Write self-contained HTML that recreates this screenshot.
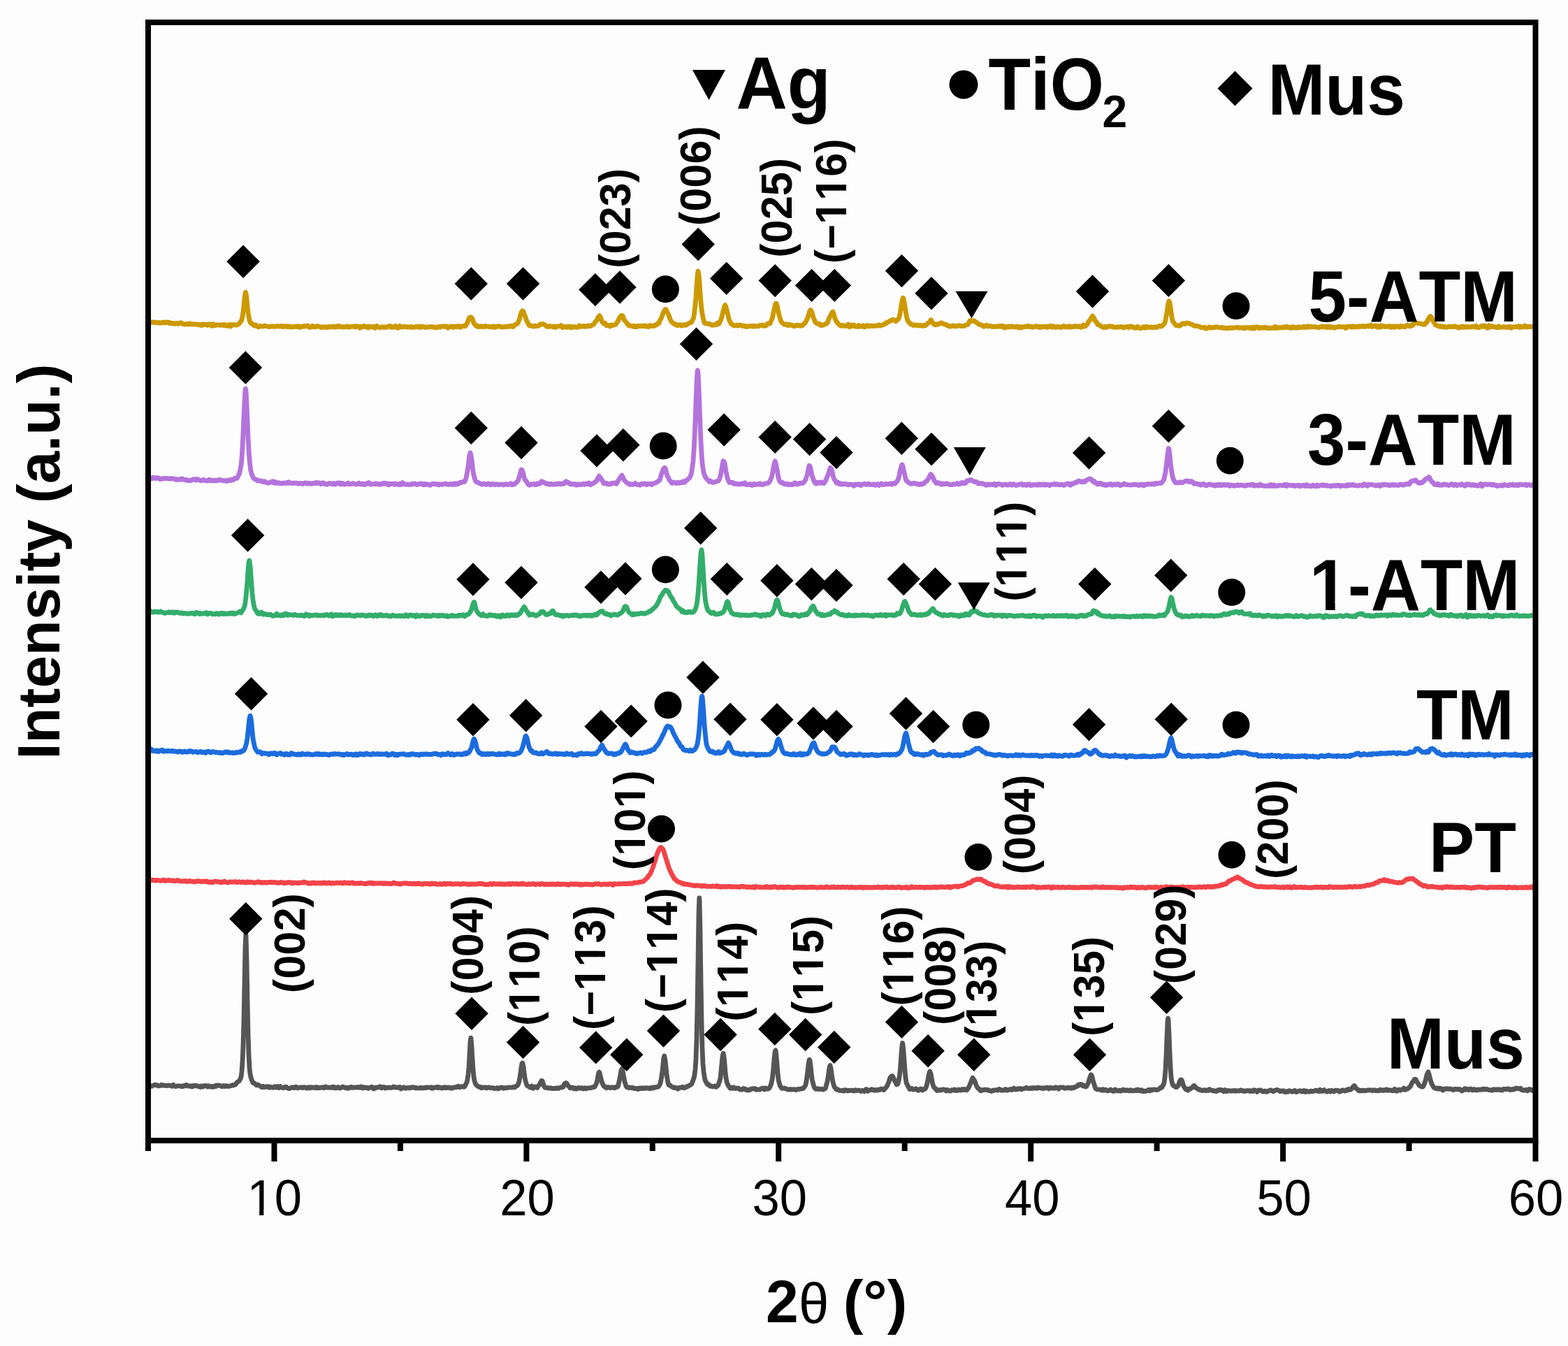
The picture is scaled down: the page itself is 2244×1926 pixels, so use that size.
<!DOCTYPE html>
<html><head><meta charset="utf-8"><title>XRD patterns</title>
<style>html,body{margin:0;padding:0;background:#fdfdfd;}svg{display:block;}</style></head>
<body><svg width="2244" height="1926" viewBox="0 0 2244 1926"><defs><clipPath id="k0" clipPathUnits="userSpaceOnUse"><path clip-rule="evenodd" d="M-200 -300H4000V300H-200ZM58.57 -7.86H70.52V3H58.57ZM78.93 -7.86H90.10V3H78.93ZM92.66 -7.86H104.61V3H92.66ZM113.02 -7.86H124.19V3H113.02Z"/></clipPath><clipPath id="k1" clipPathUnits="userSpaceOnUse"><path clip-rule="evenodd" d="M-200 -300H4000V300H-200ZM22.77 -7.86H34.72V3H22.77ZM43.13 -7.86H54.30V3H43.13ZM56.87 -7.86H68.81V3H56.87ZM77.22 -7.86H88.39V3H77.22ZM90.96 -7.86H102.90V3H90.96ZM111.32 -7.86H122.48V3H111.32Z"/></clipPath><clipPath id="k2" clipPathUnits="userSpaceOnUse"><path clip-rule="evenodd" d="M-200 -300H4000V300H-200ZM22.77 -7.86H34.72V3H22.77ZM43.13 -7.86H54.30V3H43.13ZM90.96 -7.86H102.90V3H90.96ZM111.32 -7.86H122.48V3H111.32Z"/></clipPath><clipPath id="k3" clipPathUnits="userSpaceOnUse"><path clip-rule="evenodd" d="M-200 -300H4000V300H-200ZM22.77 -7.86H34.72V3H22.77ZM43.13 -7.86H54.30V3H43.13ZM56.87 -7.86H68.81V3H56.87ZM77.22 -7.86H88.39V3H77.22Z"/></clipPath><clipPath id="k4" clipPathUnits="userSpaceOnUse"><path clip-rule="evenodd" d="M-200 -300H4000V300H-200ZM58.57 -7.86H70.52V3H58.57ZM78.93 -7.86H90.10V3H78.93ZM92.66 -7.86H104.61V3H92.66ZM113.02 -7.86H124.19V3H113.02Z"/></clipPath><clipPath id="k5" clipPathUnits="userSpaceOnUse"><path clip-rule="evenodd" d="M-200 -300H4000V300H-200ZM58.57 -7.86H70.52V3H58.57ZM78.93 -7.86H90.10V3H78.93ZM92.66 -7.86H104.61V3H92.66ZM113.02 -7.86H124.19V3H113.02Z"/></clipPath><clipPath id="k6" clipPathUnits="userSpaceOnUse"><path clip-rule="evenodd" d="M-200 -300H4000V300H-200ZM22.77 -7.86H34.72V3H22.77ZM43.13 -7.86H54.30V3H43.13ZM56.87 -7.86H68.81V3H56.87ZM77.22 -7.86H88.39V3H77.22Z"/></clipPath><clipPath id="k7" clipPathUnits="userSpaceOnUse"><path clip-rule="evenodd" d="M-200 -300H4000V300H-200ZM22.77 -7.86H34.72V3H22.77ZM43.13 -7.86H54.30V3H43.13ZM56.87 -7.86H68.81V3H56.87ZM77.22 -7.86H88.39V3H77.22Z"/></clipPath><clipPath id="k8" clipPathUnits="userSpaceOnUse"><path clip-rule="evenodd" d="M-200 -300H4000V300H-200ZM22.77 -7.86H34.72V3H22.77ZM43.13 -7.86H54.30V3H43.13ZM56.87 -7.86H68.81V3H56.87ZM77.22 -7.86H88.39V3H77.22Z"/></clipPath><clipPath id="k9" clipPathUnits="userSpaceOnUse"><path clip-rule="evenodd" d="M-200 -300H4000V300H-200ZM22.77 -7.86H34.72V3H22.77ZM43.13 -7.86H54.30V3H43.13Z"/></clipPath><clipPath id="k10" clipPathUnits="userSpaceOnUse"><path clip-rule="evenodd" d="M-200 -300H4000V300H-200ZM22.77 -7.86H34.72V3H22.77ZM43.13 -7.86H54.30V3H43.13Z"/></clipPath><clipPath id="k11" clipPathUnits="userSpaceOnUse"><path clip-rule="evenodd" d="M-200 -300H4000V300H-200ZM4.71 -11.66H23.02V3H4.71ZM36.55 -11.66H53.60V3H36.55Z"/></clipPath><clipPath id="k12" clipPathUnits="userSpaceOnUse"><path clip-rule="evenodd" d="M-200 -300H4000V300H-200ZM3.88 -6.87H17.75V3H3.88ZM23.99 -6.87H37.32V3H23.99Z"/></clipPath></defs><polyline fill="none" stroke="#CC9900" stroke-width="6.8" stroke-linejoin="round" stroke-linecap="round" points="213,461.0 214,461.7 215,462.2 216,461.4 217,460.8 218,460.8 219,461.3 220,461.5 221,461.7 222,460.9 223,461.3 224,462.1 225,461.8 226,461.8 227,461.4 228,461.7 229,462.3 230,462.0 231,461.6 232,462.1 233,461.8 234,460.9 235,461.5 236,461.9 237,460.9 238,460.9 239,461.6 240,461.5 241,461.0 242,461.6 243,462.8 244,462.7 245,462.0 246,462.3 247,463.0 248,462.7 249,462.7 250,463.4 251,463.1 252,462.3 253,462.6 254,463.1 255,463.5 256,462.8 257,462.1 258,462.3 259,461.9 260,462.4 261,463.4 262,463.1 263,463.5 264,464.3 265,464.0 266,463.8 267,464.0 268,463.3 269,463.2 270,464.1 271,463.1 272,463.0 273,463.7 274,464.0 275,463.9 276,463.6 277,464.0 278,463.7 279,463.8 280,464.2 281,464.2 282,464.0 283,464.3 284,464.9 285,464.3 286,464.4 287,465.1 288,465.6 289,464.4 290,464.0 291,465.0 292,464.6 293,463.9 294,464.6 295,464.5 296,464.2 297,465.4 298,464.5 299,463.8 300,464.0 301,464.2 302,465.5 303,466.4 304,464.9 305,463.8 306,464.9 307,465.9 308,465.8 309,464.8 310,464.8 311,465.2 312,465.0 313,464.7 314,465.0 315,465.5 316,465.3 317,465.1 318,464.6 319,464.5 320,465.6 321,465.8 322,464.6 323,465.3 324,466.2 325,466.5 326,466.3 327,465.2 328,464.5 329,465.3 330,467.1 331,466.1 332,464.6 333,465.2 334,465.1 335,464.6 336,464.7 337,464.8 338,465.3 339,465.1 340,464.7 341,464.2 342,463.5 343,462.1 344,460.3 345,459.9 346,457.5 347,452.7 348,446.2 349,437.0 350,426.7 351,419.4 351.4,418.3 352,419.2 353,427.2 354,437.8 355,446.7 356,453.3 357,458.1 358,461.0 359,462.5 360,462.4 361,463.2 362,464.6 363,465.5 364,466.0 365,465.4 366,465.0 367,466.4 368,467.2 369,467.2 370,468.0 371,466.9 372,466.2 373,466.8 374,467.0 375,467.1 376,467.0 377,466.9 378,466.2 379,466.0 380,466.4 381,466.6 382,466.8 383,467.0 384,467.7 385,467.6 386,467.4 387,467.3 388,466.9 389,466.8 390,466.8 391,467.1 392,467.3 393,467.4 394,466.8 395,467.0 396,467.2 397,466.5 398,466.8 399,466.9 400,467.1 401,467.1 402,466.5 403,466.4 404,467.5 405,467.9 406,466.7 407,466.7 408,466.6 409,467.4 410,467.4 411,466.8 412,467.7 413,466.9 414,466.8 415,467.9 416,468.0 417,467.6 418,467.9 419,467.8 420,467.5 421,467.4 422,467.6 423,467.2 424,467.3 425,467.5 426,466.6 427,467.0 428,468.3 429,468.5 430,467.6 431,467.4 432,467.5 433,467.1 434,467.4 435,466.4 436,466.4 437,467.0 438,466.6 439,466.4 440,466.0 441,466.3 442,467.3 443,468.5 444,468.1 445,467.9 446,467.8 447,466.4 448,466.6 449,467.7 450,467.4 451,467.4 452,467.8 453,467.3 454,466.4 455,466.7 456,467.2 457,467.2 458,467.7 459,468.7 460,468.0 461,467.6 462,468.2 463,468.2 464,468.3 465,467.8 466,467.6 467,468.7 468,468.7 469,467.6 470,467.5 471,468.3 472,468.2 473,467.4 474,467.9 475,467.6 476,467.2 477,467.7 478,467.0 479,467.5 480,468.2 481,467.1 482,467.3 483,467.6 484,466.5 485,466.4 486,467.3 487,467.9 488,467.9 489,467.6 490,467.8 491,467.7 492,468.0 493,468.1 494,467.7 495,467.9 496,467.3 497,466.8 498,467.9 499,468.4 500,467.6 501,467.6 502,467.5 503,467.5 504,467.4 505,467.4 506,467.0 507,467.5 508,468.0 509,466.6 510,466.8 511,467.3 512,467.5 513,467.1 514,467.3 515,469.4 516,468.7 517,467.2 518,467.6 519,467.6 520,466.9 521,466.3 522,467.3 523,467.8 524,468.3 525,468.0 526,467.4 527,469.0 528,468.6 529,466.9 530,467.2 531,467.6 532,468.0 533,468.1 534,467.4 535,467.4 536,468.9 537,469.4 538,467.0 539,466.3 540,467.2 541,467.6 542,467.9 543,468.5 544,469.0 545,468.5 546,468.2 547,467.7 548,467.8 549,468.4 550,468.5 551,467.8 552,468.1 553,468.4 554,467.7 555,467.3 556,467.1 557,467.2 558,466.2 559,466.9 560,468.4 561,467.9 562,468.1 563,468.4 564,468.1 565,466.8 566,466.5 567,467.9 568,468.7 569,469.3 570,469.2 571,467.9 572,466.2 573,467.0 574,468.0 575,468.2 576,468.1 577,467.8 578,467.2 579,467.3 580,467.8 581,467.7 582,468.1 583,467.9 584,467.9 585,467.9 586,468.1 587,468.3 588,467.7 589,467.3 590,468.3 591,468.5 592,468.2 593,468.4 594,467.7 595,467.2 596,467.5 597,468.0 598,468.2 599,467.5 600,467.0 601,467.5 602,468.5 603,467.5 604,466.9 605,467.8 606,467.8 607,467.8 608,467.7 609,468.7 610,468.7 611,468.2 612,468.2 613,467.6 614,467.7 615,468.0 616,467.4 617,467.4 618,467.7 619,468.1 620,468.1 621,467.6 622,468.2 623,468.9 624,468.8 625,468.7 626,468.0 627,467.6 628,467.5 629,468.1 630,468.3 631,467.2 632,467.1 633,467.2 634,467.2 635,467.3 636,466.7 637,467.3 638,467.8 639,467.0 640,467.4 641,469.1 642,468.1 643,467.9 644,468.3 645,467.2 646,467.4 647,467.0 648,467.6 649,468.5 650,467.6 651,467.2 652,466.8 653,466.8 654,467.8 655,467.2 656,466.5 657,467.3 658,467.9 659,468.4 660,467.6 661,466.6 662,466.8 663,466.8 664,466.2 665,466.4 666,466.7 667,465.4 668,463.3 669,461.7 670,458.9 671,456.2 672,454.4 673,454.0 673.5,454.6 674,453.8 675,454.8 676,455.8 677,458.6 678,462.6 679,463.6 680,464.5 681,466.0 682,465.6 683,466.1 684,467.7 685,467.6 686,467.1 687,467.4 688,466.9 689,466.6 690,467.8 691,467.3 692,467.3 693,467.7 694,466.4 695,466.5 696,467.0 697,467.2 698,467.2 699,467.5 700,467.7 701,467.4 702,467.5 703,467.2 704,468.0 705,468.2 706,467.5 707,466.8 708,467.5 709,468.4 710,467.8 711,467.5 712,467.2 713,466.6 714,466.7 715,467.3 716,467.8 717,467.3 718,467.5 719,468.1 720,467.9 721,467.9 722,467.7 723,467.2 724,467.5 725,467.5 726,467.6 727,467.0 728,467.2 729,467.3 730,466.5 731,466.2 732,466.4 733,467.5 734,467.5 735,467.1 736,465.7 737,464.6 738,464.5 739,463.8 740,463.4 741,462.5 742,460.1 743,457.8 744,454.4 745,450.4 746,447.2 747,445.3 748,444.8 749,445.8 750,448.7 751,451.1 752,453.7 753,457.3 754,459.4 755,461.0 756,463.5 757,465.2 758,466.0 759,466.0 760,465.8 761,466.5 762,466.6 763,466.4 764,467.2 765,467.0 766,466.1 767,466.2 768,466.7 769,466.7 770,466.3 771,466.1 772,465.0 773,464.0 774,464.4 775,464.2 776,463.4 777,463.4 778,463.9 779,464.7 780,465.1 781,465.6 782,467.2 783,467.3 784,467.3 785,467.7 786,466.7 787,466.6 788,466.7 789,467.2 790,467.2 791,467.4 792,468.2 793,466.8 794,466.9 795,468.5 796,467.8 797,467.5 798,467.1 799,466.8 800,466.8 801,466.9 802,466.9 803,465.5 804,466.5 805,468.7 806,468.2 807,467.6 808,467.9 809,467.4 810,467.6 811,468.5 812,467.6 813,467.2 814,467.9 815,467.0 816,467.5 817,469.0 818,467.9 819,467.8 820,468.2 821,467.4 822,468.0 823,468.2 824,467.6 825,468.2 826,468.6 827,468.3 828,467.1 829,465.9 830,467.1 831,467.3 832,466.9 833,466.8 834,466.6 835,466.5 836,467.2 837,467.3 838,466.5 839,466.8 840,467.3 841,466.7 842,466.0 843,466.4 844,466.5 845,466.6 846,465.9 847,465.4 848,465.0 849,464.4 850,463.6 851,461.9 852,460.5 853,459.2 854,458.4 855,456.2 856,453.9 857,454.0 857.3,452.9 858,451.6 859,453.1 860,455.5 861,458.9 862,460.9 863,461.9 864,463.0 865,462.3 866,462.2 867,464.3 868,465.8 869,465.1 870,465.7 871,465.7 872,465.7 873,467.1 874,466.2 875,465.0 876,465.7 877,465.5 878,465.3 879,464.9 880,464.5 881,464.4 882,463.0 883,461.4 884,460.2 885,458.0 886,455.8 887,454.4 888,453.0 889,451.5 889.7,451.7 890,452.1 891,451.7 892,454.1 893,457.4 894,458.7 895,459.4 896,461.1 897,462.5 898,463.3 899,465.1 900,466.0 901,465.7 902,466.0 903,466.1 904,466.5 905,467.0 906,466.6 907,466.3 908,467.6 909,467.8 910,466.7 911,467.5 912,467.6 913,466.2 914,466.5 915,466.6 916,466.1 917,466.6 918,466.8 919,466.3 920,466.1 921,466.1 922,466.9 923,466.8 924,466.0 925,467.2 926,467.2 927,466.9 928,467.7 929,466.9 930,465.6 931,465.7 932,466.6 933,466.7 934,466.3 935,466.2 936,466.6 937,465.4 938,465.1 939,465.2 940,463.8 941,462.9 942,463.1 943,462.6 944,459.5 945,457.3 946,456.0 947,453.6 948,450.8 949,447.6 950,445.8 951,444.1 952,442.6 952.4,442.6 953,442.7 954,444.5 955,447.0 956,448.8 957,450.8 958,453.4 959,456.6 960,458.8 961,460.1 962,461.2 963,462.1 964,463.1 965,463.0 966,464.1 967,464.9 968,464.2 969,465.4 970,465.9 971,465.4 972,465.1 973,464.4 974,464.8 975,466.1 976,465.6 977,465.6 978,465.4 979,464.4 980,465.1 981,465.3 982,465.2 983,464.7 984,463.6 985,462.8 986,462.4 987,462.3 988,461.6 989,461.4 990,460.6 991,457.8 992,456.5 993,452.8 994,444.6 995,436.2 996,425.0 997,409.7 998,395.1 999,388.0 999.2,389.0 1000,392.7 1001,403.4 1002,418.0 1003,432.2 1004,442.1 1005,448.9 1006,454.0 1007,458.4 1008,461.8 1009,462.6 1010,462.6 1011,463.2 1012,462.8 1013,463.0 1014,463.7 1015,463.2 1016,463.6 1017,464.2 1018,464.9 1019,465.4 1020,465.3 1021,464.6 1022,464.7 1023,465.0 1024,465.1 1025,464.5 1026,462.4 1027,462.2 1028,463.8 1029,463.3 1030,460.9 1031,459.2 1032,456.9 1033,453.5 1034,449.2 1035,444.8 1036,441.1 1037,437.9 1037.8,436.5 1038,436.9 1039,439.6 1040,443.3 1041,447.3 1042,451.4 1043,456.0 1044,458.9 1045,460.5 1046,463.0 1047,463.8 1048,463.9 1049,464.9 1050,466.0 1051,466.0 1052,465.6 1053,465.7 1054,465.2 1055,465.8 1056,466.3 1057,465.1 1058,465.3 1059,465.3 1060,465.0 1061,465.9 1062,465.9 1063,466.5 1064,466.2 1065,465.9 1066,466.9 1067,467.4 1068,467.6 1069,467.1 1070,466.7 1071,466.6 1072,467.1 1073,466.8 1074,466.5 1075,466.8 1076,466.6 1077,466.5 1078,467.4 1079,467.2 1080,466.3 1081,466.7 1082,466.9 1083,466.9 1084,466.8 1085,467.0 1086,466.1 1087,465.6 1088,465.7 1089,465.7 1090,465.7 1091,465.0 1092,465.4 1093,466.4 1094,466.5 1095,465.9 1096,466.0 1097,465.2 1098,463.3 1099,463.1 1100,463.3 1101,463.2 1102,463.1 1103,460.3 1104,458.1 1105,456.3 1106,451.7 1107,446.7 1108,442.7 1109,438.4 1110,434.5 1110.5,434.1 1111,434.1 1112,436.8 1113,441.6 1114,446.2 1115,450.9 1116,454.1 1117,457.6 1118,460.0 1119,461.5 1120,462.4 1121,463.0 1122,463.9 1123,464.2 1124,464.6 1125,463.8 1126,463.8 1127,465.0 1128,465.9 1129,465.3 1130,464.1 1131,464.5 1132,465.4 1133,465.5 1134,465.3 1135,466.0 1136,466.8 1137,466.7 1138,465.9 1139,465.5 1140,465.8 1141,465.1 1142,465.6 1143,466.2 1144,465.4 1145,465.9 1146,466.3 1147,465.9 1148,465.8 1149,465.4 1150,463.8 1151,462.6 1152,462.6 1153,461.0 1154,458.6 1155,456.7 1156,454.3 1157,451.4 1158,447.9 1159,444.7 1160,443.7 1161,445.0 1162,447.0 1163,450.7 1164,454.3 1165,456.3 1166,459.1 1167,461.2 1168,462.3 1169,462.7 1170,463.1 1171,463.8 1172,463.7 1173,463.4 1174,465.0 1175,465.8 1176,465.0 1177,465.6 1178,465.3 1179,464.9 1180,464.1 1181,463.6 1182,463.5 1183,462.8 1184,462.0 1185,459.6 1186,456.7 1187,454.4 1188,452.8 1189,450.8 1190,448.6 1191,446.7 1192,446.1 1193,448.9 1194,452.6 1195,455.4 1196,458.2 1197,460.4 1198,461.3 1199,462.2 1200,463.6 1201,464.7 1202,465.0 1203,466.3 1204,466.4 1205,465.6 1206,465.4 1207,465.3 1208,466.1 1209,466.6 1210,466.3 1211,466.3 1212,466.5 1213,465.5 1214,464.0 1215,465.9 1216,467.8 1217,466.8 1218,465.6 1219,465.1 1220,466.5 1221,465.9 1222,465.1 1223,466.8 1224,467.0 1225,466.9 1226,466.8 1227,467.6 1228,467.2 1229,465.5 1230,466.1 1231,467.3 1232,467.2 1233,467.0 1234,466.8 1235,465.8 1236,466.6 1237,467.9 1238,467.9 1239,467.0 1240,465.8 1241,465.5 1242,465.9 1243,466.6 1244,467.0 1245,466.0 1246,465.9 1247,466.5 1248,466.4 1249,466.4 1250,466.2 1251,466.5 1252,466.6 1253,466.4 1254,466.0 1255,466.0 1256,466.2 1257,465.0 1258,465.2 1259,466.0 1260,466.0 1261,465.9 1262,465.3 1263,465.2 1264,464.9 1265,464.3 1266,463.0 1267,463.5 1268,463.0 1269,461.3 1270,461.5 1271,461.0 1272,460.1 1273,459.5 1274,459.1 1275,458.4 1276,458.9 1277,458.3 1278,457.2 1279,457.9 1280,457.9 1281,458.6 1282,459.7 1283,459.2 1284,457.8 1285,457.3 1286,455.9 1287,453.4 1288,449.3 1289,443.0 1290,436.3 1291,430.6 1292,427.3 1292.4,426.3 1293,427.2 1294,432.0 1295,438.0 1296,444.2 1297,450.7 1298,455.7 1299,458.6 1300,460.4 1301,461.1 1302,462.3 1303,463.6 1304,464.1 1305,464.3 1306,465.2 1307,465.6 1308,464.9 1309,464.8 1310,465.1 1311,465.4 1312,465.3 1313,465.2 1314,466.1 1315,466.2 1316,465.6 1317,465.3 1318,465.7 1319,466.2 1320,466.5 1321,466.2 1322,465.1 1323,465.6 1324,466.1 1325,465.3 1326,464.7 1327,463.4 1328,462.2 1329,461.8 1330,461.4 1331,460.3 1332,457.9 1332.4,457.7 1333,459.4 1334,460.7 1335,461.8 1336,463.3 1337,464.5 1338,464.7 1339,464.9 1340,463.9 1341,463.8 1342,464.5 1343,463.5 1344,463.1 1345,463.0 1346,462.3 1347,461.9 1348,462.2 1349,462.8 1350,463.3 1351,464.0 1352,464.0 1353,464.1 1354,464.6 1355,464.9 1356,466.1 1357,466.5 1358,466.4 1359,466.5 1360,467.3 1361,466.8 1362,466.5 1363,466.4 1364,465.8 1365,466.5 1366,466.4 1367,466.4 1368,467.1 1369,466.5 1370,466.1 1371,466.4 1372,465.6 1373,465.6 1374,466.1 1375,466.7 1376,466.5 1377,466.6 1378,466.6 1379,466.5 1380,466.7 1381,465.6 1382,465.3 1383,465.0 1384,464.7 1385,464.4 1386,462.8 1387,460.7 1388,458.9 1389,458.5 1390,459.5 1391,459.4 1392,459.0 1393,458.8 1394,458.9 1395,459.5 1396,460.7 1397,460.9 1398,461.8 1399,462.7 1400,463.0 1401,464.0 1402,464.4 1403,464.7 1404,464.7 1405,465.4 1406,465.6 1407,467.0 1408,467.5 1409,466.2 1410,466.2 1411,466.1 1412,465.3 1413,465.7 1414,467.0 1415,466.5 1416,466.4 1417,466.5 1418,466.5 1419,467.3 1420,467.5 1421,467.6 1422,467.1 1423,467.3 1424,467.4 1425,467.2 1426,467.7 1427,467.4 1428,466.6 1429,467.0 1430,467.1 1431,466.4 1432,466.4 1433,467.2 1434,467.7 1435,466.3 1436,466.7 1437,468.6 1438,469.1 1439,467.9 1440,467.2 1441,467.7 1442,468.1 1443,467.8 1444,467.0 1445,467.3 1446,468.1 1447,467.1 1448,466.7 1449,467.4 1450,467.6 1451,467.7 1452,468.1 1453,468.1 1454,467.7 1455,466.9 1456,467.2 1457,468.4 1458,469.0 1459,468.4 1460,467.5 1461,468.2 1462,468.9 1463,468.4 1464,468.0 1465,467.5 1466,467.5 1467,467.5 1468,467.1 1469,467.5 1470,467.3 1471,466.4 1472,466.3 1473,467.4 1474,467.7 1475,467.4 1476,467.6 1477,468.1 1478,468.3 1479,467.7 1480,467.3 1481,467.5 1482,467.1 1483,466.6 1484,466.9 1485,467.2 1486,468.2 1487,468.6 1488,467.5 1489,467.4 1490,468.4 1491,468.1 1492,467.2 1493,467.3 1494,467.3 1495,467.6 1496,468.2 1497,467.6 1498,467.1 1499,468.4 1500,468.2 1501,467.4 1502,467.3 1503,466.2 1504,466.5 1505,468.2 1506,468.1 1507,466.7 1508,467.0 1509,467.9 1510,468.2 1511,468.6 1512,468.0 1513,467.8 1514,467.1 1515,467.5 1516,468.3 1517,468.3 1518,468.7 1519,468.1 1520,467.6 1521,467.3 1522,466.4 1523,466.8 1524,467.8 1525,467.3 1526,467.6 1527,468.1 1528,468.0 1529,467.6 1530,466.6 1531,467.3 1532,468.3 1533,467.9 1534,467.5 1535,467.4 1536,467.5 1537,467.4 1538,466.5 1539,467.1 1540,467.3 1541,466.7 1542,467.2 1543,467.5 1544,466.8 1545,467.2 1546,468.2 1547,467.9 1548,468.1 1549,467.2 1550,465.1 1551,465.4 1552,467.2 1553,467.2 1554,465.8 1555,464.6 1556,464.0 1557,462.1 1558,460.2 1559,458.9 1560,458.0 1561,456.0 1562,454.4 1563,453.7 1563.5,452.1 1564,453.2 1565,454.5 1566,455.5 1567,458.7 1568,460.1 1569,460.5 1570,462.7 1571,464.5 1572,464.4 1573,464.6 1574,465.5 1575,466.8 1576,467.1 1577,467.2 1578,468.2 1579,468.6 1580,468.6 1581,468.7 1582,467.4 1583,467.4 1584,468.4 1585,467.8 1586,467.2 1587,466.6 1588,466.6 1589,467.3 1590,467.3 1591,467.0 1592,467.3 1593,468.0 1594,468.1 1595,467.8 1596,468.5 1597,468.5 1598,468.2 1599,467.8 1600,467.7 1601,468.3 1602,468.2 1603,468.0 1604,467.4 1605,467.5 1606,467.8 1607,468.4 1608,469.0 1609,468.0 1610,467.9 1611,468.2 1612,468.2 1613,468.2 1614,467.3 1615,468.0 1616,468.8 1617,467.8 1618,466.8 1619,467.1 1620,467.4 1621,467.5 1622,468.3 1623,469.2 1624,468.7 1625,468.7 1626,469.4 1627,468.6 1628,467.3 1629,467.9 1630,468.9 1631,469.6 1632,469.9 1633,469.2 1634,469.3 1635,468.5 1636,467.8 1637,468.2 1638,468.9 1639,469.2 1640,467.1 1641,467.4 1642,468.4 1643,468.1 1644,468.3 1645,468.0 1646,468.5 1647,468.5 1648,467.7 1649,468.2 1650,468.8 1651,468.1 1652,468.2 1653,467.9 1654,468.4 1655,468.6 1656,467.9 1657,467.8 1658,467.1 1659,466.3 1660,466.6 1661,467.0 1662,467.2 1663,466.8 1664,465.1 1665,464.3 1666,463.7 1667,461.7 1668,458.1 1669,452.4 1670,446.6 1671,439.9 1672,433.6 1673,430.7 1674,433.3 1675,439.6 1676,446.6 1677,453.8 1678,458.6 1679,460.5 1680,461.7 1681,463.1 1682,464.6 1683,465.6 1684,465.6 1685,465.7 1686,466.0 1687,466.0 1688,466.4 1689,465.9 1690,465.0 1691,463.9 1692,462.9 1693,463.1 1694,462.9 1695,463.0 1696,463.7 1697,463.1 1698,462.2 1699,462.1 1700,462.3 1701,462.4 1702,462.7 1703,463.4 1704,463.7 1705,464.2 1706,464.5 1707,464.6 1708,465.8 1709,466.2 1710,466.1 1711,466.5 1712,466.3 1713,466.4 1714,466.5 1715,467.0 1716,467.3 1717,467.3 1718,468.3 1719,468.5 1720,468.6 1721,468.9 1722,468.9 1723,468.6 1724,468.3 1725,469.8 1726,470.2 1727,469.5 1728,469.3 1729,469.2 1730,468.6 1731,467.9 1732,468.6 1733,469.4 1734,469.0 1735,468.6 1736,468.7 1737,468.7 1738,468.3 1739,467.8 1740,468.3 1741,468.2 1742,467.8 1743,468.3 1744,468.3 1745,468.7 1746,469.0 1747,468.8 1748,468.6 1749,468.3 1750,469.0 1751,469.5 1752,469.1 1753,469.1 1754,469.4 1755,469.3 1756,470.0 1757,469.7 1758,469.2 1759,469.6 1760,469.3 1761,468.6 1762,469.0 1763,469.7 1764,469.4 1765,469.2 1766,469.2 1767,468.8 1768,468.9 1769,468.5 1770,468.3 1771,468.5 1772,468.3 1773,469.3 1774,469.3 1775,468.8 1776,469.1 1777,469.2 1778,468.8 1779,468.7 1780,469.6 1781,470.0 1782,469.6 1783,468.7 1784,468.8 1785,468.7 1786,468.7 1787,468.7 1788,469.4 1789,469.1 1790,468.8 1791,469.9 1792,468.5 1793,468.0 1794,469.5 1795,470.1 1796,468.7 1797,467.9 1798,468.1 1799,467.9 1800,468.1 1801,469.4 1802,469.8 1803,468.8 1804,468.6 1805,469.0 1806,469.4 1807,468.7 1808,469.1 1809,469.0 1810,468.2 1811,468.9 1812,469.7 1813,469.4 1814,468.7 1815,469.5 1816,469.6 1817,469.5 1818,469.7 1819,469.3 1820,469.1 1821,469.4 1822,469.1 1823,469.4 1824,468.5 1825,467.3 1826,468.9 1827,469.5 1828,468.5 1829,468.5 1830,469.3 1831,468.8 1832,468.7 1833,468.9 1834,468.4 1835,468.5 1836,469.0 1837,468.5 1838,467.8 1839,468.6 1840,468.2 1841,467.2 1842,468.0 1843,468.7 1844,468.4 1845,468.4 1846,468.1 1847,469.3 1848,469.3 1849,467.8 1850,467.6 1851,467.6 1852,468.9 1853,469.1 1854,468.6 1855,468.4 1856,468.9 1857,469.2 1858,467.8 1859,468.1 1860,468.5 1861,468.4 1862,468.6 1863,468.4 1864,468.4 1865,467.9 1866,467.1 1867,468.0 1868,468.6 1869,468.3 1870,468.1 1871,467.1 1872,466.7 1873,468.2 1874,468.4 1875,467.6 1876,467.3 1877,467.2 1878,467.7 1879,467.8 1880,467.9 1881,467.8 1882,467.5 1883,467.8 1884,468.2 1885,468.1 1886,468.7 1887,468.9 1888,468.2 1889,467.8 1890,468.1 1891,468.0 1892,466.8 1893,466.8 1894,467.8 1895,467.7 1896,468.0 1897,468.5 1898,467.2 1899,467.1 1900,468.6 1901,468.3 1902,466.9 1903,467.5 1904,468.7 1905,468.9 1906,468.1 1907,467.8 1908,468.1 1909,468.5 1910,469.3 1911,468.7 1912,468.4 1913,468.2 1914,467.9 1915,467.6 1916,467.0 1917,467.6 1918,467.6 1919,467.8 1920,467.9 1921,467.6 1922,467.8 1923,467.6 1924,467.6 1925,468.3 1926,469.6 1927,468.6 1928,467.3 1929,467.7 1930,467.2 1931,467.4 1932,467.4 1933,467.2 1934,468.1 1935,467.2 1936,466.8 1937,467.9 1938,467.3 1939,467.3 1940,467.9 1941,467.5 1942,467.8 1943,467.4 1944,467.1 1945,467.5 1946,466.7 1947,466.7 1948,467.0 1949,467.4 1950,466.9 1951,466.4 1952,466.8 1953,467.6 1954,467.2 1955,467.0 1956,466.7 1957,466.3 1958,467.0 1959,467.0 1960,466.7 1961,465.6 1962,465.2 1963,466.7 1964,467.5 1965,466.5 1966,466.8 1967,466.8 1968,466.1 1969,465.9 1970,466.8 1971,468.2 1972,467.3 1973,466.5 1974,467.4 1975,468.3 1976,466.8 1977,465.9 1978,467.3 1979,466.6 1980,466.5 1981,467.3 1982,467.5 1983,467.1 1984,467.0 1985,467.0 1986,467.2 1987,467.5 1988,467.1 1989,466.4 1990,467.3 1991,468.5 1992,468.2 1993,467.4 1994,466.8 1995,467.9 1996,468.4 1997,467.3 1998,467.0 1999,467.4 2000,467.3 2001,466.8 2002,467.5 2003,468.2 2004,467.5 2005,466.5 2006,466.3 2007,467.0 2008,467.6 2009,467.5 2010,467.5 2011,467.7 2012,466.8 2013,465.5 2014,465.2 2015,465.6 2016,466.0 2017,466.6 2018,467.0 2019,466.5 2020,465.0 2021,465.6 2022,465.6 2023,463.8 2024,462.9 2025,461.8 2026,461.6 2027,462.0 2028,462.2 2029,462.6 2030,462.6 2031,463.2 2032,463.2 2033,463.0 2034,463.6 2035,463.6 2036,463.8 2037,464.3 2038,464.6 2039,464.3 2040,462.5 2041,461.5 2042,461.6 2043,459.1 2044,456.1 2045,455.0 2046,453.3 2047,452.5 2048,453.7 2049,454.9 2050,457.0 2051,459.8 2052,460.9 2053,462.3 2054,464.5 2055,465.3 2056,465.6 2057,466.4 2058,466.4 2059,466.8 2060,467.3 2061,466.5 2062,466.7 2063,467.6 2064,467.8 2065,467.2 2066,467.1 2067,468.0 2068,467.9 2069,467.9 2070,468.4 2071,467.9 2072,467.6 2073,467.5 2074,467.7 2075,467.8 2076,467.1 2077,467.2 2078,467.4 2079,467.6 2080,467.8 2081,467.1 2082,466.7 2083,467.3 2084,467.9 2085,467.7 2086,468.7 2087,469.2 2088,468.0 2089,467.8 2090,468.5 2091,468.3 2092,466.9 2093,466.8 2094,467.6 2095,468.5 2096,467.7 2097,467.4 2098,468.2 2099,467.9 2100,467.8 2101,467.5 2102,468.2 2103,468.1 2104,468.1 2105,468.0 2106,467.4 2107,467.3 2108,467.2 2109,467.3 2110,468.1 2111,467.7 2112,466.3 2113,466.8 2114,468.3 2115,468.8 2116,468.6 2117,468.7 2118,467.8 2119,467.3 2120,466.4 2121,466.1 2122,467.6 2123,467.2 2124,466.0 2125,466.1 2126,467.1 2127,468.2 2128,469.3 2129,469.4 2130,467.5 2131,465.9 2132,466.6 2133,468.1 2134,467.3 2135,466.6 2136,467.2 2137,467.4 2138,467.5 2139,467.7 2140,468.3 2141,468.1 2142,468.0 2143,468.8 2144,468.0 2145,466.7 2146,467.4 2147,468.7 2148,468.5 2149,468.2 2150,468.0 2151,467.9 2152,467.7 2153,467.6 2154,468.1 2155,468.0 2156,468.4 2157,468.7 2158,467.8 2159,467.7 2160,467.2 2161,467.3 2162,469.3 2163,469.1 2164,468.1 2165,467.9 2166,468.0 2167,467.8 2168,467.7 2169,467.8 2170,467.3 2171,467.5 2172,467.6 2173,466.8 2174,467.8 2175,468.6 2176,466.9 2177,467.3 2178,468.1 2179,467.7 2180,468.0 2181,467.5 2182,465.9 2183,466.2 2184,467.7 2185,468.2 2186,467.7 2187,467.1 2188,467.7 2189,467.6 2190,467.3 2191,467.6 2192,467.3 2193,467.9 2194,467.9 2195,467.2"/>
<polyline fill="none" stroke="#B473DC" stroke-width="6.8" stroke-linejoin="round" stroke-linecap="round" points="213,683.7 214,684.3 215,684.6 216,684.5 217,685.0 218,684.2 219,683.2 220,683.2 221,683.5 222,684.6 223,684.7 224,684.5 225,683.7 226,683.6 227,684.1 228,684.8 229,685.7 230,685.4 231,685.0 232,684.9 233,685.3 234,684.9 235,684.4 236,684.6 237,684.6 238,684.4 239,684.6 240,684.6 241,685.1 242,684.7 243,684.8 244,685.3 245,684.7 246,684.4 247,684.7 248,685.2 249,685.4 250,685.3 251,685.3 252,686.4 253,686.6 254,685.6 255,685.9 256,686.1 257,686.0 258,686.4 259,686.0 260,684.9 261,685.0 262,686.1 263,686.2 264,686.2 265,686.8 266,686.4 267,686.6 268,687.6 269,687.6 270,687.4 271,687.5 272,688.0 273,687.6 274,686.7 275,686.9 276,686.5 277,685.6 278,685.7 279,686.6 280,687.2 281,686.4 282,685.4 283,685.9 284,686.7 285,686.9 286,687.3 287,687.9 288,687.7 289,687.5 290,686.9 291,686.2 292,686.8 293,687.6 294,687.9 295,687.9 296,687.9 297,688.1 298,686.9 299,686.3 300,687.3 301,687.9 302,687.0 303,687.3 304,687.8 305,687.2 306,687.6 307,688.0 308,687.3 309,687.4 310,688.1 311,687.3 312,687.1 313,686.5 314,686.3 315,687.4 316,687.4 317,687.1 318,687.4 319,687.5 320,688.0 321,688.0 322,687.4 323,687.6 324,688.6 325,688.1 326,687.3 327,686.7 328,687.0 329,687.9 330,687.7 331,687.2 332,686.0 333,686.2 334,686.7 335,685.6 336,684.2 337,684.3 338,684.2 339,684.5 340,683.3 341,680.6 342,679.0 343,675.8 344,671.3 345,666.1 346,656.3 347,640.3 348,619.8 349,596.3 350,573.4 351,558.1 351.4,556.1 352,559.5 353,577.6 354,601.7 355,625.3 356,643.8 357,656.9 358,667.2 359,673.9 360,677.4 361,680.1 362,682.9 363,684.2 364,684.9 365,685.8 366,686.6 367,686.3 368,686.5 369,688.0 370,687.9 371,687.6 372,688.3 373,688.1 374,688.0 375,688.6 376,689.4 377,689.7 378,689.0 379,688.9 380,689.8 381,690.5 382,690.8 383,690.8 384,691.1 385,691.2 386,690.4 387,690.1 388,690.2 389,689.1 390,688.7 391,690.8 392,691.1 393,689.2 394,689.5 395,691.2 396,691.5 397,691.0 398,690.9 399,690.7 400,691.4 401,691.9 402,691.3 403,691.3 404,691.9 405,691.4 406,691.1 407,691.3 408,690.9 409,691.3 410,691.6 411,690.8 412,690.1 413,689.8 414,691.3 415,691.4 416,690.9 417,691.3 418,691.3 419,691.8 420,691.2 421,690.8 422,691.2 423,691.4 424,691.4 425,691.2 426,691.5 427,692.3 428,692.2 429,691.3 430,691.3 431,691.6 432,691.7 433,692.5 434,692.2 435,691.4 436,691.1 437,691.0 438,691.1 439,692.0 440,692.4 441,691.4 442,692.2 443,691.8 444,691.4 445,692.4 446,692.3 447,691.8 448,691.4 449,691.4 450,691.8 451,691.0 452,690.4 453,691.5 454,691.5 455,690.6 456,690.8 457,691.3 458,691.7 459,692.7 460,692.4 461,690.9 462,690.8 463,691.3 464,691.7 465,692.9 466,692.7 467,692.9 468,693.4 469,692.8 470,691.8 471,691.6 472,691.4 473,691.8 474,692.5 475,692.7 476,692.8 477,691.3 478,691.5 479,692.8 480,693.2 481,692.4 482,691.2 483,691.7 484,691.7 485,691.0 486,691.0 487,692.8 488,693.0 489,691.4 490,691.5 491,691.9 492,692.7 493,693.2 494,692.9 495,692.5 496,692.3 497,692.0 498,691.2 499,692.4 500,692.9 501,692.5 502,692.5 503,692.1 504,692.1 505,691.6 506,691.6 507,692.4 508,692.8 509,692.9 510,693.0 511,692.9 512,692.4 513,691.4 514,691.2 515,692.8 516,693.1 517,692.8 518,692.6 519,692.0 520,693.0 521,693.5 522,693.2 523,693.3 524,692.5 525,691.3 526,691.4 527,691.8 528,690.7 529,692.0 530,693.3 531,693.1 532,692.8 533,692.5 534,692.7 535,692.7 536,692.6 537,692.9 538,691.7 539,691.8 540,692.6 541,692.6 542,693.4 543,692.7 544,692.5 545,693.3 546,692.6 547,692.0 548,692.4 549,691.6 550,691.3 551,692.4 552,692.4 553,691.6 554,691.7 555,693.1 556,693.9 557,693.1 558,692.2 559,692.2 560,692.6 561,692.3 562,692.2 563,692.8 564,693.3 565,692.0 566,692.0 567,693.2 568,693.2 569,693.2 570,692.9 571,693.6 572,692.1 573,692.1 574,693.5 575,692.0 576,690.7 577,691.7 578,692.4 579,692.7 580,693.3 581,692.8 582,693.1 583,693.3 584,693.2 585,693.5 586,693.3 587,693.3 588,693.5 589,692.5 590,692.1 591,692.6 592,692.6 593,691.9 594,691.9 595,692.7 596,693.1 597,693.6 598,693.3 599,692.4 600,692.4 601,692.5 602,692.5 603,691.8 604,692.2 605,693.5 606,693.9 607,692.9 608,692.3 609,693.7 610,693.7 611,693.0 612,693.0 613,693.3 614,693.8 615,694.4 616,694.2 617,693.4 618,692.6 619,692.2 620,692.5 621,692.5 622,692.2 623,692.9 624,693.0 625,692.6 626,692.5 627,692.6 628,693.9 629,693.4 630,692.8 631,693.1 632,693.1 633,693.3 634,692.9 635,692.6 636,692.6 637,692.3 638,692.0 639,692.8 640,693.0 641,692.9 642,693.5 643,692.7 644,692.9 645,692.9 646,692.7 647,693.7 648,693.1 649,692.0 650,691.8 651,693.2 652,693.4 653,691.8 654,692.2 655,692.6 656,692.1 657,691.6 658,690.5 659,690.4 660,690.7 661,690.0 662,689.6 663,689.4 664,689.5 665,689.1 666,687.3 667,684.0 668,679.1 669,673.7 670,667.0 671,658.9 672,651.3 673,647.7 674,651.0 675,657.9 676,665.9 677,674.0 678,679.6 679,683.4 680,687.0 681,688.9 682,689.8 683,690.0 684,690.2 685,691.0 686,691.6 687,692.2 688,692.1 689,692.9 690,693.3 691,692.4 692,692.0 693,692.2 694,692.3 695,693.1 696,693.7 697,692.9 698,692.4 699,692.0 700,692.3 701,693.4 702,693.9 703,693.3 704,693.0 705,692.2 706,692.5 707,693.2 708,693.5 709,693.6 710,692.7 711,692.9 712,692.9 713,693.4 714,693.8 715,693.3 716,693.4 717,693.0 718,693.1 719,693.3 720,693.9 721,693.8 722,693.2 723,693.0 724,692.6 725,692.7 726,693.4 727,693.5 728,693.3 729,693.2 730,692.5 731,691.7 732,692.1 733,693.8 734,693.2 735,692.8 736,693.1 737,691.9 738,691.4 739,690.7 740,689.2 741,688.6 742,686.5 743,682.4 744,679.2 745,675.4 746,672.1 746.5,672.1 747,672.5 748,674.8 749,678.0 750,682.9 751,686.3 752,687.4 753,688.2 754,689.7 755,692.0 756,693.0 757,693.9 758,694.2 759,693.2 760,692.7 761,693.2 762,693.3 763,692.8 764,692.4 765,692.4 766,693.7 767,693.6 768,692.8 769,691.6 770,691.7 771,692.6 772,692.2 773,691.6 774,690.0 775,688.8 776,689.3 777,690.1 778,689.9 779,690.4 780,691.1 781,692.0 782,692.4 783,691.8 784,692.2 785,692.6 786,693.3 787,693.4 788,692.2 789,692.4 790,692.9 791,693.1 792,693.3 793,692.7 794,692.6 795,693.0 796,692.4 797,692.2 798,692.8 799,692.4 800,691.7 801,692.2 802,692.6 803,692.9 804,692.1 805,691.8 806,692.3 807,692.4 808,691.3 809,689.6 810,688.7 811,689.2 812,690.6 813,690.5 814,690.7 815,692.0 816,692.7 817,692.5 818,692.6 819,693.0 820,692.4 821,692.6 822,693.2 823,692.7 824,692.8 825,694.1 826,693.3 827,692.7 828,693.8 829,693.5 830,693.2 831,693.1 832,693.6 833,693.2 834,692.6 835,692.1 836,692.3 837,693.3 838,692.4 839,691.8 840,692.7 841,692.8 842,692.0 843,691.0 844,691.7 845,693.6 846,693.1 847,692.2 848,692.4 849,691.8 850,691.1 851,690.4 852,688.9 853,688.6 854,688.5 855,685.6 856,683.5 857,682.1 857.3,681.1 858,682.3 859,683.2 860,683.9 861,686.4 862,687.7 863,689.6 864,691.7 865,691.7 866,692.1 867,691.8 868,691.3 869,692.2 870,693.1 871,692.9 872,692.5 873,692.2 874,692.8 875,692.4 876,691.3 877,691.7 878,691.3 879,690.8 880,690.8 881,691.6 882,692.4 883,691.5 884,688.9 885,687.2 886,686.2 887,684.4 888,682.4 889,681.4 889.7,680.4 890,680.0 891,681.9 892,684.3 893,686.3 894,687.7 895,689.0 896,689.8 897,690.7 898,691.5 899,691.5 900,692.4 901,693.4 902,692.8 903,692.6 904,693.4 905,693.3 906,692.9 907,693.0 908,692.2 909,691.4 910,692.4 911,693.2 912,693.6 913,693.2 914,693.1 915,693.8 916,694.2 917,693.3 918,692.3 919,692.8 920,693.0 921,692.4 922,692.0 923,691.9 924,693.2 925,693.7 926,692.6 927,692.3 928,692.3 929,692.9 930,692.6 931,692.2 932,693.2 933,693.6 934,692.6 935,691.9 936,691.6 937,691.2 938,691.1 939,690.8 940,689.9 941,689.4 942,688.4 943,687.4 944,687.3 945,684.7 946,680.0 947,677.4 948,674.6 949,672.0 950,670.3 950.5,669.6 951,669.3 952,670.0 953,673.3 954,677.7 955,680.6 956,682.4 957,684.7 958,686.9 959,688.2 960,689.2 961,691.0 962,691.4 963,690.3 964,690.0 965,690.7 966,690.6 967,690.9 968,691.6 969,690.3 970,690.3 971,690.9 972,691.3 973,690.5 974,690.0 975,690.5 976,690.6 977,689.9 978,688.9 979,689.9 980,690.2 981,688.2 982,687.6 983,687.3 984,686.1 985,685.0 986,684.7 987,683.6 988,681.3 989,678.9 990,674.1 991,667.6 992,659.3 993,645.2 994,626.0 995,602.3 996,574.4 997,548.1 998,531.8 998.4,529.9 999,533.2 1000,552.1 1001,579.3 1002,607.6 1003,630.9 1004,648.9 1005,662.3 1006,670.1 1007,675.5 1008,679.2 1009,681.6 1010,683.4 1011,684.7 1012,686.2 1013,686.4 1014,687.9 1015,689.3 1016,688.2 1017,688.2 1018,689.1 1019,690.1 1020,690.4 1021,689.8 1022,689.8 1023,689.9 1024,689.7 1025,688.9 1026,688.6 1027,688.3 1028,688.1 1029,687.0 1030,684.4 1031,680.9 1032,676.3 1033,670.9 1034,664.5 1035,659.8 1035.7,660.2 1036,660.3 1037,662.9 1038,668.9 1039,674.7 1040,679.4 1041,683.9 1042,686.6 1043,688.9 1044,690.6 1045,690.4 1046,690.3 1047,690.6 1048,690.2 1049,690.6 1050,692.2 1051,692.5 1052,692.0 1053,692.2 1054,692.7 1055,692.5 1056,692.4 1057,693.0 1058,693.1 1059,692.5 1060,692.4 1061,692.6 1062,691.9 1063,692.0 1064,692.6 1065,691.6 1066,690.9 1067,692.7 1068,693.6 1069,693.4 1070,693.2 1071,693.3 1072,693.7 1073,692.7 1074,692.6 1075,693.6 1076,694.6 1077,694.1 1078,692.8 1079,692.2 1080,692.7 1081,693.6 1082,693.3 1083,692.7 1084,693.0 1085,693.3 1086,693.1 1087,692.1 1088,691.8 1089,693.3 1090,693.3 1091,693.5 1092,693.6 1093,692.3 1094,692.2 1095,692.4 1096,691.8 1097,691.5 1098,691.3 1099,691.5 1100,691.0 1101,689.7 1102,688.1 1103,685.7 1104,683.6 1105,679.9 1106,674.7 1107,669.2 1108,664.0 1109,660.3 1109.2,659.9 1110,662.2 1111,666.9 1112,672.0 1113,677.5 1114,683.3 1115,686.7 1116,688.8 1117,690.0 1118,690.7 1119,690.8 1120,690.5 1121,691.5 1122,692.6 1123,692.9 1124,692.8 1125,692.5 1126,691.9 1127,692.7 1128,693.6 1129,693.6 1130,693.6 1131,692.8 1132,693.3 1133,693.6 1134,693.2 1135,693.5 1136,692.1 1137,690.9 1138,690.9 1139,691.7 1140,692.9 1141,692.8 1142,692.6 1143,692.1 1144,691.3 1145,691.4 1146,691.5 1147,691.2 1148,690.9 1149,691.3 1150,690.7 1151,689.3 1152,688.0 1153,686.0 1154,683.0 1155,680.1 1156,676.0 1157,670.2 1158,666.3 1158.6,666.5 1159,667.3 1160,670.4 1161,675.2 1162,679.7 1163,683.2 1164,686.0 1165,688.5 1166,690.3 1167,691.4 1168,692.1 1169,691.2 1170,690.2 1171,690.1 1172,690.5 1173,691.4 1174,691.1 1175,689.9 1176,690.3 1177,691.4 1178,691.6 1179,691.6 1180,690.5 1181,688.5 1182,687.0 1183,684.5 1184,681.5 1185,679.3 1186,676.7 1187,673.2 1188,670.2 1188.4,669.4 1189,669.8 1190,671.6 1191,675.4 1192,680.4 1193,683.5 1194,685.8 1195,687.1 1196,688.9 1197,691.0 1198,690.0 1199,689.8 1200,691.5 1201,692.8 1202,692.4 1203,691.8 1204,693.0 1205,693.3 1206,692.6 1207,692.3 1208,692.5 1209,692.4 1210,692.8 1211,692.9 1212,692.7 1213,693.5 1214,693.9 1215,693.5 1216,693.0 1217,693.2 1218,693.2 1219,693.6 1220,693.5 1221,693.9 1222,695.3 1223,694.1 1224,693.0 1225,692.8 1226,693.0 1227,693.7 1228,693.3 1229,692.6 1230,692.7 1231,694.1 1232,694.8 1233,694.1 1234,693.1 1235,692.9 1236,692.8 1237,692.2 1238,692.2 1239,693.0 1240,693.6 1241,693.4 1242,692.8 1243,692.0 1244,693.0 1245,693.5 1246,693.5 1247,693.4 1248,693.3 1249,693.7 1250,693.1 1251,692.8 1252,693.8 1253,694.4 1254,693.4 1255,693.1 1256,692.5 1257,693.2 1258,694.5 1259,693.5 1260,693.1 1261,692.0 1262,692.2 1263,693.6 1264,693.3 1265,693.4 1266,693.4 1267,692.6 1268,692.1 1269,692.4 1270,693.1 1271,693.1 1272,692.3 1273,692.4 1274,692.0 1275,692.7 1276,693.3 1277,691.8 1278,691.5 1279,692.2 1280,692.1 1281,692.1 1282,690.6 1283,689.4 1284,688.7 1285,686.4 1286,684.5 1287,680.0 1288,674.4 1289,670.5 1290,666.8 1291,664.7 1292,666.9 1293,671.8 1294,675.9 1295,679.8 1296,685.2 1297,687.8 1298,688.0 1299,689.1 1300,690.3 1301,690.9 1302,691.4 1303,692.0 1304,692.3 1305,692.4 1306,692.1 1307,691.7 1308,691.2 1309,691.6 1310,692.1 1311,692.4 1312,692.5 1313,692.2 1314,693.3 1315,693.6 1316,693.1 1317,692.5 1318,692.3 1319,693.2 1320,692.9 1321,691.8 1322,691.9 1323,691.7 1324,689.9 1325,688.8 1326,688.5 1327,687.5 1328,685.9 1329,684.2 1330,682.1 1331,680.0 1332,678.6 1333,679.3 1334,680.8 1335,682.8 1336,685.1 1337,687.5 1338,689.0 1339,689.9 1340,691.5 1341,691.0 1342,690.4 1343,691.3 1344,691.8 1345,691.7 1346,691.5 1347,693.3 1348,693.1 1349,692.0 1350,692.8 1351,692.7 1352,692.1 1353,692.7 1354,692.4 1355,691.6 1356,692.3 1357,692.5 1358,693.1 1359,693.3 1360,693.6 1361,693.7 1362,693.5 1363,693.7 1364,692.9 1365,692.6 1366,693.1 1367,693.0 1368,692.5 1369,692.3 1370,691.3 1371,691.9 1372,693.0 1373,692.1 1374,691.9 1375,692.2 1376,690.9 1377,690.3 1378,691.2 1379,691.7 1380,691.2 1381,691.6 1382,691.1 1383,689.0 1384,687.7 1385,688.2 1386,688.2 1387,687.0 1388,686.7 1389,686.4 1390,686.7 1391,687.5 1392,688.3 1393,688.6 1394,689.3 1395,689.5 1396,689.1 1397,689.7 1398,689.7 1399,690.5 1400,692.0 1401,692.2 1402,691.7 1403,691.5 1404,692.1 1405,692.0 1406,691.7 1407,692.1 1408,692.8 1409,692.6 1410,693.1 1411,694.4 1412,694.2 1413,693.2 1414,692.8 1415,693.6 1416,693.9 1417,693.5 1418,693.5 1419,693.0 1420,693.6 1421,693.7 1422,693.1 1423,692.3 1424,693.2 1425,694.5 1426,693.5 1427,692.8 1428,692.6 1429,692.2 1430,692.7 1431,693.0 1432,693.0 1433,693.6 1434,694.3 1435,694.2 1436,693.5 1437,693.6 1438,693.2 1439,692.9 1440,693.3 1441,694.0 1442,694.2 1443,693.5 1444,693.8 1445,693.7 1446,692.5 1447,693.4 1448,694.1 1449,693.2 1450,692.6 1451,692.6 1452,693.9 1453,694.1 1454,694.4 1455,694.4 1456,693.9 1457,693.9 1458,693.2 1459,693.0 1460,693.1 1461,692.8 1462,692.3 1463,693.0 1464,694.2 1465,694.1 1466,693.6 1467,693.1 1468,693.6 1469,694.5 1470,693.4 1471,693.0 1472,693.4 1473,692.7 1474,693.5 1475,694.7 1476,694.2 1477,694.3 1478,693.9 1479,693.4 1480,694.2 1481,694.0 1482,693.5 1483,693.2 1484,693.4 1485,694.3 1486,693.6 1487,692.7 1488,693.1 1489,694.1 1490,693.9 1491,692.9 1492,693.1 1493,694.0 1494,693.3 1495,692.7 1496,694.0 1497,694.1 1498,693.3 1499,693.7 1500,693.3 1501,693.8 1502,694.6 1503,693.5 1504,693.3 1505,693.5 1506,693.3 1507,692.8 1508,692.8 1509,692.5 1510,693.3 1511,693.5 1512,692.6 1513,692.7 1514,693.4 1515,693.6 1516,693.9 1517,693.8 1518,693.2 1519,693.4 1520,693.1 1521,693.7 1522,694.4 1523,694.4 1524,693.2 1525,692.8 1526,692.9 1527,692.2 1528,691.8 1529,691.9 1530,692.9 1531,693.9 1532,694.3 1533,693.1 1534,691.9 1535,692.2 1536,692.3 1537,691.9 1538,690.7 1539,690.0 1540,690.5 1541,690.2 1542,689.3 1543,688.4 1544,688.0 1545,688.9 1546,689.1 1547,689.0 1548,689.8 1549,689.0 1550,688.7 1551,689.5 1552,689.6 1553,689.0 1554,687.9 1555,687.1 1556,686.6 1557,686.2 1558,685.5 1559,685.5 1559.5,685.4 1560,684.9 1561,685.3 1562,686.1 1563,687.3 1564,689.0 1565,689.5 1566,688.6 1567,689.8 1568,691.4 1569,691.2 1570,691.5 1571,693.1 1572,692.7 1573,691.5 1574,692.3 1575,691.5 1576,691.4 1577,693.3 1578,693.8 1579,693.6 1580,693.3 1581,693.0 1582,694.5 1583,694.7 1584,694.1 1585,693.4 1586,692.9 1587,693.7 1588,693.6 1589,692.5 1590,692.3 1591,693.9 1592,694.4 1593,693.4 1594,693.5 1595,693.0 1596,692.9 1597,693.9 1598,693.4 1599,692.8 1600,692.3 1601,692.7 1602,694.2 1603,694.7 1604,694.1 1605,694.1 1606,693.7 1607,693.5 1608,692.5 1609,692.0 1610,693.1 1611,693.3 1612,693.4 1613,693.7 1614,693.5 1615,693.7 1616,693.8 1617,693.8 1618,694.0 1619,694.0 1620,694.1 1621,693.5 1622,693.3 1623,693.0 1624,693.0 1625,693.7 1626,693.6 1627,693.3 1628,693.9 1629,694.5 1630,694.7 1631,693.9 1632,693.0 1633,693.6 1634,694.2 1635,693.0 1636,693.5 1637,694.8 1638,693.4 1639,693.4 1640,693.7 1641,693.1 1642,692.9 1643,692.5 1644,692.8 1645,693.1 1646,692.8 1647,692.7 1648,692.8 1649,692.6 1650,692.4 1651,692.3 1652,693.3 1653,692.8 1654,691.4 1655,692.0 1656,692.2 1657,691.6 1658,691.8 1659,691.5 1660,691.0 1661,691.5 1662,691.3 1663,690.0 1664,688.7 1665,687.3 1666,685.0 1667,680.5 1668,675.1 1669,668.1 1670,659.1 1671,650.0 1672,643.8 1672.4,641.5 1673,642.1 1674,651.1 1675,660.8 1676,668.8 1677,676.2 1678,681.8 1679,685.2 1680,687.1 1681,688.6 1682,690.5 1683,690.9 1684,690.8 1685,690.6 1686,690.8 1687,690.9 1688,690.0 1689,689.9 1690,690.3 1691,690.5 1692,690.8 1693,690.2 1694,689.3 1695,689.3 1696,688.8 1697,688.1 1698,688.2 1699,688.2 1700,688.0 1701,688.9 1702,689.8 1703,689.3 1704,688.5 1705,688.7 1706,690.1 1707,689.8 1708,691.1 1709,692.3 1710,691.5 1711,692.1 1712,691.8 1713,691.8 1714,692.7 1715,693.2 1716,692.9 1717,693.0 1718,694.1 1719,694.1 1720,693.4 1721,692.9 1722,692.4 1723,692.6 1724,693.7 1725,694.6 1726,694.9 1727,694.8 1728,694.2 1729,693.4 1730,693.0 1731,692.9 1732,693.1 1733,693.3 1734,694.1 1735,694.2 1736,693.8 1737,694.2 1738,695.0 1739,695.2 1740,693.8 1741,694.1 1742,694.7 1743,693.2 1744,693.3 1745,694.4 1746,693.4 1747,693.5 1748,694.8 1749,694.5 1750,693.8 1751,693.3 1752,693.4 1753,694.2 1754,694.4 1755,694.0 1756,694.1 1757,693.2 1758,693.9 1759,695.2 1760,695.4 1761,694.7 1762,694.0 1763,694.6 1764,694.7 1765,694.5 1766,695.4 1767,695.1 1768,694.5 1769,694.4 1770,694.7 1771,694.8 1772,693.7 1773,694.2 1774,694.7 1775,694.2 1776,694.1 1777,694.0 1778,694.3 1779,694.7 1780,695.3 1781,694.8 1782,694.7 1783,695.3 1784,694.0 1785,694.4 1786,694.3 1787,693.8 1788,693.8 1789,693.7 1790,694.4 1791,694.1 1792,693.4 1793,693.2 1794,694.6 1795,695.3 1796,694.7 1797,694.4 1798,694.1 1799,694.8 1800,695.1 1801,695.0 1802,694.3 1803,693.1 1804,694.4 1805,694.8 1806,694.1 1807,694.7 1808,695.2 1809,695.3 1810,695.1 1811,695.6 1812,695.4 1813,695.1 1814,695.0 1815,694.7 1816,695.5 1817,695.4 1818,693.4 1819,693.5 1820,694.7 1821,695.5 1822,695.3 1823,693.9 1824,694.2 1825,695.5 1826,695.3 1827,695.1 1828,695.4 1829,695.2 1830,694.6 1831,694.3 1832,694.3 1833,694.3 1834,694.3 1835,694.8 1836,694.9 1837,694.3 1838,693.5 1839,693.2 1840,695.3 1841,695.6 1842,693.7 1843,693.9 1844,694.5 1845,694.3 1846,694.3 1847,694.3 1848,694.9 1849,694.5 1850,694.2 1851,695.1 1852,694.6 1853,695.3 1854,695.7 1855,694.7 1856,694.4 1857,694.8 1858,694.3 1859,694.2 1860,696.0 1861,695.9 1862,695.3 1863,694.7 1864,694.7 1865,694.8 1866,694.2 1867,694.6 1868,695.6 1869,695.4 1870,693.6 1871,694.0 1872,695.2 1873,695.5 1874,695.2 1875,695.5 1876,695.9 1877,695.6 1878,695.0 1879,694.0 1880,694.9 1881,695.2 1882,695.1 1883,696.0 1884,694.9 1885,694.1 1886,694.8 1887,695.5 1888,694.9 1889,694.3 1890,694.3 1891,693.9 1892,694.4 1893,694.7 1894,693.8 1895,694.2 1896,694.9 1897,694.6 1898,694.1 1899,694.7 1900,695.4 1901,695.2 1902,695.0 1903,695.1 1904,695.8 1905,695.8 1906,695.1 1907,694.9 1908,695.1 1909,695.2 1910,694.5 1911,695.2 1912,695.4 1913,694.5 1914,694.3 1915,694.4 1916,694.3 1917,695.1 1918,695.9 1919,694.6 1920,694.8 1921,695.3 1922,694.8 1923,694.8 1924,694.9 1925,695.2 1926,695.3 1927,695.5 1928,694.0 1929,693.4 1930,694.5 1931,694.6 1932,693.9 1933,693.8 1934,694.4 1935,693.6 1936,693.2 1937,694.5 1938,694.5 1939,694.1 1940,694.4 1941,694.7 1942,695.0 1943,695.2 1944,694.9 1945,694.5 1946,694.4 1947,694.4 1948,694.4 1949,694.6 1950,695.0 1951,694.0 1952,692.6 1953,693.4 1954,694.2 1955,693.3 1956,694.0 1957,695.3 1958,694.3 1959,693.2 1960,693.4 1961,693.5 1962,693.7 1963,693.5 1964,693.5 1965,693.8 1966,694.3 1967,694.4 1968,694.3 1969,695.0 1970,694.9 1971,694.4 1972,694.0 1973,693.7 1974,694.9 1975,695.5 1976,694.5 1977,693.7 1978,693.6 1979,694.3 1980,693.4 1981,693.0 1982,693.3 1983,693.9 1984,693.8 1985,693.6 1986,694.1 1987,693.7 1988,694.6 1989,694.5 1990,694.1 1991,694.3 1992,693.4 1993,693.2 1994,694.2 1995,694.4 1996,694.0 1997,693.5 1998,694.1 1999,694.2 2000,694.3 2001,694.6 2002,694.1 2003,693.3 2004,693.0 2005,693.2 2006,693.2 2007,694.1 2008,694.2 2009,693.7 2010,693.9 2011,693.1 2012,692.5 2013,692.6 2014,692.8 2015,692.4 2016,692.2 2017,693.0 2018,690.7 2019,689.1 2020,688.6 2021,688.6 2022,688.3 2023,687.6 2024,688.0 2025,687.4 2026,686.9 2027,688.4 2028,689.4 2029,689.6 2030,691.1 2031,691.4 2032,690.9 2033,690.6 2034,691.0 2035,690.9 2036,689.5 2037,688.9 2038,688.4 2039,686.8 2040,685.6 2041,685.4 2042,684.5 2043,684.2 2043.8,684.3 2044,683.5 2045,682.6 2046,683.6 2047,686.5 2048,687.7 2049,689.2 2050,690.1 2051,690.5 2052,692.1 2053,693.3 2054,693.3 2055,693.7 2056,693.8 2057,692.2 2058,692.4 2059,694.0 2060,693.9 2061,694.1 2062,694.2 2063,694.4 2064,693.5 2065,693.7 2066,693.8 2067,692.7 2068,693.1 2069,693.3 2070,693.8 2071,693.5 2072,693.9 2073,694.5 2074,694.1 2075,694.2 2076,693.6 2077,692.5 2078,692.7 2079,693.4 2080,694.5 2081,694.1 2082,693.4 2083,693.0 2084,693.6 2085,694.7 2086,694.2 2087,693.6 2088,693.6 2089,693.7 2090,694.1 2091,693.1 2092,692.6 2093,694.0 2094,693.9 2095,694.1 2096,695.2 2097,694.1 2098,693.1 2099,694.2 2100,693.8 2101,692.7 2102,692.7 2103,693.2 2104,694.1 2105,694.3 2106,694.3 2107,693.4 2108,693.8 2109,694.5 2110,693.7 2111,694.6 2112,694.8 2113,694.2 2114,694.5 2115,695.3 2116,694.9 2117,694.3 2118,693.2 2119,692.4 2120,694.5 2121,695.8 2122,694.8 2123,693.5 2124,692.9 2125,692.8 2126,693.1 2127,692.9 2128,693.1 2129,693.8 2130,693.3 2131,692.8 2132,692.8 2133,693.2 2134,693.6 2135,694.1 2136,693.4 2137,693.0 2138,693.8 2139,694.1 2140,694.5 2141,694.2 2142,694.3 2143,695.6 2144,695.2 2145,694.9 2146,695.2 2147,694.6 2148,694.1 2149,694.0 2150,695.1 2151,695.0 2152,693.7 2153,693.4 2154,694.1 2155,694.1 2156,694.1 2157,694.8 2158,694.5 2159,694.9 2160,694.2 2161,693.2 2162,693.7 2163,694.1 2164,693.6 2165,693.1 2166,694.3 2167,694.4 2168,694.2 2169,694.3 2170,693.5 2171,693.9 2172,694.8 2173,694.6 2174,693.4 2175,693.0 2176,693.4 2177,693.6 2178,693.4 2179,693.9 2180,693.8 2181,693.9 2182,693.9 2183,693.0 2184,694.0 2185,694.8 2186,694.1 2187,693.5 2188,693.6 2189,693.9 2190,694.1 2191,694.6 2192,694.1 2193,693.6 2194,694.0 2195,693.4"/>
<polyline fill="none" stroke="#33AD6B" stroke-width="6.8" stroke-linejoin="round" stroke-linecap="round" points="213,875.7 214,874.3 215,874.0 216,875.5 217,875.7 218,875.9 219,876.1 220,876.0 221,875.0 222,875.3 223,875.8 224,875.4 225,875.1 226,875.7 227,876.2 228,875.7 229,875.2 230,874.7 231,875.6 232,876.4 233,876.3 234,876.6 235,876.9 236,877.5 237,876.8 238,876.8 239,876.3 240,876.3 241,876.1 242,875.7 243,876.9 244,876.9 245,876.3 246,875.9 247,875.9 248,876.8 249,877.4 250,876.9 251,875.9 252,876.4 253,876.4 254,875.9 255,876.2 256,876.9 257,877.3 258,877.3 259,877.3 260,876.9 261,877.0 262,878.0 263,877.8 264,877.5 265,877.5 266,877.7 267,878.1 268,878.1 269,878.0 270,878.4 271,878.1 272,877.3 273,877.2 274,877.7 275,877.7 276,877.2 277,877.8 278,878.7 279,878.7 280,877.0 281,876.3 282,877.0 283,876.9 284,877.2 285,878.6 286,878.6 287,877.5 288,878.0 289,878.3 290,878.1 291,877.8 292,877.7 293,878.2 294,877.4 295,876.5 296,877.8 297,878.9 298,878.2 299,877.4 300,877.5 301,877.5 302,877.4 303,878.7 304,878.9 305,878.7 306,878.5 307,878.2 308,878.9 309,878.2 310,877.4 311,877.9 312,878.2 313,879.0 314,879.1 315,877.8 316,877.3 317,877.6 318,877.3 319,878.6 320,878.5 321,877.7 322,877.9 323,878.1 324,878.6 325,878.3 326,878.0 327,878.5 328,878.0 329,877.2 330,877.0 331,877.9 332,878.2 333,877.1 334,877.0 335,878.5 336,878.6 337,877.7 338,877.9 339,877.3 340,876.7 341,876.3 342,876.2 343,875.0 344,875.9 345,876.8 346,875.1 347,873.7 348,871.9 349,870.4 350,867.5 351,862.3 352,854.2 353,843.7 354,831.9 355,817.3 356,805.2 356.8,802.0 357,802.3 358,809.9 359,822.8 360,836.4 361,848.8 362,858.4 363,864.5 364,868.9 365,872.1 366,873.3 367,874.2 368,876.8 369,877.9 370,877.1 371,878.3 372,878.4 373,876.4 374,876.0 375,876.7 376,877.9 377,879.2 378,878.2 379,878.4 380,879.0 381,878.7 382,879.5 383,879.7 384,879.6 385,879.6 386,879.1 387,879.2 388,880.2 389,880.5 390,881.3 391,881.4 392,880.6 393,880.9 394,880.7 395,879.4 396,878.3 397,879.5 398,880.7 399,880.6 400,880.2 401,880.0 402,881.0 403,881.0 404,879.7 405,879.3 406,880.5 407,880.2 408,878.4 409,877.9 410,878.5 411,879.9 412,880.5 413,879.8 414,879.2 415,879.5 416,880.0 417,879.8 418,879.8 419,879.7 420,880.7 421,880.0 422,879.2 423,879.8 424,880.1 425,880.5 426,880.3 427,880.7 428,880.6 429,880.8 430,880.1 431,880.1 432,880.6 433,880.4 434,881.2 435,881.5 436,881.7 437,880.2 438,878.9 439,880.4 440,880.3 441,879.8 442,881.1 443,881.5 444,880.3 445,880.2 446,880.9 447,880.7 448,880.4 449,880.4 450,879.8 451,879.8 452,880.1 453,880.2 454,880.8 455,880.2 456,880.3 457,880.9 458,880.6 459,880.8 460,880.7 461,880.2 462,880.4 463,880.5 464,881.0 465,880.0 466,879.3 467,879.5 468,879.4 469,880.4 470,880.6 471,881.0 472,881.1 473,879.4 474,878.8 475,880.7 476,881.9 477,881.3 478,879.9 479,880.8 480,880.6 481,879.7 482,880.7 483,880.6 484,880.1 485,879.8 486,880.9 487,880.8 488,879.7 489,879.9 490,880.6 491,880.5 492,880.2 493,880.5 494,880.8 495,880.0 496,880.2 497,880.7 498,880.7 499,879.9 500,879.5 501,880.5 502,881.2 503,881.2 504,880.9 505,881.0 506,881.4 507,881.9 508,881.7 509,880.6 510,880.7 511,880.0 512,879.9 513,880.5 514,880.5 515,880.9 516,881.0 517,880.1 518,879.9 519,880.2 520,880.4 521,880.9 522,880.5 523,880.7 524,881.7 525,881.2 526,881.0 527,880.4 528,879.9 529,881.0 530,880.4 531,879.8 532,880.2 533,880.9 534,881.8 535,881.0 536,880.6 537,879.7 538,880.0 539,881.4 540,881.6 541,880.3 542,879.9 543,880.8 544,879.5 545,879.3 546,880.5 547,881.2 548,881.3 549,880.7 550,880.8 551,881.0 552,880.5 553,880.1 554,880.5 555,881.0 556,881.8 557,881.5 558,881.4 559,881.8 560,881.6 561,881.0 562,880.1 563,880.3 564,881.1 565,881.4 566,881.3 567,881.4 568,881.5 569,881.5 570,880.8 571,880.9 572,881.2 573,881.7 574,881.6 575,880.9 576,880.8 577,881.3 578,881.8 579,881.6 580,880.7 581,879.7 582,880.4 583,881.4 584,881.9 585,880.8 586,880.1 587,880.1 588,879.8 589,880.4 590,881.3 591,881.1 592,880.4 593,880.5 594,881.4 595,882.6 596,881.4 597,880.1 598,880.7 599,881.3 600,881.7 601,881.9 602,881.2 603,880.5 604,880.8 605,880.3 606,880.4 607,880.4 608,881.4 609,882.2 610,880.7 611,880.3 612,881.5 613,881.6 614,881.1 615,881.6 616,881.8 617,881.8 618,881.2 619,880.6 620,879.9 621,880.2 622,881.0 623,880.9 624,880.8 625,880.4 626,881.4 627,881.8 628,880.3 629,880.3 630,880.7 631,881.3 632,880.3 633,880.2 634,881.0 635,880.7 636,881.4 637,881.8 638,881.0 639,880.7 640,881.8 641,882.5 642,882.0 643,881.4 644,881.4 645,881.6 646,880.9 647,880.3 648,880.8 649,881.4 650,881.7 651,881.3 652,881.3 653,881.4 654,881.3 655,881.7 656,880.8 657,880.1 658,880.3 659,880.6 660,881.0 661,880.8 662,879.7 663,879.9 664,881.3 665,882.0 666,880.7 667,879.7 668,880.0 669,879.5 670,878.9 671,878.5 672,877.2 673,875.6 674,873.7 675,871.3 676,867.6 677,864.2 678,862.1 678.4,861.5 679,861.9 680,866.6 681,871.1 682,873.2 683,875.7 684,876.9 685,877.9 686,879.0 687,879.7 688,880.2 689,880.9 690,879.5 691,878.7 692,880.4 693,880.6 694,880.3 695,881.2 696,881.4 697,881.6 698,881.5 699,880.8 700,880.4 701,879.4 702,879.7 703,880.7 704,880.7 705,880.1 706,880.5 707,881.2 708,880.9 709,880.5 710,881.3 711,882.3 712,881.7 713,881.0 714,880.9 715,881.8 716,882.9 717,882.1 718,880.7 719,879.9 720,881.3 721,881.6 722,880.7 723,881.5 724,881.6 725,881.0 726,879.7 727,880.1 728,881.0 729,881.4 730,880.5 731,879.7 732,880.3 733,879.9 734,879.9 735,880.8 736,880.8 737,879.7 738,879.8 739,880.7 740,880.6 741,880.2 742,878.8 743,878.1 744,878.2 745,876.6 746,874.8 747,872.8 748,871.4 749,870.0 750,868.4 751,869.3 752,871.3 753,873.4 754,874.9 755,875.8 756,877.5 757,879.7 758,880.3 759,879.1 760,879.2 761,879.7 762,878.9 763,879.0 764,879.6 765,880.1 766,880.9 767,881.2 768,880.9 769,880.0 770,879.3 771,878.9 772,878.7 773,877.3 774,875.3 775,875.3 776,875.4 777,874.9 778,875.7 779,877.1 780,878.1 781,879.2 782,879.7 783,879.5 784,879.2 785,878.2 786,877.8 787,878.3 788,877.6 789,875.6 790,874.5 791,874.0 792,874.7 793,877.0 794,878.8 795,879.5 796,879.9 797,879.9 798,879.3 799,879.7 800,880.2 801,880.6 802,881.0 803,880.4 804,880.6 805,882.2 806,881.6 807,880.8 808,881.5 809,880.9 810,880.3 811,880.4 812,880.9 813,881.2 814,881.4 815,881.2 816,880.6 817,880.6 818,880.7 819,880.1 820,880.7 821,880.9 822,879.9 823,880.3 824,879.9 825,879.8 826,880.9 827,880.7 828,880.6 829,881.8 830,882.3 831,881.8 832,881.4 833,880.7 834,880.4 835,880.5 836,880.5 837,880.7 838,880.3 839,881.0 840,880.9 841,880.3 842,881.2 843,881.0 844,880.2 845,880.2 846,881.3 847,881.5 848,880.5 849,880.4 850,880.3 851,879.1 852,879.1 853,880.1 854,880.1 855,879.1 856,877.1 857,876.8 858,876.3 859,875.1 860,875.0 860.5,874.7 861,874.3 862,874.5 863,875.3 864,876.6 865,877.5 866,878.4 867,878.2 868,878.0 869,879.1 870,879.4 871,879.3 872,879.1 873,879.7 874,881.0 875,880.2 876,880.0 877,879.8 878,879.3 879,879.0 880,879.1 881,879.9 882,879.7 883,880.1 884,880.2 885,879.4 886,878.5 887,878.1 888,877.6 889,876.5 890,876.2 891,875.2 892,872.8 893,870.8 894,868.4 895,867.5 896,868.0 897,869.2 898,872.0 899,874.3 900,875.9 901,877.0 902,877.5 903,878.0 904,879.0 905,879.8 906,878.6 907,878.2 908,879.5 909,879.3 910,878.8 911,878.6 912,878.0 913,878.3 914,878.6 915,878.4 916,877.8 917,877.3 918,877.7 919,877.9 920,878.1 921,877.7 922,877.6 923,878.1 924,877.6 925,877.3 926,877.0 927,876.2 928,875.9 929,874.9 930,874.4 931,874.7 932,873.4 933,872.5 934,872.1 935,870.7 936,869.9 937,869.0 938,868.3 939,866.7 940,865.3 941,863.7 942,861.4 943,859.8 944,857.3 945,854.6 946,852.9 947,851.8 948,850.4 949,848.2 950,847.2 951,846.2 952,844.4 953,844.7 953.2,845.5 954,844.7 955,845.1 956,845.9 957,846.9 958,850.0 959,852.3 960,853.5 961,855.1 962,856.4 963,858.2 964,860.7 965,861.8 966,863.4 967,865.7 968,867.1 969,868.4 970,869.4 971,869.8 972,870.9 973,871.4 974,871.8 975,873.8 976,875.5 977,875.7 978,874.2 979,875.0 980,876.6 981,876.1 982,876.3 983,876.8 984,876.0 985,875.2 986,876.1 987,875.6 988,875.2 989,876.2 990,876.1 991,876.3 992,875.9 993,875.1 994,873.8 995,871.8 996,869.5 997,865.5 998,858.7 999,849.7 1000,836.9 1001,820.9 1002,805.4 1003,792.1 1003.8,787.0 1004,786.8 1005,794.6 1006,810.6 1007,828.1 1008,843.0 1009,854.5 1010,862.3 1011,866.4 1012,870.3 1013,873.5 1014,874.2 1015,874.9 1016,875.8 1017,877.1 1018,877.7 1019,877.0 1020,876.4 1021,876.1 1022,877.0 1023,878.5 1024,879.1 1025,879.0 1026,878.9 1027,878.4 1028,878.3 1029,878.7 1030,878.1 1031,877.2 1032,877.8 1033,877.2 1034,876.3 1035,875.9 1036,874.3 1037,872.1 1038,869.1 1039,865.9 1040,862.1 1041,860.7 1042,861.8 1043,865.2 1044,869.8 1045,873.0 1046,874.9 1047,877.0 1048,877.6 1049,878.0 1050,879.0 1051,878.8 1052,879.3 1053,879.2 1054,879.0 1055,879.8 1056,879.4 1057,879.2 1058,880.0 1059,880.6 1060,880.0 1061,880.0 1062,880.4 1063,880.0 1064,880.0 1065,880.3 1066,880.3 1067,880.0 1068,880.6 1069,880.8 1070,880.2 1071,880.2 1072,880.7 1073,881.0 1074,880.8 1075,879.9 1076,880.1 1077,880.2 1078,880.1 1079,879.7 1080,878.8 1081,878.8 1082,879.4 1083,880.3 1084,880.4 1085,879.8 1086,879.8 1087,880.3 1088,881.6 1089,882.1 1090,880.9 1091,879.7 1092,879.5 1093,879.9 1094,880.2 1095,881.3 1096,880.9 1097,879.0 1098,878.9 1099,878.9 1100,879.2 1101,880.3 1102,879.8 1103,878.3 1104,877.5 1105,877.8 1106,876.1 1107,873.3 1108,871.0 1109,867.8 1110,863.5 1111,859.8 1112,858.4 1113,859.5 1114,863.0 1115,867.5 1116,870.8 1117,873.6 1118,876.2 1119,877.6 1120,878.6 1121,878.5 1122,878.1 1123,878.9 1124,879.6 1125,879.7 1126,879.6 1127,879.1 1128,879.6 1129,880.1 1130,880.4 1131,880.9 1132,881.2 1133,881.2 1134,880.3 1135,878.9 1136,879.1 1137,879.5 1138,879.2 1139,880.0 1140,879.9 1141,880.0 1142,881.2 1143,882.0 1144,881.9 1145,881.6 1146,880.9 1147,879.6 1148,880.2 1149,879.9 1150,879.9 1151,880.3 1152,878.7 1153,879.5 1154,879.6 1155,879.5 1156,878.7 1157,876.3 1158,875.8 1159,874.6 1160,871.8 1161,869.8 1162,868.7 1163,867.9 1163.2,867.1 1164,867.1 1165,869.3 1166,872.0 1167,874.2 1168,875.4 1169,876.5 1170,878.4 1171,878.9 1172,878.8 1173,878.5 1174,879.4 1175,880.7 1176,879.2 1177,879.4 1178,880.8 1179,881.0 1180,880.4 1181,880.4 1182,880.0 1183,879.5 1184,879.5 1185,879.5 1186,879.0 1187,879.2 1188,879.2 1189,877.5 1190,876.7 1191,876.5 1192,875.7 1193,875.3 1194,874.7 1194.3,873.8 1195,874.3 1196,875.9 1197,876.0 1198,875.7 1199,876.7 1200,878.1 1201,878.5 1202,879.0 1203,879.4 1204,879.9 1205,879.9 1206,879.2 1207,879.9 1208,880.7 1209,881.1 1210,880.5 1211,880.1 1212,880.7 1213,881.4 1214,880.8 1215,879.6 1216,880.2 1217,880.7 1218,881.1 1219,881.2 1220,880.8 1221,880.4 1222,880.4 1223,881.3 1224,881.1 1225,880.0 1226,880.5 1227,880.9 1228,880.5 1229,880.3 1230,880.8 1231,880.7 1232,880.1 1233,880.4 1234,880.6 1235,879.6 1236,879.9 1237,880.3 1238,880.2 1239,880.6 1240,880.4 1241,880.3 1242,879.8 1243,880.2 1244,880.8 1245,881.2 1246,881.3 1247,880.6 1248,880.9 1249,882.2 1250,882.0 1251,880.9 1252,880.1 1253,880.2 1254,880.0 1255,880.3 1256,880.8 1257,880.2 1258,880.5 1259,880.1 1260,879.2 1261,879.6 1262,880.9 1263,880.7 1264,880.5 1265,880.1 1266,879.6 1267,880.7 1268,881.5 1269,880.5 1270,879.6 1271,880.0 1272,880.1 1273,880.2 1274,880.1 1275,880.0 1276,879.6 1277,880.1 1278,880.9 1279,880.8 1280,880.1 1281,879.7 1282,880.2 1283,879.3 1284,877.5 1285,877.7 1286,878.3 1287,878.4 1288,877.5 1289,875.9 1290,873.7 1291,870.6 1292,866.9 1293,864.1 1294,861.5 1295,860.5 1296,862.3 1297,864.4 1298,867.1 1299,870.2 1300,873.3 1301,875.7 1302,876.5 1303,877.6 1304,879.2 1305,879.7 1306,879.4 1307,879.3 1308,879.0 1309,879.3 1310,879.8 1311,879.7 1312,880.3 1313,880.4 1314,879.8 1315,880.0 1316,880.4 1317,879.5 1318,879.4 1319,880.7 1320,880.1 1321,879.6 1322,879.8 1323,879.1 1324,879.4 1325,879.6 1326,878.3 1327,877.7 1328,878.4 1329,877.7 1330,876.1 1331,875.0 1332,873.9 1333,873.1 1334,872.0 1335,870.8 1336,871.7 1337,873.7 1338,875.0 1339,876.2 1340,876.8 1341,876.7 1342,877.4 1343,878.6 1344,878.6 1345,878.7 1346,879.9 1347,879.9 1348,880.6 1349,881.3 1350,880.0 1351,879.2 1352,879.5 1353,880.3 1354,880.9 1355,880.3 1356,880.2 1357,880.8 1358,881.0 1359,879.9 1360,879.2 1361,879.5 1362,879.3 1363,880.1 1364,880.5 1365,879.9 1366,879.8 1367,880.2 1368,880.8 1369,881.0 1370,881.3 1371,880.5 1372,880.7 1373,882.2 1374,881.2 1375,879.9 1376,880.4 1377,881.0 1378,880.6 1379,879.6 1380,880.5 1381,880.5 1382,878.2 1383,878.4 1384,879.8 1385,880.0 1386,879.9 1387,880.1 1388,878.5 1389,876.1 1390,875.1 1391,875.8 1392,875.7 1393,873.8 1394,872.9 1394.6,873.6 1395,874.4 1396,874.7 1397,874.8 1398,874.9 1399,876.0 1400,876.8 1401,877.5 1402,878.0 1403,878.1 1404,878.8 1405,879.1 1406,879.3 1407,879.9 1408,879.8 1409,879.7 1410,880.1 1411,880.5 1412,880.7 1413,880.5 1414,880.7 1415,880.5 1416,880.4 1417,880.3 1418,879.3 1419,879.9 1420,879.8 1421,879.6 1422,881.2 1423,881.6 1424,880.4 1425,880.5 1426,881.0 1427,880.4 1428,880.2 1429,880.4 1430,880.3 1431,880.7 1432,880.2 1433,880.4 1434,882.0 1435,881.6 1436,880.2 1437,880.1 1438,881.1 1439,881.1 1440,880.8 1441,882.0 1442,881.5 1443,880.6 1444,880.6 1445,880.4 1446,880.8 1447,880.6 1448,880.8 1449,881.2 1450,881.5 1451,881.8 1452,881.4 1453,881.8 1454,881.5 1455,881.2 1456,881.0 1457,881.3 1458,881.3 1459,881.1 1460,881.1 1461,880.8 1462,880.7 1463,880.2 1464,880.3 1465,880.9 1466,881.5 1467,881.7 1468,881.6 1469,881.2 1470,881.4 1471,882.2 1472,881.7 1473,880.7 1474,881.1 1475,882.4 1476,882.1 1477,881.0 1478,880.6 1479,880.5 1480,880.5 1481,880.4 1482,881.3 1483,882.3 1484,881.9 1485,881.4 1486,881.7 1487,881.7 1488,881.4 1489,881.7 1490,881.6 1491,881.9 1492,883.4 1493,882.8 1494,881.5 1495,881.2 1496,880.8 1497,881.3 1498,881.7 1499,881.5 1500,880.8 1501,881.1 1502,881.4 1503,881.4 1504,881.6 1505,881.3 1506,881.4 1507,880.5 1508,881.1 1509,881.7 1510,881.3 1511,881.9 1512,881.5 1513,880.7 1514,881.2 1515,881.4 1516,881.1 1517,881.7 1518,881.6 1519,880.6 1520,880.5 1521,881.5 1522,881.4 1523,881.6 1524,881.3 1525,880.5 1526,880.4 1527,880.4 1528,881.8 1529,882.5 1530,881.7 1531,881.2 1532,881.8 1533,882.0 1534,881.1 1535,881.8 1536,881.7 1537,881.1 1538,881.9 1539,882.3 1540,882.9 1541,882.8 1542,881.6 1543,881.7 1544,882.1 1545,881.1 1546,880.4 1547,880.6 1548,880.1 1549,880.6 1550,881.8 1551,881.7 1552,881.0 1553,880.6 1554,881.4 1555,881.3 1556,880.4 1557,879.5 1558,879.1 1559,879.4 1560,878.8 1561,878.5 1562,878.7 1563,877.3 1564,874.8 1565,873.9 1566,875.0 1567,875.1 1568,874.7 1569,875.6 1570,877.9 1571,878.5 1572,877.2 1573,878.2 1574,879.9 1575,880.6 1576,880.8 1577,881.0 1578,881.0 1579,881.4 1580,881.8 1581,881.7 1582,881.4 1583,881.9 1584,882.4 1585,881.6 1586,881.6 1587,881.3 1588,881.0 1589,881.9 1590,882.5 1591,882.5 1592,882.6 1593,882.1 1594,881.8 1595,882.8 1596,882.8 1597,881.2 1598,881.3 1599,881.8 1600,881.8 1601,882.0 1602,881.6 1603,881.8 1604,882.2 1605,882.2 1606,882.0 1607,881.3 1608,881.4 1609,882.6 1610,882.0 1611,881.8 1612,882.6 1613,882.6 1614,882.4 1615,882.1 1616,882.4 1617,883.2 1618,883.0 1619,882.1 1620,881.8 1621,881.8 1622,881.8 1623,881.7 1624,882.2 1625,882.4 1626,881.9 1627,881.2 1628,882.1 1629,882.3 1630,881.8 1631,881.9 1632,881.1 1633,881.2 1634,881.8 1635,882.7 1636,881.9 1637,880.8 1638,881.9 1639,881.9 1640,880.7 1641,881.2 1642,882.2 1643,881.5 1644,881.0 1645,881.1 1646,881.6 1647,881.8 1648,881.4 1649,881.6 1650,882.3 1651,881.9 1652,882.1 1653,882.3 1654,881.8 1655,882.0 1656,881.9 1657,881.7 1658,880.4 1659,879.8 1660,881.2 1661,881.0 1662,880.6 1663,880.2 1664,879.7 1665,880.9 1666,881.0 1667,879.5 1668,878.5 1669,877.2 1670,876.3 1671,874.7 1672,871.7 1673,868.0 1674,862.7 1675,857.4 1676,854.6 1676.2,854.8 1677,856.5 1678,861.2 1679,865.6 1680,869.6 1681,873.1 1682,875.2 1683,877.7 1684,879.3 1685,879.4 1686,879.3 1687,880.4 1688,880.8 1689,880.3 1690,880.1 1691,881.4 1692,882.8 1693,882.0 1694,882.3 1695,882.3 1696,881.2 1697,881.3 1698,882.1 1699,881.4 1700,881.3 1701,882.4 1702,882.5 1703,882.2 1704,882.1 1705,881.1 1706,880.6 1707,881.8 1708,882.1 1709,881.8 1710,881.0 1711,880.8 1712,880.5 1713,880.5 1714,881.4 1715,881.3 1716,881.4 1717,881.6 1718,881.8 1719,881.6 1720,880.5 1721,880.1 1722,880.4 1723,881.0 1724,881.3 1725,881.0 1726,881.0 1727,881.0 1728,881.2 1729,880.9 1730,881.1 1731,881.8 1732,881.1 1733,880.5 1734,880.9 1735,881.1 1736,881.1 1737,882.1 1738,881.9 1739,881.1 1740,881.2 1741,880.8 1742,881.3 1743,881.4 1744,880.8 1745,880.9 1746,880.2 1747,880.6 1748,880.9 1749,879.8 1750,879.2 1751,878.5 1752,878.1 1753,879.1 1754,879.8 1755,878.8 1756,878.4 1757,879.1 1758,878.9 1759,878.8 1760,877.3 1761,876.6 1762,876.8 1763,876.8 1764,876.6 1765,876.2 1766,876.8 1767,875.9 1768,875.1 1769,875.4 1770,875.7 1771,875.3 1772,875.7 1773,877.4 1774,877.1 1775,876.6 1776,875.7 1777,875.2 1778,876.9 1779,877.8 1780,878.0 1781,878.7 1782,878.7 1783,878.3 1784,878.3 1785,878.6 1786,878.1 1787,878.9 1788,879.1 1789,877.9 1790,879.1 1791,880.4 1792,880.8 1793,881.1 1794,880.8 1795,880.0 1796,880.5 1797,880.4 1798,880.3 1799,881.2 1800,881.3 1801,880.2 1802,880.0 1803,880.0 1804,880.6 1805,881.3 1806,881.4 1807,882.3 1808,881.2 1809,881.1 1810,881.9 1811,882.2 1812,881.4 1813,880.2 1814,880.5 1815,880.2 1816,880.6 1817,881.2 1818,881.2 1819,881.7 1820,882.0 1821,881.3 1822,881.2 1823,882.2 1824,881.4 1825,880.8 1826,880.6 1827,881.4 1828,882.7 1829,881.8 1830,881.1 1831,881.7 1832,882.1 1833,881.9 1834,882.3 1835,881.9 1836,881.6 1837,882.0 1838,881.8 1839,881.4 1840,880.5 1841,880.6 1842,881.6 1843,881.5 1844,880.5 1845,880.8 1846,881.6 1847,881.2 1848,881.2 1849,881.8 1850,882.0 1851,882.2 1852,882.7 1853,882.2 1854,881.4 1855,880.6 1856,881.4 1857,882.4 1858,882.4 1859,881.8 1860,881.5 1861,881.5 1862,881.0 1863,880.7 1864,881.0 1865,881.9 1866,882.4 1867,882.3 1868,881.8 1869,882.6 1870,883.4 1871,883.0 1872,882.4 1873,882.5 1874,882.1 1875,880.9 1876,881.6 1877,882.2 1878,882.4 1879,882.0 1880,881.7 1881,881.5 1882,881.3 1883,881.9 1884,882.1 1885,881.4 1886,880.8 1887,881.1 1888,881.3 1889,880.9 1890,881.3 1891,881.6 1892,882.1 1893,883.4 1894,883.4 1895,883.7 1896,882.7 1897,880.6 1898,881.1 1899,881.1 1900,881.2 1901,882.4 1902,882.7 1903,882.8 1904,882.3 1905,881.9 1906,882.1 1907,882.1 1908,882.4 1909,882.2 1910,881.8 1911,881.7 1912,882.1 1913,882.5 1914,882.1 1915,881.9 1916,881.0 1917,881.0 1918,880.8 1919,881.0 1920,881.4 1921,882.0 1922,882.3 1923,881.7 1924,881.8 1925,881.3 1926,880.8 1927,880.2 1928,880.6 1929,880.8 1930,881.6 1931,881.9 1932,881.1 1933,881.7 1934,881.9 1935,882.4 1936,882.3 1937,881.5 1938,881.4 1939,882.1 1940,882.3 1941,880.4 1942,879.5 1943,879.4 1944,878.9 1945,878.9 1946,878.3 1947,878.1 1948,879.0 1949,878.4 1950,878.2 1951,879.6 1952,880.3 1953,880.6 1954,881.1 1955,881.2 1956,881.1 1957,880.4 1958,880.3 1959,880.5 1960,880.7 1961,882.0 1962,881.7 1963,881.0 1964,881.4 1965,881.8 1966,881.8 1967,881.7 1968,881.0 1969,880.4 1970,880.0 1971,881.0 1972,881.0 1973,880.4 1974,881.0 1975,880.6 1976,880.0 1977,879.9 1978,880.4 1979,880.5 1980,880.3 1981,880.2 1982,879.9 1983,880.3 1984,880.4 1985,881.4 1986,881.5 1987,879.6 1988,879.8 1989,880.0 1990,880.3 1991,880.9 1992,880.1 1993,879.2 1994,879.1 1995,879.7 1996,880.4 1997,880.5 1998,880.0 1999,879.7 2000,880.1 2001,880.6 2002,880.3 2003,880.3 2004,880.2 2005,879.7 2006,880.4 2007,879.9 2008,878.6 2009,878.5 2010,879.2 2011,879.3 2012,879.3 2013,880.3 2014,880.2 2015,880.2 2016,880.7 2017,879.7 2018,879.7 2019,880.6 2020,880.6 2021,880.3 2022,879.9 2023,879.6 2024,879.1 2025,879.3 2026,880.0 2027,879.7 2028,880.1 2029,880.2 2030,879.6 2031,879.2 2032,879.7 2033,880.6 2034,880.5 2035,879.6 2036,879.6 2037,880.4 2038,879.3 2039,878.8 2040,878.2 2041,878.0 2042,878.6 2043,877.7 2044,876.6 2045,875.4 2046,873.0 2047,872.6 2048,874.2 2049,875.1 2050,875.1 2051,876.2 2052,878.0 2053,878.5 2054,878.5 2055,879.3 2056,879.8 2057,879.4 2058,880.1 2059,880.1 2060,880.0 2061,881.1 2062,880.5 2063,880.0 2064,880.6 2065,879.8 2066,879.3 2067,879.9 2068,879.9 2069,879.8 2070,880.7 2071,880.7 2072,880.1 2073,880.8 2074,881.5 2075,880.6 2076,879.3 2077,879.6 2078,880.1 2079,881.0 2080,881.1 2081,880.8 2082,881.5 2083,881.3 2084,880.8 2085,881.8 2086,882.1 2087,881.0 2088,880.4 2089,881.2 2090,881.0 2091,880.1 2092,881.0 2093,882.0 2094,882.4 2095,881.4 2096,880.9 2097,879.9 2098,879.3 2099,882.1 2100,883.2 2101,882.2 2102,881.1 2103,880.2 2104,881.1 2105,881.6 2106,880.8 2107,881.2 2108,881.9 2109,881.2 2110,880.7 2111,882.0 2112,881.8 2113,881.2 2114,881.4 2115,880.5 2116,880.4 2117,880.7 2118,881.2 2119,881.6 2120,881.2 2121,881.1 2122,881.2 2123,880.7 2124,881.2 2125,881.7 2126,880.8 2127,880.6 2128,880.5 2129,879.9 2130,881.5 2131,882.5 2132,881.7 2133,881.4 2134,882.1 2135,882.6 2136,882.8 2137,881.6 2138,880.8 2139,881.2 2140,880.2 2141,879.8 2142,881.0 2143,881.3 2144,880.8 2145,880.4 2146,880.4 2147,880.9 2148,881.0 2149,881.6 2150,882.1 2151,881.0 2152,881.0 2153,881.6 2154,881.5 2155,881.2 2156,881.3 2157,881.3 2158,881.3 2159,881.6 2160,881.1 2161,880.5 2162,879.9 2163,880.8 2164,881.1 2165,880.2 2166,880.8 2167,881.4 2168,881.5 2169,880.9 2170,879.6 2171,879.8 2172,881.2 2173,881.6 2174,881.4 2175,881.6 2176,881.5 2177,881.3 2178,881.2 2179,881.2 2180,881.4 2181,881.0 2182,881.2 2183,881.5 2184,881.1 2185,881.1 2186,881.5 2187,881.5 2188,881.7 2189,881.3 2190,881.0 2191,880.8 2192,880.5 2193,881.0 2194,880.8 2195,880.5"/>
<polyline fill="none" stroke="#1C6CDE" stroke-width="6.8" stroke-linejoin="round" stroke-linecap="round" points="213,1074.1 214,1073.7 215,1072.7 216,1071.8 217,1072.4 218,1074.3 219,1074.5 220,1074.2 221,1074.7 222,1074.1 223,1074.9 224,1074.9 225,1073.9 226,1075.6 227,1075.4 228,1074.3 229,1074.1 230,1074.3 231,1073.6 232,1073.1 233,1074.9 234,1075.3 235,1074.5 236,1074.6 237,1074.9 238,1074.8 239,1075.0 240,1074.2 241,1074.2 242,1074.7 243,1074.8 244,1075.1 245,1074.4 246,1074.4 247,1074.4 248,1074.9 249,1075.4 250,1075.4 251,1074.9 252,1075.3 253,1075.7 254,1075.6 255,1076.1 256,1075.1 257,1074.9 258,1075.1 259,1075.2 260,1076.1 261,1076.3 262,1076.2 263,1075.4 264,1075.0 265,1075.7 266,1076.2 267,1075.8 268,1075.5 269,1076.1 270,1075.1 271,1074.5 272,1075.4 273,1075.4 274,1074.7 275,1075.6 276,1076.4 277,1075.9 278,1075.8 279,1075.8 280,1075.5 281,1075.5 282,1076.0 283,1076.8 284,1076.4 285,1075.8 286,1076.0 287,1075.5 288,1075.7 289,1076.7 290,1076.2 291,1076.2 292,1076.4 293,1076.5 294,1077.4 295,1076.7 296,1075.3 297,1075.3 298,1075.6 299,1075.2 300,1075.7 301,1076.9 302,1077.0 303,1076.3 304,1075.6 305,1075.4 306,1075.7 307,1076.2 308,1076.6 309,1076.4 310,1076.6 311,1076.6 312,1077.0 313,1077.3 314,1076.8 315,1076.6 316,1077.1 317,1077.6 318,1077.4 319,1077.5 320,1077.2 321,1076.4 322,1076.0 323,1076.5 324,1076.7 325,1075.9 326,1076.8 327,1077.0 328,1076.3 329,1076.9 330,1077.2 331,1077.2 332,1077.0 333,1076.9 334,1077.6 335,1077.3 336,1077.6 337,1077.3 338,1076.3 339,1076.5 340,1076.9 341,1076.7 342,1075.9 343,1076.0 344,1076.5 345,1076.0 346,1074.5 347,1074.2 348,1074.5 349,1073.5 350,1072.0 351,1069.4 352,1066.2 353,1062.2 354,1055.7 355,1046.9 356,1037.0 357,1027.8 358,1024.1 359,1027.5 360,1035.7 361,1046.9 362,1056.5 363,1062.0 364,1066.8 365,1070.7 366,1072.2 367,1073.8 368,1075.1 369,1076.3 370,1076.0 371,1075.6 372,1076.5 373,1076.1 374,1076.9 375,1078.8 376,1078.1 377,1077.7 378,1077.9 379,1078.0 380,1077.9 381,1078.3 382,1078.2 383,1078.5 384,1079.2 385,1079.8 386,1078.9 387,1077.8 388,1078.0 389,1078.0 390,1078.8 391,1078.5 392,1077.7 393,1077.3 394,1078.1 395,1079.5 396,1079.9 397,1079.4 398,1078.4 399,1078.3 400,1078.0 401,1077.5 402,1078.7 403,1079.3 404,1078.9 405,1078.9 406,1079.4 407,1080.2 408,1079.3 409,1078.4 410,1078.5 411,1079.3 412,1080.1 413,1079.4 414,1079.9 415,1080.0 416,1078.5 417,1077.5 418,1078.0 419,1079.1 420,1078.9 421,1078.9 422,1079.7 423,1079.6 424,1079.4 425,1080.2 426,1080.0 427,1079.0 428,1079.0 429,1079.5 430,1080.3 431,1079.8 432,1078.2 433,1078.5 434,1079.4 435,1079.0 436,1079.2 437,1079.5 438,1079.8 439,1079.3 440,1078.4 441,1078.8 442,1078.9 443,1079.4 444,1079.9 445,1079.4 446,1079.8 447,1080.0 448,1079.8 449,1079.9 450,1079.4 451,1079.0 452,1079.1 453,1078.6 454,1078.5 455,1079.4 456,1079.7 457,1078.9 458,1079.8 459,1079.7 460,1079.0 461,1079.8 462,1080.1 463,1079.3 464,1078.8 465,1079.1 466,1079.6 467,1079.9 468,1079.5 469,1079.6 470,1080.3 471,1080.4 472,1079.9 473,1079.2 474,1079.1 475,1079.0 476,1079.1 477,1079.7 478,1078.9 479,1078.3 480,1078.7 481,1079.2 482,1079.0 483,1078.8 484,1079.0 485,1078.9 486,1078.9 487,1079.3 488,1080.0 489,1080.1 490,1079.3 491,1079.7 492,1080.5 493,1079.7 494,1079.6 495,1079.5 496,1078.7 497,1078.6 498,1079.7 499,1080.1 500,1079.5 501,1079.5 502,1079.2 503,1079.4 504,1079.9 505,1080.5 506,1079.8 507,1079.6 508,1080.3 509,1078.9 510,1079.0 511,1080.5 512,1080.6 513,1080.0 514,1079.5 515,1078.5 516,1078.6 517,1079.6 518,1079.0 519,1079.0 520,1079.2 521,1080.1 522,1079.8 523,1078.4 524,1078.0 525,1078.2 526,1079.2 527,1079.4 528,1079.1 529,1079.4 530,1079.8 531,1080.0 532,1079.8 533,1078.5 534,1078.5 535,1078.8 536,1079.3 537,1079.4 538,1078.9 539,1079.2 540,1078.6 541,1078.5 542,1079.5 543,1079.5 544,1079.0 545,1079.3 546,1079.1 547,1078.9 548,1079.4 549,1079.3 550,1079.2 551,1079.3 552,1078.8 553,1078.3 554,1079.6 555,1080.8 556,1079.9 557,1079.7 558,1080.2 559,1080.2 560,1079.6 561,1078.5 562,1078.1 563,1078.6 564,1079.8 565,1080.6 566,1079.9 567,1079.1 568,1079.7 569,1080.8 570,1079.8 571,1079.1 572,1079.6 573,1079.3 574,1079.0 575,1079.0 576,1079.2 577,1078.6 578,1078.7 579,1079.7 580,1080.0 581,1080.0 582,1079.9 583,1079.6 584,1080.3 585,1080.1 586,1079.3 587,1080.0 588,1079.9 589,1078.8 590,1078.5 591,1078.9 592,1079.1 593,1079.1 594,1079.6 595,1080.1 596,1079.9 597,1079.4 598,1079.6 599,1080.3 600,1080.8 601,1080.1 602,1079.0 603,1079.9 604,1079.5 605,1079.0 606,1079.6 607,1079.5 608,1079.0 609,1079.0 610,1078.7 611,1079.2 612,1079.7 613,1079.2 614,1079.4 615,1079.5 616,1079.5 617,1079.6 618,1079.4 619,1079.2 620,1078.9 621,1078.4 622,1078.5 623,1078.5 624,1078.3 625,1078.5 626,1079.4 627,1079.8 628,1079.3 629,1079.3 630,1079.7 631,1080.7 632,1079.8 633,1078.7 634,1078.9 635,1079.3 636,1079.8 637,1079.4 638,1079.6 639,1079.7 640,1078.3 641,1077.5 642,1078.8 643,1078.8 644,1079.0 645,1080.1 646,1079.3 647,1078.5 648,1079.4 649,1080.4 650,1080.5 651,1080.0 652,1079.2 653,1078.8 654,1079.3 655,1079.0 656,1079.1 657,1079.2 658,1078.7 659,1079.8 660,1079.9 661,1079.7 662,1079.6 663,1078.6 664,1078.1 665,1077.8 666,1078.9 667,1079.0 668,1077.2 669,1077.5 670,1077.6 671,1076.1 672,1075.4 673,1073.1 674,1071.4 675,1069.5 676,1064.8 677,1060.5 678,1058.1 678.4,1057.4 679,1058.0 680,1060.4 681,1064.3 682,1068.5 683,1072.7 684,1074.5 685,1075.7 686,1077.7 687,1077.8 688,1077.6 689,1078.7 690,1079.8 691,1079.1 692,1078.5 693,1078.7 694,1079.7 695,1079.3 696,1078.5 697,1079.5 698,1078.9 699,1078.4 700,1079.5 701,1079.4 702,1078.9 703,1078.4 704,1078.6 705,1078.8 706,1078.5 707,1079.2 708,1079.1 709,1079.3 710,1079.9 711,1079.7 712,1079.9 713,1079.6 714,1078.2 715,1078.6 716,1079.9 717,1079.3 718,1078.6 719,1079.3 720,1079.5 721,1078.8 722,1078.8 723,1080.0 724,1079.8 725,1077.6 726,1077.9 727,1078.5 728,1077.7 729,1078.2 730,1078.7 731,1079.0 732,1079.0 733,1079.1 734,1079.6 735,1079.1 736,1078.9 737,1079.6 738,1079.4 739,1077.8 740,1077.4 741,1077.8 742,1078.0 743,1077.4 744,1076.7 745,1075.7 746,1073.8 747,1071.7 748,1068.8 749,1065.3 750,1061.3 751,1057.0 752,1053.5 752.7,1053.1 753,1053.8 754,1055.7 755,1059.5 756,1064.1 757,1068.4 758,1070.8 759,1073.3 760,1074.6 761,1074.0 762,1076.0 763,1076.8 764,1076.9 765,1077.4 766,1077.2 767,1076.9 768,1077.4 769,1078.3 770,1078.8 771,1078.7 772,1078.3 773,1078.8 774,1077.8 775,1077.1 776,1078.4 777,1078.8 778,1078.4 779,1077.8 780,1077.4 781,1076.8 782,1075.5 783,1075.6 784,1076.9 785,1078.3 786,1078.6 787,1078.1 788,1078.8 789,1078.6 790,1078.5 791,1079.2 792,1079.1 793,1078.9 794,1078.3 795,1077.7 796,1078.4 797,1079.5 798,1079.4 799,1078.5 800,1078.4 801,1079.1 802,1078.8 803,1078.6 804,1079.1 805,1079.1 806,1078.9 807,1078.9 808,1079.8 809,1079.7 810,1078.9 811,1077.8 812,1078.3 813,1079.1 814,1079.1 815,1079.4 816,1078.9 817,1078.6 818,1078.3 819,1079.5 820,1080.5 821,1080.0 822,1080.1 823,1080.4 824,1080.2 825,1080.0 826,1080.8 827,1079.5 828,1078.5 829,1079.0 830,1078.9 831,1078.1 832,1077.6 833,1079.0 834,1079.0 835,1078.8 836,1079.0 837,1078.7 838,1078.4 839,1078.1 840,1078.1 841,1078.6 842,1078.5 843,1078.3 844,1078.8 845,1078.6 846,1079.4 847,1079.3 848,1078.3 849,1078.3 850,1078.8 851,1078.4 852,1078.6 853,1078.5 854,1077.1 855,1075.9 856,1074.9 857,1074.0 858,1072.8 859,1070.6 860,1068.0 861,1066.9 861.4,1066.1 862,1066.8 863,1069.4 864,1070.7 865,1072.6 866,1074.0 867,1075.8 868,1077.2 869,1076.9 870,1078.4 871,1078.5 872,1078.0 873,1078.2 874,1077.9 875,1078.2 876,1078.2 877,1079.0 878,1079.8 879,1078.8 880,1079.4 881,1079.6 882,1078.3 883,1078.4 884,1077.9 885,1078.1 886,1077.9 887,1076.3 888,1076.5 889,1075.7 890,1073.7 891,1071.9 892,1069.7 893,1068.2 894,1065.6 895,1064.8 896,1066.2 897,1068.5 898,1071.8 899,1073.4 900,1074.5 901,1076.0 902,1077.1 903,1076.6 904,1075.9 905,1076.6 906,1076.7 907,1076.9 908,1077.6 909,1077.4 910,1077.6 911,1078.6 912,1078.4 913,1077.9 914,1077.9 915,1077.6 916,1077.3 917,1076.8 918,1077.2 919,1078.1 920,1077.7 921,1077.1 922,1076.4 923,1076.1 924,1076.7 925,1076.6 926,1076.2 927,1075.6 928,1074.7 929,1074.8 930,1075.6 931,1075.2 932,1073.4 933,1072.7 934,1072.7 935,1072.8 936,1072.6 937,1070.8 938,1068.9 939,1068.0 940,1067.2 941,1065.5 942,1064.4 943,1063.0 944,1060.9 945,1059.1 946,1057.2 947,1055.2 948,1052.9 949,1051.3 950,1049.1 951,1047.1 952,1044.4 953,1042.0 954,1040.6 955,1039.0 956,1038.8 956.8,1040.1 957,1040.3 958,1040.2 959,1040.0 960,1040.9 961,1042.8 962,1044.6 963,1047.6 964,1049.4 965,1051.6 966,1053.6 967,1055.3 968,1057.4 969,1059.3 970,1061.4 971,1062.0 972,1063.5 973,1065.7 974,1067.9 975,1068.1 976,1068.5 977,1070.8 978,1072.4 979,1073.3 980,1073.0 981,1073.6 982,1074.0 983,1073.6 984,1073.8 985,1073.9 986,1074.8 987,1074.4 988,1073.0 989,1074.1 990,1074.9 991,1074.6 992,1073.9 993,1073.4 994,1072.8 995,1071.3 996,1069.8 997,1067.8 998,1064.4 999,1058.5 1000,1050.8 1001,1039.6 1002,1024.5 1003,1008.9 1004,998.3 1004.6,996.2 1005,996.8 1006,1006.2 1007,1020.8 1008,1036.1 1009,1047.3 1010,1057.0 1011,1064.9 1012,1068.1 1013,1070.2 1014,1072.4 1015,1073.8 1016,1075.1 1017,1075.7 1018,1075.0 1019,1074.8 1020,1075.5 1021,1076.9 1022,1076.6 1023,1076.9 1024,1078.0 1025,1077.4 1026,1077.7 1027,1077.1 1028,1075.6 1029,1076.5 1030,1077.7 1031,1077.6 1032,1077.3 1033,1076.3 1034,1076.1 1035,1076.0 1036,1075.3 1037,1074.2 1038,1071.6 1039,1069.5 1040,1068.0 1041,1065.9 1042,1063.9 1042.4,1062.9 1043,1063.9 1044,1066.0 1045,1068.0 1046,1070.9 1047,1073.6 1048,1075.1 1049,1075.9 1050,1077.2 1051,1077.5 1052,1077.3 1053,1078.2 1054,1077.8 1055,1077.5 1056,1078.6 1057,1079.0 1058,1078.2 1059,1079.1 1060,1079.7 1061,1079.1 1062,1079.8 1063,1079.2 1064,1078.2 1065,1078.4 1066,1079.3 1067,1079.4 1068,1079.9 1069,1080.5 1070,1079.6 1071,1079.8 1072,1079.6 1073,1078.8 1074,1078.6 1075,1079.1 1076,1078.9 1077,1078.9 1078,1079.1 1079,1079.0 1080,1079.2 1081,1080.0 1082,1081.1 1083,1081.2 1084,1080.2 1085,1079.1 1086,1079.6 1087,1080.5 1088,1080.5 1089,1079.6 1090,1079.3 1091,1079.5 1092,1079.8 1093,1080.3 1094,1079.9 1095,1079.2 1096,1079.9 1097,1080.1 1098,1079.6 1099,1079.7 1100,1079.5 1101,1079.7 1102,1079.0 1103,1078.0 1104,1078.1 1105,1076.4 1106,1075.3 1107,1075.4 1108,1074.1 1109,1072.3 1110,1069.0 1111,1064.9 1112,1061.3 1113,1058.7 1114,1057.7 1115,1059.1 1116,1061.7 1117,1065.4 1118,1068.9 1119,1071.8 1120,1074.4 1121,1076.4 1122,1077.4 1123,1078.3 1124,1078.6 1125,1077.9 1126,1078.6 1127,1078.6 1128,1078.6 1129,1079.5 1130,1079.5 1131,1079.6 1132,1079.6 1133,1080.1 1134,1080.0 1135,1078.6 1136,1078.5 1137,1079.8 1138,1080.4 1139,1080.3 1140,1079.9 1141,1079.2 1142,1079.9 1143,1080.0 1144,1078.8 1145,1078.0 1146,1079.3 1147,1080.3 1148,1078.6 1149,1078.9 1150,1079.9 1151,1078.7 1152,1078.6 1153,1079.2 1154,1078.9 1155,1079.1 1156,1078.0 1157,1077.5 1158,1076.4 1159,1073.5 1160,1071.8 1161,1069.2 1162,1065.8 1163,1064.2 1164,1063.1 1165,1062.9 1166,1065.7 1167,1069.0 1168,1071.2 1169,1073.9 1170,1075.3 1171,1076.4 1172,1077.3 1173,1077.7 1174,1078.0 1175,1078.3 1176,1079.0 1177,1078.6 1178,1078.7 1179,1078.8 1180,1079.1 1181,1078.8 1182,1078.5 1183,1078.4 1184,1077.6 1185,1077.0 1186,1076.1 1187,1075.5 1188,1074.8 1189,1073.3 1190,1070.8 1191,1068.7 1192,1068.8 1193,1069.1 1194,1068.9 1195,1069.7 1196,1071.5 1197,1073.8 1198,1075.9 1199,1076.9 1200,1077.3 1201,1078.0 1202,1078.5 1203,1079.7 1204,1079.6 1205,1079.3 1206,1079.2 1207,1078.5 1208,1078.4 1209,1078.7 1210,1080.1 1211,1081.2 1212,1080.9 1213,1080.2 1214,1080.4 1215,1080.0 1216,1078.9 1217,1079.0 1218,1079.6 1219,1079.1 1220,1078.9 1221,1080.5 1222,1080.8 1223,1079.8 1224,1079.7 1225,1080.2 1226,1080.8 1227,1080.5 1228,1080.1 1229,1079.1 1230,1078.6 1231,1079.3 1232,1079.7 1233,1079.8 1234,1079.8 1235,1080.8 1236,1081.5 1237,1080.2 1238,1080.0 1239,1080.7 1240,1080.3 1241,1080.1 1242,1080.2 1243,1081.2 1244,1080.8 1245,1079.9 1246,1080.1 1247,1079.4 1248,1079.5 1249,1079.9 1250,1080.0 1251,1080.5 1252,1081.2 1253,1080.9 1254,1080.0 1255,1080.4 1256,1081.4 1257,1081.2 1258,1080.5 1259,1080.7 1260,1080.7 1261,1080.2 1262,1079.6 1263,1079.6 1264,1079.7 1265,1080.1 1266,1079.9 1267,1079.4 1268,1079.8 1269,1080.0 1270,1080.1 1271,1079.5 1272,1080.3 1273,1080.7 1274,1079.7 1275,1079.4 1276,1079.6 1277,1080.4 1278,1080.1 1279,1079.5 1280,1079.3 1281,1080.2 1282,1080.4 1283,1079.1 1284,1078.7 1285,1079.0 1286,1078.6 1287,1077.7 1288,1076.8 1289,1075.4 1290,1073.6 1291,1071.8 1292,1068.1 1293,1062.9 1294,1057.3 1295,1052.7 1296,1049.8 1296.5,1049.0 1297,1050.0 1298,1053.5 1299,1058.4 1300,1063.5 1301,1067.3 1302,1071.1 1303,1074.1 1304,1076.2 1305,1076.9 1306,1077.0 1307,1078.0 1308,1079.3 1309,1079.7 1310,1078.8 1311,1078.4 1312,1079.3 1313,1079.1 1314,1078.7 1315,1079.4 1316,1079.6 1317,1079.8 1318,1080.4 1319,1080.4 1320,1079.5 1321,1080.0 1322,1081.0 1323,1080.0 1324,1079.4 1325,1079.1 1326,1079.7 1327,1079.9 1328,1079.1 1329,1079.1 1330,1078.9 1331,1078.1 1332,1076.6 1333,1076.1 1334,1076.2 1335,1075.5 1336,1075.2 1337,1075.4 1338,1076.8 1339,1077.9 1340,1078.4 1341,1079.7 1342,1080.0 1343,1080.4 1344,1080.0 1345,1079.8 1346,1080.0 1347,1079.9 1348,1079.9 1349,1081.1 1350,1081.5 1351,1081.0 1352,1080.6 1353,1081.0 1354,1081.2 1355,1080.4 1356,1080.3 1357,1079.7 1358,1079.0 1359,1079.7 1360,1080.2 1361,1080.0 1362,1081.3 1363,1081.2 1364,1081.2 1365,1081.5 1366,1080.1 1367,1080.2 1368,1081.2 1369,1081.2 1370,1080.4 1371,1079.6 1372,1080.2 1373,1081.5 1374,1081.8 1375,1080.7 1376,1079.8 1377,1080.0 1378,1080.4 1379,1080.4 1380,1079.9 1381,1079.5 1382,1078.0 1383,1077.2 1384,1078.1 1385,1077.5 1386,1078.0 1387,1077.8 1388,1076.7 1389,1076.9 1390,1076.5 1391,1075.0 1392,1073.8 1393,1074.4 1394,1073.9 1395,1073.0 1396,1071.4 1397,1070.9 1398,1071.8 1399,1071.5 1400,1070.7 1401,1070.7 1402,1071.7 1403,1072.3 1404,1072.5 1405,1073.8 1406,1075.3 1407,1075.3 1408,1076.2 1409,1076.4 1410,1076.5 1411,1078.2 1412,1078.8 1413,1078.5 1414,1078.8 1415,1079.1 1416,1079.0 1417,1078.9 1418,1079.4 1419,1079.8 1420,1080.1 1421,1079.9 1422,1080.0 1423,1080.9 1424,1080.6 1425,1080.9 1426,1080.9 1427,1079.9 1428,1080.0 1429,1079.8 1430,1079.4 1431,1079.5 1432,1080.1 1433,1080.3 1434,1081.0 1435,1081.3 1436,1080.5 1437,1080.4 1438,1080.8 1439,1081.1 1440,1081.0 1441,1081.4 1442,1081.9 1443,1081.2 1444,1080.8 1445,1081.2 1446,1081.1 1447,1080.8 1448,1081.0 1449,1081.5 1450,1081.4 1451,1080.8 1452,1081.0 1453,1080.9 1454,1079.9 1455,1080.7 1456,1081.3 1457,1080.3 1458,1080.0 1459,1080.7 1460,1081.5 1461,1081.4 1462,1080.6 1463,1080.2 1464,1080.0 1465,1080.4 1466,1080.7 1467,1081.0 1468,1081.0 1469,1081.2 1470,1081.4 1471,1081.0 1472,1081.0 1473,1080.9 1474,1081.7 1475,1081.5 1476,1080.5 1477,1080.7 1478,1081.3 1479,1080.9 1480,1081.3 1481,1081.3 1482,1080.4 1483,1080.9 1484,1081.2 1485,1080.7 1486,1081.1 1487,1082.3 1488,1081.9 1489,1081.4 1490,1081.7 1491,1082.5 1492,1082.3 1493,1081.4 1494,1081.2 1495,1081.1 1496,1081.2 1497,1080.9 1498,1080.9 1499,1081.4 1500,1081.4 1501,1081.3 1502,1081.4 1503,1081.6 1504,1081.1 1505,1080.1 1506,1080.9 1507,1082.0 1508,1081.5 1509,1080.0 1510,1080.7 1511,1081.8 1512,1081.0 1513,1081.4 1514,1082.3 1515,1081.4 1516,1080.7 1517,1081.2 1518,1081.7 1519,1082.0 1520,1081.9 1521,1082.1 1522,1081.7 1523,1080.5 1524,1080.4 1525,1080.4 1526,1080.6 1527,1080.6 1528,1081.0 1529,1081.8 1530,1082.2 1531,1081.4 1532,1080.2 1533,1080.2 1534,1080.8 1535,1080.7 1536,1080.9 1537,1081.3 1538,1081.2 1539,1080.6 1540,1080.8 1541,1080.7 1542,1079.2 1543,1079.3 1544,1080.7 1545,1080.4 1546,1078.7 1547,1078.0 1548,1078.4 1549,1077.6 1550,1076.1 1551,1074.5 1552,1073.7 1553,1073.6 1554,1074.5 1555,1075.7 1556,1076.3 1557,1076.3 1558,1076.7 1559,1078.2 1560,1079.1 1561,1079.1 1562,1077.6 1563,1077.6 1564,1076.9 1565,1074.7 1566,1073.9 1567,1073.4 1568,1073.7 1569,1074.7 1570,1075.7 1571,1076.8 1572,1077.9 1573,1079.3 1574,1079.8 1575,1079.5 1576,1080.4 1577,1081.1 1578,1081.3 1579,1081.1 1580,1080.8 1581,1081.0 1582,1080.5 1583,1080.7 1584,1081.3 1585,1081.7 1586,1081.2 1587,1081.5 1588,1082.5 1589,1082.3 1590,1081.7 1591,1081.2 1592,1081.9 1593,1081.9 1594,1082.0 1595,1081.6 1596,1080.2 1597,1081.2 1598,1081.5 1599,1081.8 1600,1082.1 1601,1081.5 1602,1081.8 1603,1082.5 1604,1082.7 1605,1082.2 1606,1081.7 1607,1082.1 1608,1081.9 1609,1081.2 1610,1081.1 1611,1083.0 1612,1084.0 1613,1082.8 1614,1082.1 1615,1082.1 1616,1081.6 1617,1081.2 1618,1082.3 1619,1082.5 1620,1081.6 1621,1081.5 1622,1082.0 1623,1082.6 1624,1083.0 1625,1082.5 1626,1083.1 1627,1082.8 1628,1082.4 1629,1082.8 1630,1082.3 1631,1081.9 1632,1082.1 1633,1083.0 1634,1082.1 1635,1081.5 1636,1082.6 1637,1082.2 1638,1081.5 1639,1082.4 1640,1082.6 1641,1081.8 1642,1082.1 1643,1082.4 1644,1082.5 1645,1082.6 1646,1082.9 1647,1082.8 1648,1082.6 1649,1082.1 1650,1081.8 1651,1081.9 1652,1082.4 1653,1082.7 1654,1082.6 1655,1082.3 1656,1081.3 1657,1081.7 1658,1082.0 1659,1081.0 1660,1080.8 1661,1081.0 1662,1081.6 1663,1081.8 1664,1081.3 1665,1081.4 1666,1081.3 1667,1080.9 1668,1080.0 1669,1079.0 1670,1076.7 1671,1074.2 1672,1071.0 1673,1066.3 1674,1062.1 1675,1057.7 1676,1055.8 1677,1058.7 1678,1062.9 1679,1067.5 1680,1071.2 1681,1074.1 1682,1075.7 1683,1076.7 1684,1078.5 1685,1080.4 1686,1081.9 1687,1080.6 1688,1079.8 1689,1080.5 1690,1081.5 1691,1082.3 1692,1081.5 1693,1081.6 1694,1082.3 1695,1081.7 1696,1081.7 1697,1082.3 1698,1082.2 1699,1081.3 1700,1080.9 1701,1080.6 1702,1080.8 1703,1081.5 1704,1082.0 1705,1083.0 1706,1081.7 1707,1081.7 1708,1082.3 1709,1082.1 1710,1082.3 1711,1081.8 1712,1081.6 1713,1081.5 1714,1082.3 1715,1082.5 1716,1081.4 1717,1081.7 1718,1081.9 1719,1081.9 1720,1081.7 1721,1081.6 1722,1081.6 1723,1081.1 1724,1081.6 1725,1082.3 1726,1082.2 1727,1081.8 1728,1082.9 1729,1082.8 1730,1080.6 1731,1080.8 1732,1081.7 1733,1080.8 1734,1081.4 1735,1082.4 1736,1081.8 1737,1081.1 1738,1081.3 1739,1081.9 1740,1081.4 1741,1081.5 1742,1082.0 1743,1081.5 1744,1082.0 1745,1081.6 1746,1081.1 1747,1081.1 1748,1079.4 1749,1079.2 1750,1080.4 1751,1080.2 1752,1080.6 1753,1080.3 1754,1079.8 1755,1080.0 1756,1079.8 1757,1078.7 1758,1078.1 1759,1078.4 1760,1079.1 1761,1078.9 1762,1078.3 1763,1078.3 1764,1077.2 1765,1076.4 1766,1077.0 1767,1077.6 1768,1078.1 1769,1077.5 1770,1076.1 1771,1076.1 1772,1076.0 1773,1076.6 1774,1077.1 1775,1076.5 1776,1077.6 1777,1077.9 1778,1076.6 1779,1076.8 1780,1077.2 1781,1076.7 1782,1076.8 1783,1076.9 1784,1077.7 1785,1078.2 1786,1078.0 1787,1079.0 1788,1079.3 1789,1078.8 1790,1079.2 1791,1079.3 1792,1079.5 1793,1079.8 1794,1080.3 1795,1080.4 1796,1079.8 1797,1079.9 1798,1079.5 1799,1079.7 1800,1081.1 1801,1082.1 1802,1082.0 1803,1081.8 1804,1080.9 1805,1081.0 1806,1082.1 1807,1082.1 1808,1081.7 1809,1081.4 1810,1081.8 1811,1081.4 1812,1081.3 1813,1082.2 1814,1081.6 1815,1080.8 1816,1081.7 1817,1082.5 1818,1081.8 1819,1080.7 1820,1080.3 1821,1081.0 1822,1081.8 1823,1081.7 1824,1081.7 1825,1081.0 1826,1081.5 1827,1082.7 1828,1081.6 1829,1080.9 1830,1081.1 1831,1081.1 1832,1082.3 1833,1083.1 1834,1081.8 1835,1082.3 1836,1083.0 1837,1082.2 1838,1081.6 1839,1081.2 1840,1081.5 1841,1083.1 1842,1082.8 1843,1081.2 1844,1082.0 1845,1082.4 1846,1081.7 1847,1082.8 1848,1083.1 1849,1081.6 1850,1081.6 1851,1082.2 1852,1082.6 1853,1082.7 1854,1082.6 1855,1082.0 1856,1082.5 1857,1082.6 1858,1081.7 1859,1082.1 1860,1082.9 1861,1082.4 1862,1081.7 1863,1081.8 1864,1081.7 1865,1081.6 1866,1082.2 1867,1082.7 1868,1081.3 1869,1081.7 1870,1083.3 1871,1082.2 1872,1082.2 1873,1082.1 1874,1082.1 1875,1082.5 1876,1082.1 1877,1082.4 1878,1082.5 1879,1081.8 1880,1082.2 1881,1083.1 1882,1082.5 1883,1082.8 1884,1082.7 1885,1083.0 1886,1083.7 1887,1083.7 1888,1082.7 1889,1081.9 1890,1081.4 1891,1081.4 1892,1081.9 1893,1081.4 1894,1082.2 1895,1082.5 1896,1082.5 1897,1082.1 1898,1081.3 1899,1081.9 1900,1081.2 1901,1080.6 1902,1081.5 1903,1081.1 1904,1081.3 1905,1081.7 1906,1081.9 1907,1082.0 1908,1082.3 1909,1081.9 1910,1081.7 1911,1081.8 1912,1081.9 1913,1082.6 1914,1081.1 1915,1081.4 1916,1082.0 1917,1081.7 1918,1081.9 1919,1082.3 1920,1082.2 1921,1082.1 1922,1081.8 1923,1081.3 1924,1082.0 1925,1082.8 1926,1082.5 1927,1081.7 1928,1081.8 1929,1082.1 1930,1081.4 1931,1082.4 1932,1082.5 1933,1080.5 1934,1080.5 1935,1081.1 1936,1080.9 1937,1080.2 1938,1079.8 1939,1079.9 1940,1079.2 1941,1078.1 1942,1078.1 1943,1078.3 1944,1077.8 1945,1079.0 1946,1080.3 1947,1080.2 1948,1080.5 1949,1079.3 1950,1079.8 1951,1079.8 1952,1078.4 1953,1079.3 1954,1079.4 1955,1079.5 1956,1080.1 1957,1079.7 1958,1080.0 1959,1079.3 1960,1078.7 1961,1079.6 1962,1080.1 1963,1080.1 1964,1078.5 1965,1078.3 1966,1078.7 1967,1078.5 1968,1078.8 1969,1079.1 1970,1078.6 1971,1078.2 1972,1078.8 1973,1078.9 1974,1078.7 1975,1077.7 1976,1077.5 1977,1078.6 1978,1078.3 1979,1078.0 1980,1078.0 1981,1078.1 1982,1078.4 1983,1077.7 1984,1077.8 1985,1078.4 1986,1077.6 1987,1077.2 1988,1077.6 1989,1077.2 1990,1077.8 1991,1078.0 1992,1077.6 1993,1077.0 1994,1076.8 1995,1077.2 1996,1077.4 1997,1077.8 1998,1078.1 1999,1078.9 2000,1077.7 2001,1077.0 2002,1077.7 2003,1077.4 2004,1077.1 2005,1077.3 2006,1077.9 2007,1078.2 2008,1078.4 2009,1078.1 2010,1078.0 2011,1078.3 2012,1078.3 2013,1078.4 2014,1078.2 2015,1078.2 2016,1077.5 2017,1076.1 2018,1075.7 2019,1076.7 2020,1076.9 2021,1076.1 2022,1076.2 2023,1076.0 2024,1075.3 2025,1073.6 2026,1071.6 2027,1071.3 2028,1071.2 2029,1071.4 2030,1071.5 2031,1072.2 2032,1073.6 2033,1074.1 2034,1075.1 2035,1076.1 2036,1076.3 2037,1076.2 2038,1075.9 2039,1076.2 2040,1076.7 2041,1076.4 2042,1075.2 2043,1075.1 2044,1076.4 2045,1075.6 2046,1073.0 2047,1071.7 2048,1071.4 2049,1071.3 2050,1071.0 2051,1071.7 2052,1072.7 2053,1072.7 2054,1074.0 2055,1075.4 2056,1076.4 2057,1077.6 2058,1076.8 2059,1076.3 2060,1077.6 2061,1078.8 2062,1079.6 2063,1080.0 2064,1080.3 2065,1080.5 2066,1080.0 2067,1079.3 2068,1080.0 2069,1081.0 2070,1080.9 2071,1080.1 2072,1080.1 2073,1079.7 2074,1079.4 2075,1080.3 2076,1080.1 2077,1078.7 2078,1079.6 2079,1080.5 2080,1079.2 2081,1079.5 2082,1079.6 2083,1078.9 2084,1079.5 2085,1080.3 2086,1080.1 2087,1079.5 2088,1079.6 2089,1080.3 2090,1080.8 2091,1080.5 2092,1078.9 2093,1079.3 2094,1080.4 2095,1080.9 2096,1081.0 2097,1080.1 2098,1079.8 2099,1079.7 2100,1079.9 2101,1081.7 2102,1081.0 2103,1079.1 2104,1078.9 2105,1079.4 2106,1080.2 2107,1080.2 2108,1079.2 2109,1079.4 2110,1080.5 2111,1081.0 2112,1081.0 2113,1079.6 2114,1079.8 2115,1080.3 2116,1079.2 2117,1079.3 2118,1080.0 2119,1080.2 2120,1079.8 2121,1079.4 2122,1079.8 2123,1080.2 2124,1080.4 2125,1079.7 2126,1079.9 2127,1079.9 2128,1079.6 2129,1080.2 2130,1078.8 2131,1078.4 2132,1079.6 2133,1080.1 2134,1080.1 2135,1080.2 2136,1080.2 2137,1079.9 2138,1080.3 2139,1082.2 2140,1081.6 2141,1079.8 2142,1080.2 2143,1080.0 2144,1080.2 2145,1080.5 2146,1081.0 2147,1080.5 2148,1079.7 2149,1079.8 2150,1079.9 2151,1080.0 2152,1079.3 2153,1079.2 2154,1079.4 2155,1079.9 2156,1079.8 2157,1080.0 2158,1080.3 2159,1079.9 2160,1079.9 2161,1080.0 2162,1081.0 2163,1080.5 2164,1079.7 2165,1080.3 2166,1080.5 2167,1080.1 2168,1078.9 2169,1079.4 2170,1080.8 2171,1080.9 2172,1080.9 2173,1080.0 2174,1080.3 2175,1080.7 2176,1080.3 2177,1081.4 2178,1081.7 2179,1080.5 2180,1080.0 2181,1081.0 2182,1081.4 2183,1080.7 2184,1079.6 2185,1079.3 2186,1079.7 2187,1080.2 2188,1080.9 2189,1081.4 2190,1080.0 2191,1079.3 2192,1079.6 2193,1079.5 2194,1080.2 2195,1080.4"/>
<polyline fill="none" stroke="#F24349" stroke-width="6.8" stroke-linejoin="round" stroke-linecap="round" points="213,1258.7 214,1258.4 215,1259.0 216,1259.1 217,1259.2 218,1259.6 219,1259.1 220,1259.2 221,1259.5 222,1259.8 223,1260.3 224,1259.5 225,1259.4 226,1259.6 227,1259.7 228,1260.1 229,1260.2 230,1260.3 231,1260.4 232,1259.8 233,1259.2 234,1258.8 235,1259.4 236,1260.1 237,1260.5 238,1260.1 239,1259.8 240,1259.7 241,1259.6 242,1259.2 243,1259.6 244,1260.1 245,1259.9 246,1260.3 247,1260.4 248,1259.9 249,1260.3 250,1260.9 251,1260.7 252,1260.3 253,1259.7 254,1259.4 255,1259.9 256,1260.4 257,1260.3 258,1260.9 259,1261.2 260,1261.0 261,1261.2 262,1260.6 263,1260.7 264,1261.1 265,1260.5 266,1260.6 267,1261.3 268,1261.5 269,1261.5 270,1260.8 271,1260.4 272,1260.7 273,1260.9 274,1261.1 275,1261.4 276,1261.7 277,1261.1 278,1261.2 279,1261.9 280,1261.8 281,1260.9 282,1260.6 283,1261.0 284,1260.7 285,1260.8 286,1260.9 287,1261.2 288,1261.8 289,1261.5 290,1261.0 291,1261.1 292,1261.3 293,1261.0 294,1261.6 295,1261.6 296,1260.8 297,1261.3 298,1262.3 299,1262.5 300,1262.2 301,1262.4 302,1262.1 303,1262.1 304,1262.9 305,1262.1 306,1261.6 307,1261.4 308,1261.0 309,1261.5 310,1261.5 311,1261.4 312,1261.9 313,1261.9 314,1262.1 315,1262.6 316,1262.4 317,1262.2 318,1262.6 319,1262.2 320,1261.5 321,1260.9 322,1261.3 323,1262.4 324,1262.4 325,1262.7 326,1263.0 327,1262.7 328,1262.2 329,1261.7 330,1261.8 331,1262.2 332,1262.2 333,1262.0 334,1261.9 335,1262.2 336,1261.8 337,1261.5 338,1262.1 339,1262.4 340,1262.6 341,1262.3 342,1262.0 343,1261.7 344,1262.2 345,1262.8 346,1262.5 347,1262.1 348,1261.8 349,1262.3 350,1262.7 351,1262.5 352,1263.1 353,1262.5 354,1261.7 355,1262.3 356,1262.7 357,1262.3 358,1262.1 359,1262.3 360,1262.1 361,1262.5 362,1262.7 363,1263.0 364,1263.1 365,1263.2 366,1262.8 367,1262.5 368,1262.3 369,1261.7 370,1261.7 371,1262.5 372,1263.0 373,1262.3 374,1262.6 375,1263.4 376,1263.0 377,1262.6 378,1262.7 379,1262.4 380,1263.1 381,1263.4 382,1262.6 383,1262.7 384,1262.6 385,1262.4 386,1262.7 387,1262.6 388,1262.2 389,1262.4 390,1262.9 391,1262.9 392,1262.3 393,1262.7 394,1262.7 395,1262.5 396,1263.1 397,1263.4 398,1263.1 399,1263.4 400,1263.3 401,1262.7 402,1262.3 403,1262.5 404,1263.2 405,1263.0 406,1263.4 407,1263.9 408,1263.6 409,1263.0 410,1262.8 411,1263.3 412,1262.6 413,1262.5 414,1263.0 415,1262.5 416,1262.7 417,1263.9 418,1264.0 419,1263.1 420,1262.8 421,1263.4 422,1263.2 423,1263.0 424,1263.3 425,1263.2 426,1263.7 427,1263.2 428,1263.1 429,1263.6 430,1263.2 431,1262.7 432,1262.8 433,1263.2 434,1262.2 435,1261.9 436,1262.5 437,1262.6 438,1262.8 439,1262.8 440,1263.5 441,1264.1 442,1263.6 443,1263.7 444,1264.4 445,1264.1 446,1263.1 447,1263.0 448,1263.9 449,1263.5 450,1263.0 451,1263.6 452,1264.0 453,1264.0 454,1263.7 455,1263.4 456,1263.2 457,1263.5 458,1264.0 459,1263.5 460,1263.1 461,1263.6 462,1264.1 463,1263.5 464,1262.7 465,1263.0 466,1263.7 467,1264.0 468,1264.0 469,1263.3 470,1263.0 471,1263.4 472,1263.2 473,1264.1 474,1264.3 475,1263.6 476,1263.5 477,1263.6 478,1264.1 479,1263.8 480,1263.5 481,1263.4 482,1263.1 483,1263.2 484,1263.6 485,1263.7 486,1263.5 487,1263.0 488,1263.1 489,1263.8 490,1264.1 491,1263.9 492,1263.0 493,1262.6 494,1262.9 495,1263.4 496,1263.7 497,1263.3 498,1263.0 499,1263.8 500,1264.0 501,1263.6 502,1263.5 503,1263.1 504,1262.8 505,1263.1 506,1263.9 507,1264.4 508,1264.0 509,1263.9 510,1264.1 511,1264.2 512,1263.9 513,1263.6 514,1264.1 515,1263.7 516,1263.4 517,1263.9 518,1264.0 519,1264.1 520,1264.2 521,1264.3 522,1264.6 523,1264.4 524,1264.6 525,1264.4 526,1263.7 527,1263.9 528,1263.8 529,1263.2 530,1263.1 531,1263.9 532,1264.1 533,1263.3 534,1264.1 535,1264.6 536,1264.1 537,1263.7 538,1263.8 539,1263.9 540,1263.9 541,1264.1 542,1263.9 543,1264.0 544,1263.8 545,1263.6 546,1263.7 547,1263.9 548,1264.4 549,1264.5 550,1263.7 551,1264.0 552,1264.5 553,1264.0 554,1264.0 555,1264.1 556,1264.5 557,1264.5 558,1264.2 559,1264.5 560,1264.8 561,1264.2 562,1263.5 563,1263.2 564,1263.0 565,1263.7 566,1264.3 567,1264.2 568,1264.3 569,1264.4 570,1264.7 571,1265.1 572,1264.5 573,1264.4 574,1265.0 575,1264.3 576,1264.1 577,1264.2 578,1263.6 579,1263.8 580,1263.8 581,1263.8 582,1264.0 583,1263.9 584,1264.5 585,1264.6 586,1264.1 587,1264.2 588,1264.6 589,1264.9 590,1264.4 591,1264.5 592,1264.7 593,1264.2 594,1264.6 595,1265.0 596,1264.8 597,1264.7 598,1263.9 599,1264.0 600,1264.8 601,1264.6 602,1264.9 603,1265.0 604,1265.0 605,1265.4 606,1264.7 607,1264.1 608,1264.2 609,1264.4 610,1264.7 611,1264.6 612,1264.1 613,1264.9 614,1265.2 615,1264.7 616,1265.2 617,1265.2 618,1263.9 619,1264.1 620,1264.6 621,1264.7 622,1264.4 623,1264.2 624,1265.0 625,1265.3 626,1265.4 627,1265.3 628,1265.0 629,1264.7 630,1264.4 631,1264.7 632,1265.5 633,1265.4 634,1264.7 635,1264.1 636,1264.2 637,1265.1 638,1265.3 639,1264.5 640,1264.4 641,1264.9 642,1264.8 643,1264.5 644,1264.5 645,1264.4 646,1265.1 647,1265.2 648,1264.7 649,1265.3 650,1265.2 651,1264.7 652,1264.7 653,1264.8 654,1264.8 655,1264.7 656,1264.7 657,1264.8 658,1265.5 659,1265.3 660,1265.0 661,1265.1 662,1264.6 663,1264.3 664,1264.7 665,1264.6 666,1264.7 667,1265.0 668,1265.3 669,1265.1 670,1265.0 671,1265.7 672,1265.6 673,1265.0 674,1264.9 675,1265.1 676,1265.0 677,1265.2 678,1265.2 679,1265.0 680,1265.4 681,1265.3 682,1264.8 683,1264.9 684,1264.9 685,1264.2 686,1264.2 687,1264.8 688,1264.6 689,1264.1 690,1264.6 691,1265.0 692,1265.0 693,1265.3 694,1265.6 695,1265.7 696,1265.5 697,1265.7 698,1265.3 699,1265.3 700,1265.7 701,1264.9 702,1264.2 703,1264.8 704,1265.6 705,1265.5 706,1264.6 707,1264.2 708,1264.7 709,1265.2 710,1264.9 711,1265.0 712,1265.0 713,1265.3 714,1265.0 715,1264.5 716,1265.3 717,1265.2 718,1264.6 719,1264.7 720,1265.5 721,1265.7 722,1265.6 723,1265.2 724,1264.8 725,1265.2 726,1265.4 727,1265.0 728,1264.3 729,1264.6 730,1265.5 731,1265.5 732,1264.7 733,1264.2 734,1264.5 735,1264.6 736,1265.1 737,1265.1 738,1264.7 739,1264.7 740,1264.3 741,1264.9 742,1265.5 743,1265.0 744,1264.9 745,1264.5 746,1264.9 747,1265.3 748,1264.2 749,1264.2 750,1264.9 751,1265.2 752,1265.3 753,1265.5 754,1265.4 755,1265.5 756,1264.9 757,1264.7 758,1265.4 759,1265.4 760,1265.2 761,1264.9 762,1264.8 763,1264.5 764,1264.5 765,1265.3 766,1265.9 767,1265.5 768,1264.9 769,1264.9 770,1265.0 771,1265.1 772,1265.3 773,1265.7 774,1265.0 775,1264.3 776,1264.7 777,1265.0 778,1265.3 779,1265.8 780,1265.4 781,1265.1 782,1265.4 783,1265.2 784,1265.3 785,1265.5 786,1265.5 787,1264.9 788,1265.0 789,1265.5 790,1264.9 791,1264.9 792,1265.3 793,1265.1 794,1265.2 795,1265.8 796,1265.2 797,1264.8 798,1264.7 799,1264.7 800,1265.5 801,1265.0 802,1265.0 803,1265.7 804,1265.3 805,1265.1 806,1265.2 807,1265.2 808,1265.2 809,1265.5 810,1265.8 811,1265.2 812,1265.3 813,1266.1 814,1266.3 815,1265.8 816,1264.9 817,1264.6 818,1265.1 819,1265.2 820,1264.8 821,1265.0 822,1265.7 823,1265.1 824,1264.7 825,1264.8 826,1265.0 827,1265.6 828,1265.0 829,1265.2 830,1266.1 831,1265.2 832,1265.4 833,1266.2 834,1265.8 835,1265.6 836,1265.1 837,1265.2 838,1265.2 839,1265.1 840,1265.6 841,1265.5 842,1265.0 843,1265.3 844,1265.8 845,1265.9 846,1265.5 847,1265.7 848,1266.2 849,1265.7 850,1265.4 851,1264.9 852,1264.7 853,1264.9 854,1265.0 855,1265.1 856,1264.4 857,1264.7 858,1265.1 859,1265.3 860,1266.0 861,1265.8 862,1265.4 863,1265.3 864,1264.9 865,1264.8 866,1265.5 867,1265.7 868,1265.1 869,1265.3 870,1265.8 871,1265.0 872,1265.0 873,1265.0 874,1264.7 875,1265.0 876,1265.6 877,1266.4 878,1265.3 879,1264.5 880,1264.9 881,1265.1 882,1265.2 883,1264.8 884,1264.8 885,1264.8 886,1264.4 887,1264.7 888,1265.0 889,1264.6 890,1264.7 891,1264.7 892,1264.3 893,1264.3 894,1264.7 895,1264.5 896,1264.7 897,1264.7 898,1264.3 899,1264.6 900,1264.4 901,1263.9 902,1263.8 903,1264.2 904,1264.5 905,1264.4 906,1263.7 907,1263.2 908,1263.0 909,1263.0 910,1263.1 911,1263.2 912,1262.7 913,1262.8 914,1262.6 915,1262.2 916,1262.0 917,1262.1 918,1262.1 919,1261.5 920,1261.3 921,1261.1 922,1259.8 923,1259.0 924,1258.3 925,1257.2 926,1256.4 927,1255.1 928,1253.5 929,1252.5 930,1251.2 931,1249.4 932,1247.3 933,1244.7 934,1242.1 935,1239.4 936,1236.3 937,1233.4 938,1230.2 939,1226.6 940,1223.3 941,1220.6 942,1218.1 943,1215.7 944,1214.1 945,1212.8 946,1212.5 947,1213.2 948,1214.3 949,1215.6 950,1218.3 951,1221.8 952,1224.7 953,1228.3 954,1231.1 955,1234.4 956,1237.8 957,1240.5 958,1243.7 959,1245.7 960,1247.8 961,1250.1 962,1252.1 963,1253.6 964,1255.5 965,1257.4 966,1258.0 967,1258.7 968,1260.1 969,1261.0 970,1261.5 971,1261.9 972,1262.4 973,1262.6 974,1263.0 975,1263.6 976,1263.5 977,1264.3 978,1265.1 979,1264.9 980,1264.7 981,1265.4 982,1265.3 983,1265.1 984,1265.5 985,1265.7 986,1266.1 987,1266.1 988,1265.9 989,1266.2 990,1266.8 991,1266.7 992,1267.2 993,1267.3 994,1266.9 995,1267.7 996,1267.7 997,1267.1 998,1266.8 999,1266.9 1000,1267.3 1001,1267.4 1002,1267.3 1003,1267.6 1004,1268.1 1005,1268.1 1006,1267.9 1007,1267.1 1008,1267.4 1009,1267.9 1010,1267.7 1011,1268.3 1012,1268.5 1013,1268.1 1014,1268.2 1015,1268.3 1016,1268.3 1017,1268.5 1018,1268.4 1019,1268.1 1020,1267.9 1021,1268.1 1022,1268.5 1023,1268.7 1024,1268.3 1025,1267.7 1026,1267.5 1027,1268.4 1028,1269.0 1029,1268.6 1030,1268.4 1031,1269.1 1032,1269.4 1033,1269.0 1034,1268.6 1035,1268.8 1036,1268.8 1037,1268.3 1038,1268.8 1039,1269.2 1040,1269.0 1041,1268.5 1042,1268.2 1043,1268.4 1044,1268.6 1045,1268.8 1046,1268.7 1047,1268.6 1048,1269.0 1049,1268.9 1050,1268.6 1051,1269.0 1052,1269.2 1053,1268.9 1054,1268.9 1055,1269.0 1056,1268.8 1057,1269.0 1058,1269.6 1059,1269.3 1060,1268.4 1061,1268.3 1062,1268.2 1063,1268.6 1064,1268.9 1065,1268.7 1066,1268.6 1067,1268.8 1068,1269.0 1069,1269.6 1070,1269.7 1071,1269.2 1072,1269.0 1073,1269.2 1074,1269.7 1075,1269.5 1076,1269.4 1077,1269.6 1078,1268.7 1079,1269.2 1080,1270.1 1081,1269.1 1082,1268.3 1083,1268.8 1084,1269.2 1085,1269.3 1086,1269.4 1087,1269.6 1088,1269.5 1089,1269.3 1090,1269.7 1091,1269.5 1092,1269.6 1093,1269.7 1094,1269.5 1095,1269.4 1096,1268.7 1097,1268.5 1098,1269.7 1099,1269.9 1100,1269.1 1101,1269.2 1102,1269.4 1103,1270.0 1104,1269.8 1105,1269.0 1106,1269.5 1107,1269.2 1108,1268.5 1109,1268.7 1110,1268.9 1111,1269.6 1112,1270.2 1113,1270.1 1114,1270.2 1115,1269.5 1116,1269.3 1117,1269.6 1118,1269.5 1119,1269.6 1120,1269.0 1121,1269.5 1122,1270.3 1123,1270.0 1124,1269.4 1125,1269.9 1126,1269.5 1127,1268.9 1128,1269.4 1129,1269.1 1130,1269.6 1131,1269.7 1132,1269.7 1133,1269.9 1134,1270.1 1135,1270.3 1136,1270.1 1137,1269.8 1138,1269.6 1139,1269.3 1140,1269.4 1141,1269.9 1142,1269.6 1143,1269.5 1144,1269.5 1145,1269.3 1146,1269.3 1147,1269.3 1148,1269.9 1149,1270.0 1150,1269.2 1151,1269.3 1152,1269.7 1153,1269.9 1154,1270.2 1155,1270.0 1156,1269.7 1157,1269.6 1158,1269.4 1159,1269.4 1160,1269.9 1161,1269.4 1162,1269.1 1163,1269.7 1164,1269.5 1165,1269.3 1166,1269.7 1167,1269.8 1168,1269.9 1169,1270.0 1170,1270.2 1171,1269.9 1172,1269.7 1173,1269.9 1174,1269.4 1175,1269.1 1176,1269.7 1177,1269.9 1178,1269.9 1179,1269.8 1180,1269.6 1181,1269.9 1182,1269.3 1183,1268.6 1184,1269.1 1185,1269.7 1186,1269.9 1187,1270.0 1188,1269.9 1189,1269.3 1190,1269.4 1191,1269.8 1192,1269.4 1193,1268.8 1194,1269.0 1195,1269.7 1196,1269.8 1197,1270.0 1198,1269.8 1199,1269.3 1200,1269.2 1201,1269.5 1202,1269.7 1203,1270.0 1204,1269.8 1205,1269.2 1206,1269.0 1207,1269.5 1208,1269.7 1209,1269.6 1210,1269.5 1211,1269.3 1212,1269.4 1213,1269.3 1214,1269.5 1215,1270.2 1216,1270.1 1217,1269.7 1218,1269.1 1219,1269.2 1220,1269.7 1221,1269.9 1222,1270.2 1223,1270.2 1224,1269.8 1225,1269.6 1226,1270.1 1227,1269.8 1228,1269.9 1229,1269.6 1230,1269.3 1231,1269.6 1232,1269.8 1233,1269.3 1234,1269.3 1235,1270.4 1236,1269.8 1237,1269.6 1238,1269.7 1239,1269.7 1240,1270.3 1241,1269.7 1242,1269.8 1243,1270.1 1244,1269.7 1245,1269.9 1246,1270.2 1247,1270.0 1248,1269.9 1249,1270.1 1250,1269.6 1251,1269.4 1252,1269.8 1253,1269.8 1254,1269.9 1255,1269.7 1256,1269.0 1257,1269.4 1258,1270.0 1259,1269.8 1260,1269.5 1261,1270.2 1262,1270.4 1263,1269.4 1264,1269.5 1265,1269.9 1266,1269.4 1267,1269.5 1268,1269.3 1269,1268.9 1270,1269.8 1271,1270.2 1272,1270.1 1273,1270.0 1274,1269.7 1275,1269.5 1276,1269.9 1277,1269.4 1278,1269.2 1279,1269.9 1280,1270.2 1281,1270.2 1282,1270.2 1283,1270.2 1284,1269.7 1285,1269.1 1286,1269.2 1287,1269.1 1288,1269.5 1289,1270.4 1290,1270.5 1291,1270.1 1292,1270.0 1293,1270.0 1294,1269.8 1295,1270.1 1296,1269.7 1297,1269.2 1298,1269.6 1299,1270.6 1300,1270.7 1301,1270.1 1302,1270.3 1303,1269.9 1304,1268.9 1305,1268.7 1306,1269.0 1307,1269.8 1308,1270.0 1309,1269.5 1310,1269.5 1311,1269.4 1312,1269.5 1313,1269.6 1314,1269.9 1315,1269.9 1316,1269.2 1317,1269.3 1318,1269.9 1319,1269.6 1320,1269.5 1321,1269.4 1322,1270.0 1323,1270.5 1324,1269.9 1325,1269.3 1326,1269.4 1327,1269.9 1328,1269.7 1329,1269.4 1330,1270.0 1331,1270.0 1332,1269.6 1333,1270.1 1334,1269.5 1335,1269.2 1336,1269.8 1337,1269.8 1338,1269.0 1339,1269.2 1340,1270.2 1341,1270.2 1342,1269.7 1343,1269.3 1344,1269.1 1345,1269.5 1346,1269.1 1347,1268.7 1348,1269.1 1349,1269.3 1350,1269.3 1351,1269.3 1352,1269.7 1353,1269.6 1354,1269.2 1355,1269.0 1356,1268.7 1357,1268.9 1358,1269.8 1359,1270.2 1360,1269.0 1361,1269.1 1362,1269.5 1363,1268.6 1364,1268.6 1365,1268.7 1366,1268.3 1367,1268.3 1368,1268.3 1369,1267.9 1370,1268.2 1371,1269.1 1372,1268.6 1373,1268.0 1374,1268.0 1375,1267.8 1376,1267.4 1377,1267.4 1378,1267.5 1379,1266.9 1380,1266.5 1381,1266.4 1382,1265.6 1383,1265.1 1384,1264.3 1385,1263.5 1386,1263.7 1387,1263.6 1388,1263.3 1389,1263.1 1390,1261.9 1391,1261.0 1392,1260.3 1393,1259.7 1394,1259.5 1395,1259.2 1396,1258.9 1397,1258.5 1398,1258.1 1399,1257.9 1400,1258.4 1401,1258.7 1402,1258.5 1403,1258.0 1404,1257.9 1405,1258.7 1406,1259.8 1407,1260.4 1408,1260.9 1409,1261.1 1410,1261.1 1411,1262.1 1412,1263.3 1413,1263.9 1414,1263.8 1415,1264.1 1416,1265.2 1417,1265.2 1418,1265.1 1419,1265.5 1420,1265.9 1421,1266.5 1422,1266.9 1423,1267.5 1424,1268.0 1425,1267.7 1426,1267.8 1427,1267.9 1428,1267.4 1429,1267.8 1430,1268.4 1431,1268.8 1432,1269.0 1433,1269.1 1434,1269.4 1435,1268.7 1436,1269.0 1437,1269.3 1438,1268.9 1439,1268.7 1440,1268.6 1441,1269.7 1442,1270.0 1443,1268.2 1444,1268.7 1445,1269.8 1446,1269.1 1447,1269.3 1448,1269.6 1449,1269.2 1450,1269.6 1451,1270.0 1452,1269.9 1453,1269.8 1454,1269.4 1455,1269.4 1456,1269.2 1457,1268.9 1458,1269.4 1459,1269.7 1460,1269.6 1461,1269.6 1462,1269.3 1463,1269.7 1464,1269.6 1465,1269.1 1466,1269.2 1467,1269.8 1468,1270.1 1469,1269.5 1470,1268.9 1471,1269.1 1472,1269.1 1473,1269.2 1474,1269.8 1475,1269.7 1476,1268.9 1477,1268.5 1478,1268.5 1479,1268.9 1480,1269.5 1481,1269.2 1482,1269.2 1483,1269.8 1484,1270.5 1485,1270.0 1486,1269.3 1487,1269.8 1488,1269.9 1489,1270.0 1490,1270.0 1491,1269.9 1492,1269.8 1493,1269.5 1494,1269.1 1495,1269.7 1496,1269.8 1497,1269.3 1498,1269.7 1499,1269.4 1500,1268.9 1501,1269.2 1502,1269.2 1503,1269.5 1504,1270.8 1505,1270.9 1506,1269.3 1507,1269.0 1508,1269.8 1509,1269.6 1510,1269.9 1511,1269.8 1512,1269.7 1513,1269.7 1514,1269.2 1515,1269.6 1516,1270.2 1517,1269.8 1518,1270.0 1519,1270.1 1520,1269.4 1521,1269.2 1522,1269.3 1523,1269.7 1524,1270.1 1525,1270.0 1526,1270.1 1527,1269.9 1528,1269.6 1529,1269.9 1530,1269.2 1531,1269.2 1532,1269.7 1533,1270.0 1534,1270.0 1535,1270.0 1536,1270.3 1537,1269.5 1538,1269.6 1539,1270.3 1540,1270.1 1541,1269.8 1542,1270.3 1543,1270.2 1544,1270.0 1545,1270.3 1546,1269.9 1547,1269.5 1548,1269.7 1549,1269.9 1550,1269.4 1551,1269.6 1552,1270.1 1553,1270.0 1554,1269.3 1555,1269.5 1556,1269.9 1557,1270.0 1558,1269.9 1559,1269.5 1560,1269.6 1561,1269.7 1562,1270.4 1563,1270.1 1564,1269.0 1565,1269.3 1566,1269.7 1567,1269.2 1568,1268.7 1569,1269.0 1570,1269.4 1571,1269.6 1572,1269.9 1573,1270.0 1574,1269.5 1575,1269.5 1576,1269.8 1577,1270.0 1578,1269.1 1579,1268.9 1580,1269.8 1581,1270.2 1582,1270.0 1583,1269.7 1584,1269.3 1585,1269.5 1586,1270.3 1587,1269.8 1588,1269.5 1589,1269.6 1590,1269.9 1591,1270.0 1592,1269.7 1593,1269.9 1594,1269.7 1595,1269.7 1596,1270.3 1597,1270.2 1598,1269.5 1599,1269.9 1600,1270.7 1601,1270.6 1602,1270.0 1603,1269.8 1604,1269.9 1605,1270.2 1606,1270.9 1607,1271.3 1608,1270.2 1609,1269.7 1610,1270.4 1611,1270.4 1612,1269.9 1613,1269.5 1614,1269.8 1615,1270.2 1616,1270.1 1617,1269.6 1618,1268.9 1619,1269.7 1620,1270.0 1621,1269.4 1622,1269.3 1623,1269.6 1624,1269.9 1625,1269.6 1626,1270.5 1627,1270.8 1628,1270.2 1629,1269.3 1630,1269.5 1631,1270.3 1632,1270.4 1633,1270.2 1634,1269.5 1635,1269.2 1636,1269.9 1637,1270.3 1638,1270.2 1639,1270.6 1640,1270.8 1641,1270.2 1642,1269.9 1643,1269.3 1644,1269.1 1645,1269.9 1646,1269.5 1647,1269.3 1648,1270.1 1649,1269.9 1650,1269.8 1651,1269.6 1652,1270.0 1653,1270.2 1654,1268.9 1655,1269.2 1656,1269.7 1657,1270.1 1658,1270.4 1659,1269.8 1660,1270.1 1661,1270.1 1662,1269.2 1663,1269.7 1664,1270.5 1665,1270.0 1666,1269.9 1667,1270.5 1668,1270.0 1669,1268.6 1670,1268.9 1671,1269.8 1672,1269.9 1673,1270.0 1674,1269.6 1675,1269.2 1676,1269.0 1677,1269.1 1678,1269.2 1679,1269.6 1680,1270.1 1681,1269.7 1682,1269.8 1683,1269.9 1684,1269.4 1685,1269.7 1686,1270.0 1687,1269.5 1688,1269.7 1689,1270.4 1690,1269.7 1691,1269.1 1692,1268.9 1693,1268.9 1694,1270.3 1695,1270.4 1696,1269.6 1697,1269.6 1698,1269.3 1699,1269.3 1700,1269.5 1701,1269.2 1702,1269.6 1703,1269.7 1704,1269.5 1705,1269.4 1706,1269.4 1707,1269.7 1708,1269.6 1709,1269.9 1710,1269.9 1711,1269.6 1712,1269.5 1713,1269.7 1714,1269.5 1715,1268.9 1716,1269.1 1717,1269.3 1718,1269.1 1719,1269.6 1720,1269.7 1721,1269.3 1722,1269.0 1723,1268.6 1724,1268.9 1725,1269.6 1726,1269.5 1727,1269.1 1728,1268.6 1729,1268.3 1730,1268.8 1731,1269.2 1732,1269.4 1733,1268.6 1734,1268.7 1735,1269.3 1736,1269.2 1737,1268.5 1738,1268.7 1739,1268.4 1740,1267.7 1741,1268.2 1742,1268.2 1743,1268.1 1744,1267.6 1745,1267.8 1746,1267.1 1747,1266.1 1748,1266.3 1749,1266.5 1750,1266.4 1751,1265.1 1752,1265.2 1753,1265.3 1754,1264.5 1755,1264.6 1756,1263.5 1757,1262.4 1758,1261.4 1759,1260.5 1760,1260.8 1761,1260.2 1762,1259.4 1763,1258.8 1764,1258.2 1765,1257.8 1766,1257.7 1767,1257.3 1768,1256.4 1769,1256.2 1770,1255.9 1770.3,1255.4 1771,1254.8 1772,1255.5 1773,1256.6 1774,1256.6 1775,1257.3 1776,1258.0 1777,1258.2 1778,1258.9 1779,1259.8 1780,1260.5 1781,1261.4 1782,1261.9 1783,1262.4 1784,1262.9 1785,1262.9 1786,1263.5 1787,1264.3 1788,1264.6 1789,1265.0 1790,1265.8 1791,1265.9 1792,1266.2 1793,1266.8 1794,1267.1 1795,1267.7 1796,1267.6 1797,1268.1 1798,1268.5 1799,1268.5 1800,1268.8 1801,1269.0 1802,1269.1 1803,1268.5 1804,1268.2 1805,1268.2 1806,1268.9 1807,1269.2 1808,1269.0 1809,1269.0 1810,1269.0 1811,1269.3 1812,1269.4 1813,1268.9 1814,1269.3 1815,1269.5 1816,1269.2 1817,1269.3 1818,1269.2 1819,1269.0 1820,1268.8 1821,1269.3 1822,1269.2 1823,1269.0 1824,1268.9 1825,1268.5 1826,1269.3 1827,1269.7 1828,1269.6 1829,1269.7 1830,1269.4 1831,1269.7 1832,1269.8 1833,1269.9 1834,1270.1 1835,1269.5 1836,1268.9 1837,1269.6 1838,1270.3 1839,1269.7 1840,1269.7 1841,1269.5 1842,1268.7 1843,1269.5 1844,1269.8 1845,1269.1 1846,1268.9 1847,1269.6 1848,1270.5 1849,1270.0 1850,1270.0 1851,1269.8 1852,1268.4 1853,1268.7 1854,1269.9 1855,1270.0 1856,1269.5 1857,1269.7 1858,1269.8 1859,1269.6 1860,1269.4 1861,1269.5 1862,1269.6 1863,1269.2 1864,1270.0 1865,1270.2 1866,1270.2 1867,1269.7 1868,1269.2 1869,1269.7 1870,1270.0 1871,1270.3 1872,1270.3 1873,1270.2 1874,1270.0 1875,1270.0 1876,1270.3 1877,1270.1 1878,1270.1 1879,1270.0 1880,1269.7 1881,1269.4 1882,1269.3 1883,1269.7 1884,1269.2 1885,1269.2 1886,1269.7 1887,1269.8 1888,1269.6 1889,1269.4 1890,1269.3 1891,1269.1 1892,1269.6 1893,1270.3 1894,1270.3 1895,1269.8 1896,1269.3 1897,1269.4 1898,1269.5 1899,1269.6 1900,1270.1 1901,1270.1 1902,1269.1 1903,1268.5 1904,1269.0 1905,1269.2 1906,1269.4 1907,1269.4 1908,1269.6 1909,1270.0 1910,1269.7 1911,1269.1 1912,1269.2 1913,1269.6 1914,1269.6 1915,1269.2 1916,1269.3 1917,1269.8 1918,1269.7 1919,1269.3 1920,1269.4 1921,1269.7 1922,1269.6 1923,1269.7 1924,1269.2 1925,1269.0 1926,1269.6 1927,1269.6 1928,1269.5 1929,1269.1 1930,1268.6 1931,1268.8 1932,1268.4 1933,1268.8 1934,1269.2 1935,1269.5 1936,1269.4 1937,1268.8 1938,1268.6 1939,1268.2 1940,1268.6 1941,1269.2 1942,1268.6 1943,1268.6 1944,1268.8 1945,1268.3 1946,1268.4 1947,1269.0 1948,1268.7 1949,1268.1 1950,1268.2 1951,1268.0 1952,1268.0 1953,1267.9 1954,1267.5 1955,1266.9 1956,1266.6 1957,1266.5 1958,1266.9 1959,1266.9 1960,1266.2 1961,1266.2 1962,1265.8 1963,1265.3 1964,1265.3 1965,1265.4 1966,1265.0 1967,1264.3 1968,1263.5 1969,1263.0 1970,1262.9 1971,1263.0 1972,1262.5 1973,1261.3 1974,1260.6 1975,1260.3 1976,1260.2 1977,1260.3 1978,1260.2 1979,1259.7 1980,1259.3 1981,1258.5 1982,1259.4 1983,1260.5 1984,1260.0 1985,1259.8 1986,1259.6 1987,1260.0 1988,1261.4 1989,1261.2 1990,1260.8 1991,1261.4 1992,1261.5 1993,1261.5 1994,1262.0 1995,1262.1 1996,1262.5 1997,1262.6 1998,1262.7 1999,1263.1 2000,1263.4 2001,1263.3 2002,1262.7 2003,1262.7 2004,1263.0 2005,1263.2 2006,1263.0 2007,1262.5 2008,1262.1 2009,1261.4 2010,1260.7 2011,1259.7 2012,1258.7 2013,1258.0 2014,1257.8 2015,1258.4 2016,1257.6 2017,1257.1 2018,1257.8 2019,1257.5 2019.3,1257.2 2020,1257.2 2021,1257.0 2022,1257.2 2023,1257.8 2024,1258.8 2025,1259.8 2026,1260.1 2027,1261.1 2028,1262.1 2029,1262.3 2030,1263.0 2031,1264.4 2032,1265.3 2033,1265.2 2034,1265.5 2035,1266.3 2036,1266.9 2037,1267.9 2038,1267.0 2039,1267.0 2040,1267.6 2041,1267.6 2042,1268.6 2043,1269.2 2044,1268.7 2045,1268.9 2046,1269.0 2047,1268.6 2048,1268.5 2049,1268.4 2050,1268.4 2051,1268.9 2052,1269.0 2053,1269.2 2054,1269.2 2055,1269.3 2056,1269.8 2057,1269.5 2058,1269.4 2059,1269.9 2060,1270.3 2061,1269.8 2062,1269.3 2063,1269.7 2064,1270.7 2065,1270.6 2066,1269.4 2067,1268.9 2068,1269.2 2069,1269.5 2070,1269.1 2071,1268.5 2072,1269.0 2073,1269.5 2074,1269.5 2075,1269.1 2076,1268.9 2077,1269.7 2078,1269.8 2079,1269.2 2080,1269.5 2081,1269.7 2082,1269.8 2083,1270.0 2084,1269.7 2085,1269.5 2086,1269.9 2087,1269.8 2088,1269.7 2089,1270.2 2090,1269.9 2091,1269.4 2092,1269.5 2093,1269.3 2094,1269.4 2095,1269.6 2096,1269.3 2097,1269.1 2098,1269.7 2099,1270.5 2100,1270.2 2101,1270.0 2102,1270.1 2103,1270.2 2104,1270.7 2105,1271.2 2106,1270.7 2107,1270.3 2108,1269.9 2109,1269.9 2110,1270.5 2111,1269.9 2112,1269.4 2113,1269.3 2114,1269.4 2115,1269.7 2116,1269.3 2117,1268.9 2118,1269.2 2119,1269.2 2120,1269.6 2121,1269.8 2122,1269.4 2123,1269.6 2124,1270.0 2125,1269.6 2126,1269.8 2127,1270.2 2128,1270.1 2129,1270.6 2130,1270.3 2131,1269.8 2132,1269.4 2133,1269.5 2134,1269.7 2135,1269.3 2136,1269.6 2137,1269.9 2138,1269.8 2139,1269.8 2140,1269.7 2141,1269.2 2142,1269.8 2143,1270.2 2144,1269.8 2145,1269.5 2146,1269.2 2147,1269.8 2148,1269.9 2149,1269.5 2150,1269.5 2151,1269.8 2152,1269.8 2153,1269.4 2154,1269.9 2155,1270.2 2156,1270.4 2157,1270.6 2158,1269.6 2159,1269.1 2160,1269.3 2161,1269.8 2162,1269.6 2163,1269.9 2164,1270.2 2165,1269.9 2166,1270.4 2167,1269.9 2168,1269.4 2169,1269.8 2170,1270.3 2171,1270.5 2172,1270.1 2173,1270.1 2174,1270.2 2175,1270.1 2176,1269.8 2177,1270.1 2178,1270.4 2179,1269.7 2180,1269.8 2181,1270.0 2182,1270.3 2183,1270.0 2184,1269.2 2185,1270.1 2186,1270.4 2187,1270.1 2188,1270.1 2189,1269.4 2190,1269.9 2191,1269.8 2192,1268.7 2193,1269.4 2194,1270.4 2195,1270.4"/>
<polyline fill="none" stroke="#555555" stroke-width="6.8" stroke-linejoin="round" stroke-linecap="round" points="213,1552.7 214,1553.0 215,1553.7 216,1553.9 217,1554.3 218,1553.7 219,1553.1 220,1553.1 221,1552.3 222,1552.1 223,1552.9 224,1552.8 225,1552.6 226,1553.6 227,1553.9 228,1553.7 229,1553.6 230,1553.3 231,1552.3 232,1552.9 233,1553.0 234,1552.7 235,1553.3 236,1553.3 237,1553.5 238,1553.3 239,1553.6 240,1553.2 241,1553.2 242,1553.0 243,1553.2 244,1553.7 245,1553.4 246,1554.3 247,1553.2 248,1552.4 249,1553.6 250,1554.2 251,1554.6 252,1554.4 253,1554.1 254,1553.9 255,1553.8 256,1553.8 257,1554.1 258,1554.2 259,1554.0 260,1554.7 261,1554.9 262,1554.1 263,1553.5 264,1554.0 265,1553.8 266,1552.7 267,1552.5 268,1553.6 269,1554.0 270,1553.6 271,1554.0 272,1553.7 273,1554.4 274,1554.9 275,1553.8 276,1554.7 277,1554.3 278,1553.2 279,1553.7 280,1553.5 281,1553.4 282,1554.1 283,1554.3 284,1554.1 285,1554.5 286,1555.3 287,1555.6 288,1553.8 289,1553.8 290,1555.1 291,1554.7 292,1553.9 293,1553.5 294,1553.9 295,1553.4 296,1554.1 297,1555.1 298,1554.6 299,1553.8 300,1554.4 301,1555.1 302,1555.0 303,1554.5 304,1555.1 305,1555.3 306,1555.1 307,1554.2 308,1553.5 309,1554.4 310,1553.2 311,1552.8 312,1553.4 313,1553.1 314,1553.3 315,1553.4 316,1553.8 317,1554.6 318,1554.5 319,1553.9 320,1553.5 321,1554.6 322,1554.7 323,1553.9 324,1553.7 325,1553.9 326,1554.5 327,1554.5 328,1554.2 329,1554.1 330,1553.7 331,1553.5 332,1553.0 333,1552.5 334,1553.1 335,1552.3 336,1552.0 337,1552.1 338,1550.7 339,1549.2 340,1548.2 341,1547.5 342,1547.0 343,1545.8 344,1543.8 345,1540.9 346,1533.6 347,1519.6 348,1496.7 349,1459.1 350,1407.0 351,1354.7 351.8,1337.4 352,1338.2 353,1373.8 354,1430.4 355,1477.7 356,1508.7 357,1527.4 358,1537.0 359,1541.2 360,1544.8 361,1547.1 362,1549.2 363,1549.8 364,1549.9 365,1550.9 366,1551.6 367,1552.8 368,1552.9 369,1552.0 370,1552.6 371,1553.3 372,1553.8 373,1554.5 374,1555.4 375,1555.7 376,1554.5 377,1554.5 378,1555.5 379,1555.5 380,1555.1 381,1555.0 382,1554.9 383,1554.7 384,1555.5 385,1556.2 386,1555.0 387,1555.4 388,1556.1 389,1555.7 390,1555.8 391,1556.3 392,1555.2 393,1554.7 394,1556.0 395,1556.0 396,1555.0 397,1554.5 398,1555.4 399,1556.6 400,1555.6 401,1554.7 402,1555.8 403,1556.2 404,1556.3 405,1556.7 406,1556.8 407,1555.7 408,1555.2 409,1555.4 410,1555.5 411,1556.7 412,1557.2 413,1557.6 414,1557.7 415,1557.2 416,1557.0 417,1556.3 418,1555.7 419,1556.3 420,1556.7 421,1556.7 422,1556.0 423,1555.2 424,1555.2 425,1556.5 426,1556.9 427,1556.5 428,1556.5 429,1556.1 430,1556.0 431,1555.9 432,1556.1 433,1556.6 434,1556.0 435,1555.6 436,1556.1 437,1555.9 438,1556.3 439,1557.2 440,1556.3 441,1555.7 442,1556.8 443,1557.1 444,1555.9 445,1555.7 446,1556.3 447,1555.9 448,1556.4 449,1556.1 450,1555.9 451,1556.7 452,1556.4 453,1555.5 454,1556.8 455,1556.8 456,1556.4 457,1556.6 458,1556.1 459,1556.1 460,1556.1 461,1556.4 462,1555.9 463,1555.7 464,1556.6 465,1556.4 466,1554.9 467,1555.4 468,1556.0 469,1556.1 470,1556.3 471,1555.8 472,1555.8 473,1556.3 474,1556.6 475,1555.9 476,1555.1 477,1555.1 478,1556.3 479,1556.9 480,1556.0 481,1555.8 482,1556.8 483,1556.4 484,1555.6 485,1556.5 486,1557.0 487,1556.9 488,1556.2 489,1555.9 490,1555.2 491,1555.1 492,1555.9 493,1555.8 494,1556.6 495,1556.8 496,1556.1 497,1556.5 498,1557.4 499,1556.8 500,1556.3 501,1556.5 502,1555.5 503,1555.4 504,1556.2 505,1556.4 506,1556.0 507,1556.1 508,1556.2 509,1556.1 510,1555.8 511,1556.2 512,1555.6 513,1555.4 514,1556.1 515,1556.4 516,1556.2 517,1554.8 518,1555.5 519,1557.0 520,1556.0 521,1555.7 522,1556.7 523,1556.1 524,1556.2 525,1556.3 526,1556.5 527,1557.4 528,1556.7 529,1556.1 530,1556.3 531,1555.6 532,1555.2 533,1556.1 534,1557.4 535,1558.0 536,1557.1 537,1556.1 538,1556.2 539,1556.6 540,1555.8 541,1555.7 542,1555.7 543,1555.6 544,1554.7 545,1555.6 546,1556.8 547,1555.7 548,1555.6 549,1555.4 550,1555.6 551,1556.9 552,1557.2 553,1556.4 554,1556.2 555,1556.4 556,1556.3 557,1556.0 558,1556.2 559,1556.6 560,1556.3 561,1556.3 562,1556.0 563,1555.1 564,1554.8 565,1555.7 566,1556.2 567,1556.1 568,1556.1 569,1555.9 570,1556.3 571,1555.9 572,1555.5 573,1556.8 574,1558.0 575,1557.4 576,1556.6 577,1556.3 578,1555.7 579,1556.3 580,1557.3 581,1557.2 582,1556.9 583,1556.4 584,1556.7 585,1557.1 586,1556.3 587,1556.7 588,1556.6 589,1555.7 590,1556.1 591,1556.1 592,1555.6 593,1556.3 594,1556.9 595,1556.4 596,1556.6 597,1556.8 598,1556.9 599,1557.2 600,1557.2 601,1556.4 602,1556.4 603,1556.9 604,1556.7 605,1556.7 606,1556.9 607,1556.8 608,1556.2 609,1556.5 610,1556.6 611,1555.8 612,1555.9 613,1556.2 614,1556.2 615,1556.2 616,1556.1 617,1555.8 618,1557.4 619,1557.3 620,1556.2 621,1556.7 622,1556.2 623,1555.9 624,1555.7 625,1555.4 626,1556.6 627,1556.7 628,1555.5 629,1556.4 630,1556.2 631,1556.4 632,1557.0 633,1557.0 634,1556.6 635,1555.7 636,1556.4 637,1556.5 638,1555.8 639,1556.4 640,1556.7 641,1555.9 642,1555.9 643,1556.4 644,1556.3 645,1557.1 646,1557.4 647,1556.4 648,1556.2 649,1556.6 650,1556.2 651,1555.6 652,1555.8 653,1555.8 654,1555.5 655,1554.3 656,1554.1 657,1555.2 658,1555.9 659,1555.3 660,1554.7 661,1554.8 662,1554.6 663,1555.2 664,1555.4 665,1554.8 666,1552.8 667,1550.4 668,1549.0 669,1544.9 670,1537.7 671,1527.3 672,1509.1 673,1490.6 673.8,1485.2 674,1485.4 675,1497.2 676,1514.6 677,1530.1 678,1540.7 679,1546.1 680,1549.6 681,1552.0 682,1552.7 683,1553.5 684,1554.5 685,1554.9 686,1555.4 687,1555.1 688,1556.2 689,1556.9 690,1556.4 691,1556.1 692,1555.8 693,1556.4 694,1556.1 695,1555.9 696,1557.0 697,1556.8 698,1556.3 699,1555.9 700,1555.9 701,1556.7 702,1556.6 703,1556.7 704,1556.6 705,1556.3 706,1556.9 707,1557.5 708,1557.1 709,1557.5 710,1557.4 711,1556.6 712,1556.9 713,1558.0 714,1557.5 715,1556.4 716,1556.4 717,1556.3 718,1555.9 719,1556.4 720,1557.3 721,1557.3 722,1557.0 723,1556.5 724,1556.6 725,1556.9 726,1556.3 727,1556.3 728,1556.1 729,1555.8 730,1555.8 731,1556.2 732,1556.2 733,1556.0 734,1555.5 735,1555.3 736,1556.0 737,1555.6 738,1554.6 739,1553.9 740,1553.7 741,1552.8 742,1550.6 743,1546.8 744,1541.4 745,1535.1 746,1527.6 747,1521.7 747.6,1521.1 748,1521.6 749,1526.4 750,1534.0 751,1541.6 752,1546.3 753,1549.9 754,1553.1 755,1553.7 756,1554.2 757,1554.9 758,1555.8 759,1556.3 760,1555.7 761,1554.1 762,1555.5 763,1557.3 764,1556.2 765,1555.1 766,1555.1 767,1555.2 768,1555.9 769,1556.4 770,1554.4 771,1553.2 772,1552.1 773,1550.0 774,1548.1 775,1546.3 776,1546.7 777,1549.5 778,1552.6 779,1554.9 780,1556.3 781,1556.3 782,1556.2 783,1556.7 784,1556.7 785,1557.1 786,1557.0 787,1556.7 788,1557.0 789,1557.0 790,1557.7 791,1557.7 792,1557.4 793,1557.4 794,1557.2 795,1557.7 796,1557.4 797,1556.7 798,1557.3 799,1557.5 800,1557.1 801,1556.7 802,1556.0 803,1556.0 804,1556.0 805,1555.8 806,1555.3 807,1552.4 808,1550.7 809,1550.4 810,1549.5 811,1550.0 812,1551.8 813,1553.7 814,1554.5 815,1555.3 816,1556.9 817,1556.6 818,1556.4 819,1556.1 820,1556.2 821,1557.8 822,1558.0 823,1556.9 824,1557.4 825,1558.2 826,1557.8 827,1557.3 828,1556.4 829,1556.6 830,1557.0 831,1557.5 832,1556.9 833,1556.7 834,1557.7 835,1558.0 836,1557.5 837,1556.7 838,1557.5 839,1557.9 840,1557.0 841,1556.8 842,1556.8 843,1556.8 844,1556.7 845,1556.6 846,1556.6 847,1556.1 848,1555.6 849,1555.5 850,1555.6 851,1555.2 852,1553.5 853,1551.4 854,1549.3 855,1544.3 856,1538.6 857,1534.7 857.6,1534.1 858,1535.1 859,1538.5 860,1543.1 861,1547.2 862,1549.9 863,1552.2 864,1554.1 865,1554.6 866,1555.0 867,1556.4 868,1556.8 869,1555.9 870,1555.3 871,1555.7 872,1556.1 873,1556.6 874,1556.7 875,1555.8 876,1556.0 877,1555.9 878,1555.9 879,1556.6 880,1556.8 881,1556.3 882,1555.2 883,1555.1 884,1555.2 885,1552.7 886,1547.6 887,1542.6 888,1537.3 889,1531.5 890,1529.3 891,1532.2 892,1537.3 893,1543.0 894,1547.8 895,1551.0 896,1554.3 897,1555.5 898,1555.4 899,1556.4 900,1556.7 901,1556.0 902,1556.4 903,1556.5 904,1556.4 905,1556.8 906,1556.4 907,1557.5 908,1557.8 909,1557.5 910,1557.7 911,1557.4 912,1558.0 913,1558.6 914,1558.1 915,1557.0 916,1557.3 917,1557.5 918,1556.7 919,1557.1 920,1557.6 921,1557.0 922,1556.9 923,1557.4 924,1556.8 925,1556.6 926,1557.0 927,1557.1 928,1556.9 929,1557.7 930,1557.9 931,1556.6 932,1556.3 933,1556.8 934,1557.2 935,1556.0 936,1555.9 937,1556.4 938,1555.7 939,1555.6 940,1555.7 941,1555.1 942,1554.9 943,1553.8 944,1552.5 945,1550.2 946,1545.4 947,1539.6 948,1532.4 949,1522.7 950,1513.2 950.8,1511.0 951,1512.4 952,1517.2 953,1526.9 954,1536.7 955,1543.5 956,1549.2 957,1552.5 958,1552.4 959,1553.1 960,1554.2 961,1554.5 962,1555.4 963,1555.6 964,1556.4 965,1556.6 966,1556.2 967,1556.2 968,1556.6 969,1557.2 970,1558.3 971,1557.6 972,1556.3 973,1556.3 974,1556.0 975,1556.3 976,1556.2 977,1555.3 978,1555.8 979,1556.8 980,1556.4 981,1555.9 982,1555.7 983,1554.6 984,1554.4 985,1554.3 986,1553.3 987,1553.1 988,1552.7 989,1551.7 990,1550.5 991,1548.2 992,1545.5 993,1542.8 994,1538.3 995,1529.8 996,1514.9 997,1486.8 998,1440.1 999,1375.4 1000,1308.2 1000.8,1284.8 1001,1287.4 1002,1333.2 1003,1403.3 1004,1462.0 1005,1500.0 1006,1522.0 1007,1533.4 1008,1540.1 1009,1545.2 1010,1547.9 1011,1548.9 1012,1551.1 1013,1552.1 1014,1551.5 1015,1553.0 1016,1554.3 1017,1554.1 1018,1553.8 1019,1554.4 1020,1554.9 1021,1554.9 1022,1554.6 1023,1553.9 1024,1554.7 1025,1555.4 1026,1554.2 1027,1553.7 1028,1552.4 1029,1549.1 1030,1546.9 1031,1542.3 1032,1532.8 1033,1521.8 1034,1511.7 1035,1507.1 1036,1511.3 1037,1521.6 1038,1533.4 1039,1542.4 1040,1547.8 1041,1550.6 1042,1552.8 1043,1554.5 1044,1555.8 1045,1557.3 1046,1557.2 1047,1556.4 1048,1557.3 1049,1557.3 1050,1555.9 1051,1557.0 1052,1557.6 1053,1557.6 1054,1557.2 1055,1557.0 1056,1557.2 1057,1557.2 1058,1558.4 1059,1559.0 1060,1558.9 1061,1559.2 1062,1559.0 1063,1558.1 1064,1557.5 1065,1558.3 1066,1558.1 1067,1558.4 1068,1559.8 1069,1559.8 1070,1559.6 1071,1560.1 1072,1559.6 1073,1558.8 1074,1559.3 1075,1558.5 1076,1557.9 1077,1558.0 1078,1557.9 1079,1557.7 1080,1557.3 1081,1557.9 1082,1559.3 1083,1559.2 1084,1558.9 1085,1559.2 1086,1559.0 1087,1559.1 1088,1558.9 1089,1557.9 1090,1558.0 1091,1557.2 1092,1557.0 1093,1558.3 1094,1559.0 1095,1558.3 1096,1557.1 1097,1557.8 1098,1558.3 1099,1558.2 1100,1557.8 1101,1556.7 1102,1555.3 1103,1552.8 1104,1549.4 1105,1544.9 1106,1538.1 1107,1527.7 1108,1514.8 1109,1505.8 1109.7,1503.2 1110,1502.9 1111,1510.7 1112,1522.6 1113,1535.4 1114,1544.5 1115,1549.0 1116,1552.7 1117,1554.8 1118,1556.1 1119,1557.3 1120,1556.9 1121,1557.3 1122,1557.4 1123,1557.0 1124,1557.5 1125,1558.1 1126,1558.3 1127,1558.8 1128,1559.1 1129,1559.2 1130,1559.0 1131,1558.5 1132,1559.0 1133,1559.0 1134,1558.9 1135,1558.8 1136,1558.7 1137,1558.8 1138,1558.8 1139,1559.7 1140,1559.5 1141,1558.7 1142,1558.4 1143,1558.3 1144,1558.5 1145,1558.1 1146,1558.0 1147,1557.9 1148,1557.4 1149,1557.7 1150,1557.0 1151,1555.6 1152,1554.3 1153,1552.1 1154,1547.2 1155,1539.7 1156,1531.9 1157,1523.3 1158,1516.9 1158.4,1516.3 1159,1517.1 1160,1524.4 1161,1534.8 1162,1543.5 1163,1547.9 1164,1551.6 1165,1555.2 1166,1556.8 1167,1557.9 1168,1558.5 1169,1558.4 1170,1557.6 1171,1557.9 1172,1558.4 1173,1558.7 1174,1558.7 1175,1558.2 1176,1558.3 1177,1558.5 1178,1559.1 1179,1558.6 1180,1558.2 1181,1557.8 1182,1554.8 1183,1551.1 1184,1547.6 1185,1542.4 1186,1534.4 1187,1527.5 1188,1524.5 1189,1527.9 1190,1535.6 1191,1542.7 1192,1548.1 1193,1552.4 1194,1555.0 1195,1556.2 1196,1557.8 1197,1558.9 1198,1559.3 1199,1558.8 1200,1559.5 1201,1560.3 1202,1560.2 1203,1560.5 1204,1560.7 1205,1560.8 1206,1560.2 1207,1559.9 1208,1561.2 1209,1560.5 1210,1559.6 1211,1560.1 1212,1560.5 1213,1561.0 1214,1560.2 1215,1560.2 1216,1560.7 1217,1560.3 1218,1560.3 1219,1560.1 1220,1560.3 1221,1561.0 1222,1561.1 1223,1560.4 1224,1559.7 1225,1560.1 1226,1560.6 1227,1560.4 1228,1560.1 1229,1560.2 1230,1560.3 1231,1560.5 1232,1561.5 1233,1560.7 1234,1560.3 1235,1560.6 1236,1560.7 1237,1561.8 1238,1560.6 1239,1558.8 1240,1558.6 1241,1559.9 1242,1561.3 1243,1560.5 1244,1559.8 1245,1559.8 1246,1559.8 1247,1558.8 1248,1558.7 1249,1559.4 1250,1559.9 1251,1560.3 1252,1559.4 1253,1560.0 1254,1560.0 1255,1559.3 1256,1559.9 1257,1559.8 1258,1559.0 1259,1559.3 1260,1558.9 1261,1558.0 1262,1558.9 1263,1558.5 1264,1558.7 1265,1559.6 1266,1558.4 1267,1557.0 1268,1555.8 1269,1554.8 1270,1552.9 1271,1550.6 1272,1548.2 1273,1544.7 1274,1541.9 1275,1540.9 1276,1540.0 1277,1539.5 1278,1541.1 1279,1543.4 1280,1546.0 1281,1547.2 1282,1549.2 1283,1551.8 1284,1551.7 1285,1550.5 1286,1546.9 1287,1541.4 1288,1534.0 1289,1521.5 1290,1507.3 1291,1496.1 1291.6,1492.5 1292,1494.4 1293,1504.2 1294,1517.4 1295,1531.4 1296,1542.1 1297,1548.7 1298,1551.5 1299,1553.2 1300,1554.9 1301,1557.1 1302,1558.8 1303,1558.3 1304,1557.9 1305,1557.5 1306,1558.4 1307,1559.2 1308,1558.9 1309,1558.9 1310,1558.1 1311,1557.9 1312,1559.0 1313,1559.8 1314,1560.4 1315,1560.1 1316,1559.0 1317,1558.2 1318,1557.9 1319,1559.1 1320,1560.0 1321,1559.2 1322,1558.5 1323,1558.6 1324,1557.9 1325,1556.5 1326,1553.8 1327,1549.4 1328,1544.9 1329,1539.4 1330,1534.6 1330.8,1533.1 1331,1533.8 1332,1536.1 1333,1541.3 1334,1547.8 1335,1551.9 1336,1554.7 1337,1556.4 1338,1557.1 1339,1557.6 1340,1559.4 1341,1560.6 1342,1560.4 1343,1560.1 1344,1559.4 1345,1560.2 1346,1560.3 1347,1559.4 1348,1559.7 1349,1559.2 1350,1558.7 1351,1559.2 1352,1559.3 1353,1559.5 1354,1561.0 1355,1560.6 1356,1559.6 1357,1560.2 1358,1560.7 1359,1561.1 1360,1561.1 1361,1560.6 1362,1559.7 1363,1559.8 1364,1560.2 1365,1559.8 1366,1559.0 1367,1559.1 1368,1560.5 1369,1560.6 1370,1560.3 1371,1560.2 1372,1559.1 1373,1559.7 1374,1560.1 1375,1560.1 1376,1559.6 1377,1558.6 1378,1559.7 1379,1559.5 1380,1558.6 1381,1559.3 1382,1559.7 1383,1560.0 1384,1559.5 1385,1557.7 1386,1556.9 1387,1554.7 1388,1552.3 1389,1549.9 1390,1547.0 1391,1544.7 1392,1542.2 1392.4,1542.8 1393,1544.2 1394,1545.1 1395,1547.1 1396,1549.8 1397,1552.5 1398,1554.8 1399,1556.5 1400,1557.5 1401,1558.0 1402,1559.3 1403,1560.6 1404,1560.8 1405,1560.1 1406,1559.5 1407,1559.9 1408,1559.6 1409,1559.2 1410,1559.2 1411,1559.4 1412,1559.6 1413,1559.1 1414,1559.8 1415,1560.5 1416,1560.5 1417,1560.8 1418,1561.2 1419,1561.5 1420,1560.4 1421,1560.1 1422,1560.6 1423,1560.3 1424,1559.8 1425,1559.7 1426,1559.9 1427,1559.9 1428,1560.2 1429,1558.9 1430,1558.2 1431,1558.9 1432,1559.6 1433,1560.3 1434,1560.0 1435,1560.0 1436,1560.0 1437,1560.0 1438,1559.5 1439,1558.6 1440,1559.7 1441,1560.2 1442,1559.3 1443,1559.4 1444,1559.5 1445,1559.0 1446,1558.4 1447,1559.3 1448,1559.6 1449,1558.9 1450,1557.7 1451,1557.0 1452,1558.3 1453,1559.0 1454,1558.3 1455,1558.5 1456,1558.9 1457,1557.7 1458,1557.7 1459,1558.2 1460,1557.5 1461,1557.8 1462,1558.8 1463,1558.4 1464,1557.8 1465,1557.8 1466,1557.5 1467,1557.1 1468,1556.8 1469,1556.3 1470,1556.9 1471,1557.7 1472,1557.4 1473,1557.1 1474,1557.3 1475,1557.7 1476,1556.6 1477,1556.8 1478,1557.4 1479,1556.4 1480,1556.8 1481,1557.2 1482,1556.6 1483,1556.9 1484,1557.3 1485,1556.1 1486,1556.1 1487,1556.6 1488,1556.6 1489,1556.7 1490,1557.0 1491,1557.5 1492,1556.8 1493,1557.2 1494,1557.6 1495,1556.6 1496,1556.8 1497,1556.6 1498,1556.1 1499,1556.2 1500,1556.8 1501,1557.9 1502,1557.3 1503,1556.2 1504,1556.4 1505,1557.2 1506,1557.2 1507,1556.8 1508,1556.6 1509,1557.4 1510,1556.8 1511,1555.8 1512,1556.3 1513,1556.4 1514,1557.3 1515,1558.1 1516,1557.0 1517,1555.9 1518,1556.1 1519,1556.0 1520,1556.1 1521,1556.1 1522,1555.9 1523,1556.9 1524,1557.4 1525,1557.2 1526,1557.2 1527,1556.6 1528,1556.1 1529,1556.5 1530,1557.0 1531,1556.4 1532,1556.3 1533,1557.3 1534,1556.6 1535,1556.1 1536,1556.9 1537,1556.5 1538,1555.5 1539,1555.1 1540,1555.2 1541,1554.7 1542,1553.3 1543,1552.4 1544,1553.2 1545,1552.5 1546,1551.5 1547,1552.2 1548,1551.8 1549,1552.5 1550,1553.9 1551,1553.1 1552,1553.7 1553,1554.8 1554,1555.2 1555,1554.4 1556,1552.2 1557,1550.6 1558,1548.1 1559,1544.3 1560,1541.3 1561,1538.6 1561.4,1537.8 1562,1538.4 1563,1541.2 1564,1545.4 1565,1549.1 1566,1551.9 1567,1555.5 1568,1557.6 1569,1558.3 1570,1558.7 1571,1559.0 1572,1558.8 1573,1558.8 1574,1559.2 1575,1559.2 1576,1559.9 1577,1560.2 1578,1558.9 1579,1558.7 1580,1560.3 1581,1560.2 1582,1559.3 1583,1559.4 1584,1560.4 1585,1560.9 1586,1560.8 1587,1560.6 1588,1560.2 1589,1559.1 1590,1559.2 1591,1560.6 1592,1560.9 1593,1561.4 1594,1561.3 1595,1560.0 1596,1559.0 1597,1559.6 1598,1560.9 1599,1560.5 1600,1560.7 1601,1561.0 1602,1560.1 1603,1560.3 1604,1561.2 1605,1560.7 1606,1560.2 1607,1559.1 1608,1559.1 1609,1560.5 1610,1560.5 1611,1560.3 1612,1560.3 1613,1559.6 1614,1560.1 1615,1560.9 1616,1560.7 1617,1559.8 1618,1559.7 1619,1561.0 1620,1560.5 1621,1560.6 1622,1560.6 1623,1560.8 1624,1560.7 1625,1559.7 1626,1560.3 1627,1560.7 1628,1558.9 1629,1559.2 1630,1560.4 1631,1559.8 1632,1561.2 1633,1561.2 1634,1559.8 1635,1560.8 1636,1561.8 1637,1561.1 1638,1561.4 1639,1561.5 1640,1561.1 1641,1560.8 1642,1560.6 1643,1560.6 1644,1559.4 1645,1560.4 1646,1560.9 1647,1559.2 1648,1559.3 1649,1559.9 1650,1559.3 1651,1558.8 1652,1559.1 1653,1559.2 1654,1559.4 1655,1559.6 1656,1559.5 1657,1559.0 1658,1558.8 1659,1558.3 1660,1557.0 1661,1556.2 1662,1556.6 1663,1555.6 1664,1553.3 1665,1552.3 1666,1549.1 1667,1542.0 1668,1530.0 1669,1510.5 1670,1484.6 1671,1461.4 1671.6,1457.1 1672,1459.0 1673,1479.5 1674,1505.7 1675,1526.8 1676,1541.0 1677,1547.6 1678,1551.1 1679,1553.4 1680,1553.6 1681,1554.0 1682,1555.3 1683,1555.8 1684,1555.5 1685,1554.7 1686,1553.6 1687,1551.3 1688,1547.9 1689,1545.8 1690,1545.0 1691,1545.3 1692,1547.9 1693,1551.8 1694,1554.4 1695,1555.6 1696,1557.5 1697,1558.7 1698,1558.0 1699,1559.3 1700,1560.2 1701,1558.4 1702,1558.0 1703,1558.3 1704,1557.9 1705,1556.7 1706,1556.3 1707,1555.3 1708,1553.7 1709,1553.4 1710,1554.6 1711,1556.3 1712,1556.6 1713,1557.2 1714,1558.5 1715,1558.7 1716,1558.6 1717,1559.8 1718,1559.9 1719,1559.7 1720,1560.4 1721,1560.6 1722,1560.5 1723,1560.0 1724,1559.6 1725,1560.0 1726,1560.8 1727,1560.1 1728,1560.0 1729,1560.5 1730,1558.9 1731,1558.6 1732,1559.9 1733,1559.7 1734,1560.2 1735,1560.7 1736,1560.2 1737,1561.2 1738,1561.2 1739,1561.2 1740,1561.5 1741,1560.7 1742,1561.2 1743,1560.3 1744,1559.4 1745,1559.7 1746,1559.8 1747,1559.4 1748,1559.3 1749,1560.0 1750,1560.6 1751,1561.8 1752,1560.9 1753,1559.5 1754,1560.6 1755,1561.6 1756,1561.5 1757,1560.4 1758,1560.7 1759,1560.9 1760,1560.7 1761,1561.2 1762,1561.1 1763,1561.0 1764,1560.6 1765,1560.9 1766,1560.9 1767,1560.5 1768,1561.4 1769,1561.0 1770,1560.6 1771,1561.1 1772,1560.8 1773,1560.8 1774,1561.0 1775,1560.0 1776,1559.8 1777,1560.3 1778,1561.0 1779,1560.9 1780,1560.9 1781,1561.6 1782,1561.0 1783,1561.2 1784,1560.7 1785,1560.4 1786,1560.9 1787,1560.6 1788,1560.7 1789,1561.5 1790,1561.7 1791,1560.6 1792,1560.6 1793,1561.6 1794,1561.1 1795,1559.8 1796,1560.1 1797,1561.0 1798,1561.3 1799,1562.4 1800,1561.4 1801,1560.0 1802,1560.5 1803,1559.8 1804,1560.0 1805,1560.4 1806,1561.1 1807,1562.0 1808,1561.9 1809,1561.5 1810,1561.0 1811,1561.3 1812,1562.2 1813,1562.4 1814,1561.7 1815,1561.3 1816,1560.5 1817,1560.3 1818,1560.0 1819,1560.0 1820,1560.8 1821,1561.1 1822,1561.9 1823,1561.6 1824,1560.4 1825,1560.2 1826,1560.2 1827,1559.6 1828,1559.3 1829,1559.9 1830,1560.3 1831,1560.9 1832,1561.8 1833,1561.1 1834,1560.9 1835,1561.4 1836,1561.2 1837,1560.8 1838,1561.6 1839,1562.7 1840,1562.4 1841,1561.6 1842,1561.5 1843,1562.4 1844,1561.6 1845,1560.6 1846,1561.1 1847,1561.1 1848,1561.6 1849,1562.3 1850,1562.1 1851,1561.3 1852,1560.7 1853,1560.4 1854,1561.3 1855,1562.7 1856,1562.5 1857,1561.8 1858,1561.5 1859,1561.0 1860,1560.7 1861,1560.9 1862,1561.3 1863,1562.0 1864,1562.0 1865,1561.3 1866,1560.5 1867,1561.4 1868,1562.4 1869,1561.2 1870,1561.1 1871,1562.0 1872,1562.2 1873,1561.9 1874,1561.9 1875,1562.0 1876,1561.2 1877,1561.1 1878,1561.7 1879,1561.6 1880,1561.3 1881,1561.1 1882,1560.7 1883,1560.1 1884,1560.3 1885,1561.1 1886,1561.3 1887,1561.6 1888,1560.1 1889,1559.4 1890,1561.5 1891,1560.9 1892,1560.5 1893,1561.4 1894,1560.5 1895,1559.7 1896,1560.9 1897,1561.1 1898,1561.5 1899,1562.2 1900,1561.7 1901,1561.0 1902,1560.4 1903,1561.2 1904,1562.0 1905,1561.1 1906,1560.3 1907,1561.1 1908,1561.1 1909,1562.0 1910,1561.2 1911,1560.4 1912,1560.2 1913,1560.1 1914,1560.5 1915,1560.5 1916,1561.5 1917,1562.3 1918,1562.0 1919,1561.1 1920,1560.6 1921,1559.8 1922,1559.9 1923,1560.7 1924,1560.9 1925,1561.2 1926,1560.7 1927,1559.6 1928,1560.2 1929,1559.8 1930,1558.5 1931,1558.9 1932,1559.4 1933,1559.2 1934,1558.3 1935,1556.9 1936,1555.3 1937,1554.5 1937.4,1554.3 1938,1553.5 1939,1554.1 1940,1556.3 1941,1557.8 1942,1558.3 1943,1558.9 1944,1560.2 1945,1560.9 1946,1560.1 1947,1560.2 1948,1561.0 1949,1560.6 1950,1560.1 1951,1560.8 1952,1560.5 1953,1560.3 1954,1560.8 1955,1560.6 1956,1560.2 1957,1559.8 1958,1560.0 1959,1560.0 1960,1559.7 1961,1560.0 1962,1560.2 1963,1560.0 1964,1560.7 1965,1560.0 1966,1559.8 1967,1560.1 1968,1560.0 1969,1560.8 1970,1560.7 1971,1560.5 1972,1560.4 1973,1560.9 1974,1560.3 1975,1559.3 1976,1559.9 1977,1559.7 1978,1559.7 1979,1560.5 1980,1560.1 1981,1559.7 1982,1560.1 1983,1560.2 1984,1558.9 1985,1559.1 1986,1560.3 1987,1559.7 1988,1560.0 1989,1560.2 1990,1559.8 1991,1560.5 1992,1560.5 1993,1560.6 1994,1560.9 1995,1559.5 1996,1558.3 1997,1559.4 1998,1561.2 1999,1561.4 2000,1560.6 2001,1559.4 2002,1559.1 2003,1559.4 2004,1560.1 2005,1560.0 2006,1558.9 2007,1558.9 2008,1558.7 2009,1557.1 2010,1557.9 2011,1559.4 2012,1558.4 2013,1558.3 2014,1558.3 2015,1557.5 2016,1556.6 2017,1556.0 2018,1555.0 2019,1553.5 2020,1551.2 2021,1548.8 2022,1548.0 2023,1546.7 2024,1544.6 2024.8,1544.3 2025,1544.5 2026,1544.4 2027,1546.2 2028,1548.4 2029,1549.7 2030,1551.3 2031,1553.0 2032,1553.9 2033,1554.3 2034,1554.7 2035,1555.2 2036,1555.2 2037,1554.1 2038,1551.9 2039,1549.3 2040,1546.4 2041,1541.9 2042,1538.0 2043,1536.2 2043.8,1534.5 2044,1533.7 2045,1536.8 2046,1541.0 2047,1544.7 2048,1548.3 2049,1551.0 2050,1552.7 2051,1554.6 2052,1556.1 2053,1556.9 2054,1557.0 2055,1557.5 2056,1558.0 2057,1557.0 2058,1556.9 2059,1558.2 2060,1557.6 2061,1557.3 2062,1558.3 2063,1557.7 2064,1558.6 2065,1560.1 2066,1558.7 2067,1558.2 2068,1558.4 2069,1557.7 2070,1558.0 2071,1558.0 2072,1558.2 2073,1558.4 2074,1558.1 2075,1558.0 2076,1557.8 2077,1558.5 2078,1559.0 2079,1559.4 2080,1559.7 2081,1558.7 2082,1558.1 2083,1558.6 2084,1558.9 2085,1558.3 2086,1558.5 2087,1558.9 2088,1558.6 2089,1558.5 2090,1559.1 2091,1560.1 2092,1561.0 2093,1560.7 2094,1559.7 2095,1558.8 2096,1557.9 2097,1559.4 2098,1559.0 2099,1558.0 2100,1559.1 2101,1559.2 2102,1559.7 2103,1559.1 2104,1558.0 2105,1558.2 2106,1558.7 2107,1559.9 2108,1559.2 2109,1558.6 2110,1559.7 2111,1559.3 2112,1559.1 2113,1560.0 2114,1559.9 2115,1558.9 2116,1559.2 2117,1559.5 2118,1558.8 2119,1559.0 2120,1559.3 2121,1559.1 2122,1558.2 2123,1558.1 2124,1558.3 2125,1559.0 2126,1559.2 2127,1558.4 2128,1558.3 2129,1559.0 2130,1559.5 2131,1559.4 2132,1559.7 2133,1559.6 2134,1560.0 2135,1560.4 2136,1560.1 2137,1558.8 2138,1558.7 2139,1559.4 2140,1559.0 2141,1559.6 2142,1559.4 2143,1558.6 2144,1559.0 2145,1559.5 2146,1559.1 2147,1558.9 2148,1559.5 2149,1560.2 2150,1559.9 2151,1559.0 2152,1558.2 2153,1558.6 2154,1558.8 2155,1558.2 2156,1558.7 2157,1558.7 2158,1557.9 2159,1558.1 2160,1558.6 2161,1559.6 2162,1559.1 2163,1558.7 2164,1559.3 2165,1558.4 2166,1558.8 2167,1559.1 2168,1557.7 2169,1557.2 2170,1557.0 2171,1557.2 2172,1557.8 2173,1557.6 2174,1557.9 2175,1557.8 2176,1557.2 2177,1558.3 2178,1559.7 2179,1559.9 2180,1560.0 2181,1560.4 2182,1560.0 2183,1559.5 2184,1559.5 2185,1560.1 2186,1560.9 2187,1560.0 2188,1558.5 2189,1558.7 2190,1558.9 2191,1559.1 2192,1559.9 2193,1560.5 2194,1559.6 2195,1559.0"/>
<g fill="#000">
<path d="M991.0 100.0L1038.0 100.0L1014.5 143.0Z"/>
<circle cx="1379.0" cy="121.0" r="20.5"/>
<path d="M1767.5 101.5L1792.5 126.5L1767.5 151.5L1742.5 126.5Z"/>
<path d="M348.1 350.6L371.8 374.3L348.1 398.0L324.4 374.3Z"/>
<path d="M674.3 382.3L698.0 406.0L674.3 429.7L650.6 406.0Z"/>
<path d="M748.6 382.3L772.3 406.0L748.6 429.7L724.9 406.0Z"/>
<path d="M851.9 390.9L875.6 414.6L851.9 438.3L828.2 414.6Z"/>
<path d="M887.0 387.3L910.7 411.0L887.0 434.7L863.3 411.0Z"/>
<path d="M999.2 325.8L1022.9 349.5L999.2 373.2L975.5 349.5Z"/>
<path d="M1039.7 374.7L1063.4 398.4L1039.7 422.1L1016.0 398.4Z"/>
<path d="M1109.2 377.9L1132.9 401.6L1109.2 425.3L1085.5 401.6Z"/>
<path d="M1161.6 384.7L1185.3 408.4L1161.6 432.1L1137.9 408.4Z"/>
<path d="M1194.3 384.7L1218.0 408.4L1194.3 432.1L1170.6 408.4Z"/>
<path d="M1290.5 363.9L1314.2 387.6L1290.5 411.3L1266.8 387.6Z"/>
<path d="M1333.0 396.0L1356.7 419.7L1333.0 443.4L1309.3 419.7Z"/>
<path d="M1563.5 393.3L1587.2 417.0L1563.5 440.7L1539.8 417.0Z"/>
<path d="M1672.4 377.7L1696.1 401.4L1672.4 425.1L1648.7 401.4Z"/>
<circle cx="952.4" cy="413.8" r="19.5"/>
<circle cx="1769.0" cy="437.8" r="19.5"/>
<path d="M1367.5 416.8L1413.5 416.8L1390.5 455.4Z"/>
<path d="M351.4 502.3L375.1 526.0L351.4 549.7L327.7 526.0Z"/>
<path d="M674.3 588.7L698.0 612.4L674.3 636.1L650.6 612.4Z"/>
<path d="M746.0 609.8L769.7 633.5L746.0 657.2L722.3 633.5Z"/>
<path d="M854.0 621.2L877.7 644.9L854.0 668.6L830.3 644.9Z"/>
<path d="M891.9 613.1L915.6 636.8L891.9 660.5L868.2 636.8Z"/>
<path d="M996.5 468.5L1020.2 492.2L996.5 515.9L972.8 492.2Z"/>
<path d="M1036.2 591.4L1059.9 615.1L1036.2 638.8L1012.5 615.1Z"/>
<path d="M1109.2 601.7L1132.9 625.4L1109.2 649.1L1085.5 625.4Z"/>
<path d="M1158.6 604.9L1182.3 628.6L1158.6 652.3L1134.9 628.6Z"/>
<path d="M1197.0 623.9L1220.7 647.6L1197.0 671.3L1173.3 647.6Z"/>
<path d="M1290.3 603.6L1314.0 627.3L1290.3 651.0L1266.6 627.3Z"/>
<path d="M1333.0 619.0L1356.7 642.7L1333.0 666.4L1309.3 642.7Z"/>
<path d="M1558.6 624.4L1582.3 648.1L1558.6 671.8L1534.9 648.1Z"/>
<path d="M1672.4 586.0L1696.1 609.7L1672.4 633.4L1648.7 609.7Z"/>
<circle cx="949.2" cy="638.1" r="19.5"/>
<circle cx="1760.3" cy="659.2" r="19.5"/>
<path d="M1364.8 640.0L1410.8 640.0L1387.8 680.0Z"/>
<path d="M354.6 742.3L378.3 766.0L354.6 789.7L330.9 766.0Z"/>
<path d="M677.0 805.3L700.7 829.0L677.0 852.7L653.3 829.0Z"/>
<path d="M746.0 809.8L769.7 833.5L746.0 857.2L722.3 833.5Z"/>
<path d="M860.0 816.6L883.7 840.3L860.0 864.0L836.3 840.3Z"/>
<path d="M895.0 804.3L918.7 828.0L895.0 851.7L871.3 828.0Z"/>
<path d="M1002.7 732.0L1026.4 755.7L1002.7 779.4L979.0 755.7Z"/>
<path d="M1040.3 804.9L1064.0 828.6L1040.3 852.3L1016.6 828.6Z"/>
<path d="M1111.9 807.1L1135.6 830.8L1111.9 854.5L1088.2 830.8Z"/>
<path d="M1161.4 812.0L1185.1 835.7L1161.4 859.4L1137.7 835.7Z"/>
<path d="M1197.0 813.9L1220.7 837.6L1197.0 861.3L1173.3 837.6Z"/>
<path d="M1293.2 804.9L1316.9 828.6L1293.2 852.3L1269.5 828.6Z"/>
<path d="M1338.4 812.0L1362.1 835.7L1338.4 859.4L1314.7 835.7Z"/>
<path d="M1566.8 812.0L1590.5 835.7L1566.8 859.4L1543.1 835.7Z"/>
<path d="M1675.7 799.5L1699.4 823.2L1675.7 846.9L1652.0 823.2Z"/>
<circle cx="952.4" cy="815.0" r="19.5"/>
<circle cx="1762.7" cy="847.6" r="19.5"/>
<path d="M1370.8 833.5L1416.8 833.5L1393.8 872.7Z"/>
<path d="M359.5 969.0L383.2 992.7L359.5 1016.4L335.8 992.7Z"/>
<path d="M677.0 1006.0L700.7 1029.7L677.0 1053.4L653.3 1029.7Z"/>
<path d="M752.7 1000.1L776.4 1023.8L752.7 1047.5L729.0 1023.8Z"/>
<path d="M860.0 1015.8L883.7 1039.5L860.0 1063.2L836.3 1039.5Z"/>
<path d="M903.2 1008.2L926.9 1031.9L903.2 1055.6L879.5 1031.9Z"/>
<path d="M1006.0 945.5L1029.7 969.2L1006.0 992.9L982.3 969.2Z"/>
<path d="M1045.0 1005.5L1068.7 1029.2L1045.0 1052.9L1021.3 1029.2Z"/>
<path d="M1111.9 1006.0L1135.6 1029.7L1111.9 1053.4L1088.2 1029.7Z"/>
<path d="M1164.0 1011.3L1187.7 1035.0L1164.0 1058.7L1140.3 1035.0Z"/>
<path d="M1197.0 1015.8L1220.7 1039.5L1197.0 1063.2L1173.3 1039.5Z"/>
<path d="M1296.5 997.3L1320.2 1021.0L1296.5 1044.7L1272.8 1021.0Z"/>
<path d="M1335.7 1015.8L1359.4 1039.5L1335.7 1063.2L1312.0 1039.5Z"/>
<path d="M1558.6 1013.1L1582.3 1036.8L1558.6 1060.5L1534.9 1036.8Z"/>
<path d="M1676.2 1005.5L1699.9 1029.2L1676.2 1052.9L1652.5 1029.2Z"/>
<circle cx="956.0" cy="1009.0" r="19.5"/>
<circle cx="1396.8" cy="1037.3" r="19.5"/>
<circle cx="1769.0" cy="1037.3" r="19.5"/>
<circle cx="946.5" cy="1186.0" r="19.5"/>
<circle cx="1400.0" cy="1226.5" r="19.5"/>
<circle cx="1762.9" cy="1223.2" r="19.5"/>
<path d="M351.8 1291.0L375.5 1314.7L351.8 1338.4L328.1 1314.7Z"/>
<path d="M675.0 1426.5L698.7 1450.2L675.0 1473.9L651.3 1450.2Z"/>
<path d="M748.6 1467.7L772.3 1491.4L748.6 1515.1L724.9 1491.4Z"/>
<path d="M852.7 1475.2L876.4 1498.9L852.7 1522.6L829.0 1498.9Z"/>
<path d="M896.8 1485.5L920.5 1509.2L896.8 1532.9L873.1 1509.2Z"/>
<path d="M949.5 1451.4L973.2 1475.1L949.5 1498.8L925.8 1475.1Z"/>
<path d="M1031.1 1456.8L1054.8 1480.5L1031.1 1504.2L1007.4 1480.5Z"/>
<path d="M1108.9 1448.7L1132.6 1472.4L1108.9 1496.1L1085.2 1472.4Z"/>
<path d="M1152.7 1456.8L1176.4 1480.5L1152.7 1504.2L1129.0 1480.5Z"/>
<path d="M1193.8 1474.7L1217.5 1498.4L1193.8 1522.1L1170.1 1498.4Z"/>
<path d="M1290.5 1438.7L1314.2 1462.4L1290.5 1486.1L1266.8 1462.4Z"/>
<path d="M1328.1 1480.1L1351.8 1503.8L1328.1 1527.5L1304.4 1503.8Z"/>
<path d="M1393.8 1485.5L1417.5 1509.2L1393.8 1532.9L1370.1 1509.2Z"/>
<path d="M1559.5 1485.5L1583.2 1509.2L1559.5 1532.9L1535.8 1509.2Z"/>
<path d="M1669.5 1403.6L1693.2 1427.3L1669.5 1451.0L1645.8 1427.3Z"/>
</g>
<g font-family='"Liberation Sans", Arial, sans-serif' fill="#000" style="font-kerning:none">
<text transform="translate(901.87,384.00) rotate(-90) scale(1,1.02)" font-size="61.3" font-weight="bold">(023)</text>
<text transform="translate(1017.37,323.15) rotate(-90) scale(1,1.02)" font-size="61.3" font-weight="bold">(006)</text>
<text transform="translate(1132.97,368.80) rotate(-90) scale(1,1.02)" font-size="61.3" font-weight="bold">(025)</text>
<text transform="translate(1210.67,377.25) rotate(-90) scale(1,1.02)" font-size="61.3" font-weight="bold" clip-path="url(#k0)">(−116)</text>
<text transform="translate(1468.77,860.70) rotate(-90) scale(1,1.02)" font-size="61.3" font-weight="bold" clip-path="url(#k1)">(111)</text>
<text transform="translate(923.17,1245.20) rotate(-90) scale(1,1.02)" font-size="61.3" font-weight="bold" clip-path="url(#k2)">(101)</text>
<text transform="translate(1481.07,1251.30) rotate(-90) scale(1,1.02)" font-size="61.3" font-weight="bold">(004)</text>
<text transform="translate(1843.17,1258.05) rotate(-90) scale(1,1.02)" font-size="61.3" font-weight="bold">(200)</text>
<text transform="translate(435.67,1421.20) rotate(-90) scale(1,1.02)" font-size="61.3" font-weight="bold">(002)</text>
<text transform="translate(691.27,1423.80) rotate(-90) scale(1,1.02)" font-size="61.3" font-weight="bold">(004)</text>
<text transform="translate(772.37,1468.05) rotate(-90) scale(1,1.02)" font-size="61.3" font-weight="bold" clip-path="url(#k3)">(110)</text>
<text transform="translate(865.57,1473.90) rotate(-90) scale(1,1.02)" font-size="61.3" font-weight="bold" clip-path="url(#k4)">(−113)</text>
<text transform="translate(969.17,1449.25) rotate(-90) scale(1,1.02)" font-size="61.3" font-weight="bold" clip-path="url(#k5)">(−114)</text>
<text transform="translate(1069.67,1461.70) rotate(-90) scale(1,1.02)" font-size="61.3" font-weight="bold" clip-path="url(#k6)">(114)</text>
<text transform="translate(1177.77,1452.90) rotate(-90) scale(1,1.02)" font-size="61.3" font-weight="bold" clip-path="url(#k7)">(115)</text>
<text transform="translate(1306.57,1439.40) rotate(-90) scale(1,1.02)" font-size="61.3" font-weight="bold" clip-path="url(#k8)">(116)</text>
<text transform="translate(1366.77,1467.10) rotate(-90) scale(1,1.02)" font-size="61.3" font-weight="bold">(008)</text>
<text transform="translate(1425.57,1488.75) rotate(-90) scale(1,1.02)" font-size="61.3" font-weight="bold" clip-path="url(#k9)">(133)</text>
<text transform="translate(1580.17,1482.90) rotate(-90) scale(1,1.02)" font-size="61.3" font-weight="bold" clip-path="url(#k10)">(135)</text>
<text transform="translate(1696.87,1408.35) rotate(-90) scale(1,1.02)" font-size="61.3" font-weight="bold">(029)</text>
<text transform="translate(1872.59,460.00) scale(1,1.057)" font-size="97.95" font-weight="bold">5-ATM</text>
<text transform="translate(1871.06,665.30) scale(1,1.056)" font-size="97.70" font-weight="bold">3-ATM</text>
<text transform="translate(1874.09,872.70) scale(1,1.054)" font-size="98.62" font-weight="bold" clip-path="url(#k11)">1-ATM</text>
<text transform="translate(2026.91,1058.00) scale(1,1.054)" font-size="96.65" font-weight="bold">TM</text>
<text transform="translate(2044.96,1247.60) scale(1,1.050)" font-size="97.73" font-weight="bold">PT</text>
<text transform="translate(1984.70,1529.30) scale(1,1.054)" font-size="98.62" font-weight="bold">Mus</text>
<text transform="translate(1053.47,156.00) scale(1,1.045)" font-size="101.51" font-weight="bold">Ag</text>
<text transform="translate(1414.49,157.30) scale(1,1.063)" font-size="99.24" font-weight="bold">TiO</text>
<text transform="translate(1577.47,182.00) scale(1,1.013)" font-size="64.18" font-weight="bold">2</text>
<text transform="translate(1814.42,164.40) scale(1,1.065)" font-size="98.30" font-weight="bold">Mus</text>
<text transform="translate(353.38,1739.00) scale(1,1.014)" font-size="70.60" font-weight="normal" clip-path="url(#k12)">10</text>
<text transform="translate(715.19,1739.00) scale(1,1.014)" font-size="70.60" font-weight="normal">20</text>
<text transform="translate(1076.52,1739.00) scale(1,1.014)" font-size="70.60" font-weight="normal">30</text>
<text transform="translate(1437.95,1739.00) scale(1,1.014)" font-size="70.60" font-weight="normal">40</text>
<text transform="translate(1798.25,1739.00) scale(1,1.014)" font-size="70.60" font-weight="normal">50</text>
<text transform="translate(2158.77,1739.00) scale(1,1.014)" font-size="70.60" font-weight="normal">60</text>
</g>
<g font-family='"Liberation Sans", Arial, sans-serif' fill="#000" style="font-kerning:none">
<text transform="translate(1096.1,1892) scale(1,1.02)" font-size="84" font-weight="bold">2</text>
<text transform="translate(1143,1893) scale(0.95,1)" font-size="82">θ</text>
<text transform="translate(1206.7,1892)" font-size="86" font-weight="bold">(°)</text>
<text transform="translate(85,1086.6) rotate(-90) scale(1,1.02)" font-size="83.5" font-weight="bold">Intensity (a.u.)</text>
</g>
<g stroke="#000" stroke-width="8" fill="none">
<path d="M212 32 H2197.5 V1632 H212 Z" stroke-linejoin="miter"/>
<path d="M212.0 1632V1647 M392.5 1632V1662 M572.9 1632V1647 M753.4 1632V1662 M933.8 1632V1647 M1114.2 1632V1662 M1294.7 1632V1647 M1475.2 1632V1662 M1655.6 1632V1647 M1836.1 1632V1662 M2016.5 1632V1647 M2197.5 1632V1662" stroke-linecap="butt"/>
</g></svg></body></html>
